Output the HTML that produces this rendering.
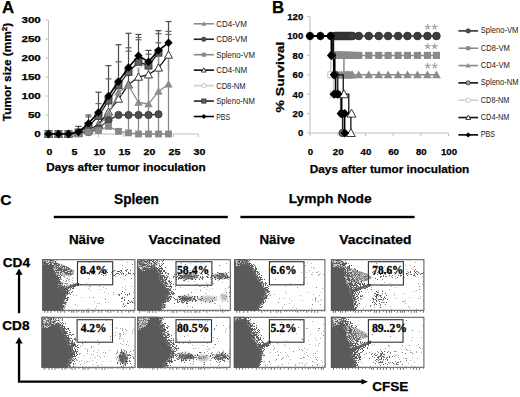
<!DOCTYPE html><html><head><meta charset="utf-8"><style>html,body{margin:0;padding:0;background:#fff;width:520px;height:397px;overflow:hidden}svg{display:block}</style></head><body>
<svg width="520" height="397" viewBox="0 0 520 397">
<rect width="520" height="397" fill="#fff"/>
<g id="chartA">
<text x="2" y="12.8" font-size="16.8" font-weight="bold" stroke="#000" stroke-width="0.25" fill="#000" font-family="Liberation Sans">A</text>
<line x1="48.5" y1="20.0" x2="48.5" y2="134.0" stroke="#bdbdbd" stroke-width="1"/>
<line x1="48.5" y1="134.0" x2="198.5" y2="134.0" stroke="#bdbdbd" stroke-width="1"/>
<line x1="45.5" y1="134" x2="48.5" y2="134" stroke="#bdbdbd" stroke-width="1"/>
<line x1="45.5" y1="115" x2="48.5" y2="115" stroke="#bdbdbd" stroke-width="1"/>
<line x1="45.5" y1="96" x2="48.5" y2="96" stroke="#bdbdbd" stroke-width="1"/>
<line x1="45.5" y1="77" x2="48.5" y2="77" stroke="#bdbdbd" stroke-width="1"/>
<line x1="45.5" y1="58" x2="48.5" y2="58" stroke="#bdbdbd" stroke-width="1"/>
<line x1="45.5" y1="39" x2="48.5" y2="39" stroke="#bdbdbd" stroke-width="1"/>
<line x1="45.5" y1="20" x2="48.5" y2="20" stroke="#bdbdbd" stroke-width="1"/>
<line x1="48.5" y1="134.0" x2="48.5" y2="137.0" stroke="#bdbdbd" stroke-width="1"/>
<line x1="73.5" y1="134.0" x2="73.5" y2="137.0" stroke="#bdbdbd" stroke-width="1"/>
<line x1="98.5" y1="134.0" x2="98.5" y2="137.0" stroke="#bdbdbd" stroke-width="1"/>
<line x1="123.5" y1="134.0" x2="123.5" y2="137.0" stroke="#bdbdbd" stroke-width="1"/>
<line x1="148.5" y1="134.0" x2="148.5" y2="137.0" stroke="#bdbdbd" stroke-width="1"/>
<line x1="173.5" y1="134.0" x2="173.5" y2="137.0" stroke="#bdbdbd" stroke-width="1"/>
<line x1="198.5" y1="134.0" x2="198.5" y2="137.0" stroke="#bdbdbd" stroke-width="1"/>
<text x="34.35" y="137.3" font-size="9.3" font-weight="bold" stroke="#000" stroke-width="0.25" fill="#000" font-family="Liberation Sans" textLength="6.45" lengthAdjust="spacingAndGlyphs">0</text>
<text x="27.9" y="118.3" font-size="9.3" font-weight="bold" stroke="#000" stroke-width="0.25" fill="#000" font-family="Liberation Sans" textLength="12.9" lengthAdjust="spacingAndGlyphs">50</text>
<text x="21.45" y="99.3" font-size="9.3" font-weight="bold" stroke="#000" stroke-width="0.25" fill="#000" font-family="Liberation Sans" textLength="19.35" lengthAdjust="spacingAndGlyphs">100</text>
<text x="21.45" y="80.3" font-size="9.3" font-weight="bold" stroke="#000" stroke-width="0.25" fill="#000" font-family="Liberation Sans" textLength="19.35" lengthAdjust="spacingAndGlyphs">150</text>
<text x="21.45" y="61.3" font-size="9.3" font-weight="bold" stroke="#000" stroke-width="0.25" fill="#000" font-family="Liberation Sans" textLength="19.35" lengthAdjust="spacingAndGlyphs">200</text>
<text x="21.45" y="42.3" font-size="9.3" font-weight="bold" stroke="#000" stroke-width="0.25" fill="#000" font-family="Liberation Sans" textLength="19.35" lengthAdjust="spacingAndGlyphs">250</text>
<text x="21.45" y="23.3" font-size="9.3" font-weight="bold" stroke="#000" stroke-width="0.25" fill="#000" font-family="Liberation Sans" textLength="19.35" lengthAdjust="spacingAndGlyphs">300</text>
<text x="46.45" y="154.7" font-size="9.5" font-weight="bold" stroke="#000" stroke-width="0.25" fill="#000" font-family="Liberation Sans" textLength="5.9" lengthAdjust="spacingAndGlyphs">0</text>
<text x="71.45" y="154.7" font-size="9.5" font-weight="bold" stroke="#000" stroke-width="0.25" fill="#000" font-family="Liberation Sans" textLength="5.9" lengthAdjust="spacingAndGlyphs">5</text>
<text x="93.5" y="154.7" font-size="9.5" font-weight="bold" stroke="#000" stroke-width="0.25" fill="#000" font-family="Liberation Sans" textLength="11.8" lengthAdjust="spacingAndGlyphs">10</text>
<text x="118.5" y="154.7" font-size="9.5" font-weight="bold" stroke="#000" stroke-width="0.25" fill="#000" font-family="Liberation Sans" textLength="11.8" lengthAdjust="spacingAndGlyphs">15</text>
<text x="143.5" y="154.7" font-size="9.5" font-weight="bold" stroke="#000" stroke-width="0.25" fill="#000" font-family="Liberation Sans" textLength="11.8" lengthAdjust="spacingAndGlyphs">20</text>
<text x="168.5" y="154.7" font-size="9.5" font-weight="bold" stroke="#000" stroke-width="0.25" fill="#000" font-family="Liberation Sans" textLength="11.8" lengthAdjust="spacingAndGlyphs">25</text>
<text x="193.5" y="154.7" font-size="9.5" font-weight="bold" stroke="#000" stroke-width="0.25" fill="#000" font-family="Liberation Sans" textLength="11.8" lengthAdjust="spacingAndGlyphs">30</text>
<text x="46.2" y="171" font-size="11.6" font-weight="bold" stroke="#000" stroke-width="0.25" fill="#000" font-family="Liberation Sans" textLength="159.5" lengthAdjust="spacingAndGlyphs">Days after tumor inoculation</text>
<text transform="translate(10.9,121.2) rotate(-90)" x="0" y="0" font-size="11" font-weight="bold" stroke="#000" stroke-width="0.25" font-family="Liberation Sans" textLength="98.5" lengthAdjust="spacingAndGlyphs">Tumor size (mm<tspan font-size="7.5" dy="-3.8">2</tspan><tspan dy="3.8">)</tspan></text>
<line x1="88.5" y1="115" x2="88.5" y2="126.4" stroke="#4a4a4a" stroke-width="1.2"/>
<line x1="85.5" y1="115" x2="91.5" y2="115" stroke="#4a4a4a" stroke-width="1.2"/>
<line x1="98.5" y1="92.2" x2="98.5" y2="118.8" stroke="#4a4a4a" stroke-width="1.2"/>
<line x1="95.5" y1="92.2" x2="101.5" y2="92.2" stroke="#4a4a4a" stroke-width="1.2"/>
<line x1="108.5" y1="65.6" x2="108.5" y2="107.4" stroke="#4a4a4a" stroke-width="1.2"/>
<line x1="105.5" y1="65.6" x2="111.5" y2="65.6" stroke="#4a4a4a" stroke-width="1.2"/>
<line x1="118.5" y1="44.7" x2="118.5" y2="92.2" stroke="#4a4a4a" stroke-width="1.2"/>
<line x1="115.5" y1="44.7" x2="121.5" y2="44.7" stroke="#4a4a4a" stroke-width="1.2"/>
<line x1="128.5" y1="33.3" x2="128.5" y2="88.4" stroke="#4a4a4a" stroke-width="1.2"/>
<line x1="125.5" y1="33.3" x2="131.5" y2="33.3" stroke="#4a4a4a" stroke-width="1.2"/>
<line x1="138.5" y1="34.44" x2="138.5" y2="96" stroke="#4a4a4a" stroke-width="1.2"/>
<line x1="135.5" y1="34.44" x2="141.5" y2="34.44" stroke="#4a4a4a" stroke-width="1.2"/>
<line x1="148.5" y1="50.4" x2="148.5" y2="92.2" stroke="#4a4a4a" stroke-width="1.2"/>
<line x1="145.5" y1="50.4" x2="151.5" y2="50.4" stroke="#4a4a4a" stroke-width="1.2"/>
<line x1="158.5" y1="30.64" x2="158.5" y2="77" stroke="#4a4a4a" stroke-width="1.2"/>
<line x1="155.5" y1="30.64" x2="161.5" y2="30.64" stroke="#4a4a4a" stroke-width="1.2"/>
<line x1="168.5" y1="21.52" x2="168.5" y2="69.4" stroke="#4a4a4a" stroke-width="1.2"/>
<line x1="165.5" y1="21.52" x2="171.5" y2="21.52" stroke="#4a4a4a" stroke-width="1.2"/>
<line x1="78.5" y1="126.4" x2="78.5" y2="134" stroke="#4a4a4a" stroke-width="1.2"/>
<line x1="75.5" y1="126.4" x2="81.5" y2="126.4" stroke="#4a4a4a" stroke-width="1.2"/>
<line x1="115.5" y1="61.8" x2="121.5" y2="61.8" stroke="#666" stroke-width="1.2"/>
<line x1="125.5" y1="47.74" x2="131.5" y2="47.74" stroke="#666" stroke-width="1.2"/>
<line x1="125.5" y1="51.16" x2="131.5" y2="51.16" stroke="#666" stroke-width="1.2"/>
<line x1="135.5" y1="37.48" x2="141.5" y2="37.48" stroke="#666" stroke-width="1.2"/>
<line x1="135.5" y1="39.76" x2="141.5" y2="39.76" stroke="#666" stroke-width="1.2"/>
<line x1="145.5" y1="54.2" x2="151.5" y2="54.2" stroke="#666" stroke-width="1.2"/>
<line x1="155.5" y1="33.68" x2="161.5" y2="33.68" stroke="#666" stroke-width="1.2"/>
<line x1="155.5" y1="42.8" x2="161.5" y2="42.8" stroke="#666" stroke-width="1.2"/>
<line x1="165.5" y1="31.4" x2="171.5" y2="31.4" stroke="#666" stroke-width="1.2"/>
<line x1="165.5" y1="34.44" x2="171.5" y2="34.44" stroke="#666" stroke-width="1.2"/>
<line x1="95.5" y1="103.6" x2="101.5" y2="103.6" stroke="#666" stroke-width="1.2"/>
<line x1="105.5" y1="78.9" x2="111.5" y2="78.9" stroke="#666" stroke-width="1.2"/>
<line x1="85.5" y1="116.9" x2="91.5" y2="116.9" stroke="#666" stroke-width="1.2"/>
<line x1="128.5" y1="84.6" x2="128.5" y2="134" stroke="#8a8a8a" stroke-width="1.3"/>
<line x1="138.5" y1="69.4" x2="138.5" y2="134" stroke="#8a8a8a" stroke-width="1.3"/>
<line x1="148.5" y1="73.2" x2="148.5" y2="134" stroke="#8a8a8a" stroke-width="1.3"/>
<line x1="158.5" y1="50.4" x2="158.5" y2="134" stroke="#8a8a8a" stroke-width="1.3"/>
<line x1="168.5" y1="54.2" x2="168.5" y2="134" stroke="#8a8a8a" stroke-width="1.3"/>
<polyline fill="none" stroke="#cfcfcf" stroke-width="1.3" points="48.5,134 58.5,134 68.5,134 78.5,132.1 88.5,125.64 98.5,115 108.5,97.9 118.5,80.8 128.5,70.16 138.5,64.84 148.5,66.36 158.5,53.44"/>
<circle cx="48.5" cy="134" r="3.5" fill="#fff" stroke="#c8c8c8" stroke-width="1"/>
<circle cx="58.5" cy="134" r="3.5" fill="#fff" stroke="#c8c8c8" stroke-width="1"/>
<circle cx="68.5" cy="134" r="3.5" fill="#fff" stroke="#c8c8c8" stroke-width="1"/>
<circle cx="78.5" cy="132.1" r="3.5" fill="#fff" stroke="#c8c8c8" stroke-width="1"/>
<circle cx="88.5" cy="125.64" r="3.5" fill="#fff" stroke="#c8c8c8" stroke-width="1"/>
<circle cx="98.5" cy="115" r="3.5" fill="#fff" stroke="#c8c8c8" stroke-width="1"/>
<circle cx="108.5" cy="97.9" r="3.5" fill="#fff" stroke="#c8c8c8" stroke-width="1"/>
<circle cx="118.5" cy="80.8" r="3.5" fill="#fff" stroke="#c8c8c8" stroke-width="1"/>
<circle cx="128.5" cy="70.16" r="3.5" fill="#fff" stroke="#c8c8c8" stroke-width="1"/>
<circle cx="138.5" cy="64.84" r="3.5" fill="#fff" stroke="#c8c8c8" stroke-width="1"/>
<circle cx="148.5" cy="66.36" r="3.5" fill="#fff" stroke="#c8c8c8" stroke-width="1"/>
<circle cx="158.5" cy="53.44" r="3.5" fill="#fff" stroke="#c8c8c8" stroke-width="1"/>
<polyline fill="none" stroke="#222" stroke-width="1.3" points="48.5,134 58.5,134 68.5,134 78.5,132.48 88.5,126.4 98.5,116.14 108.5,100.56 118.5,85.36 128.5,72.06 138.5,61.8 148.5,65.6 158.5,52.68"/>
<rect x="45" y="130.5" width="7" height="7" fill="#606060" stroke="#333" stroke-width="0.8"/>
<rect x="55" y="130.5" width="7" height="7" fill="#606060" stroke="#333" stroke-width="0.8"/>
<rect x="65" y="130.5" width="7" height="7" fill="#606060" stroke="#333" stroke-width="0.8"/>
<rect x="75" y="128.98" width="7" height="7" fill="#606060" stroke="#333" stroke-width="0.8"/>
<rect x="85" y="122.9" width="7" height="7" fill="#606060" stroke="#333" stroke-width="0.8"/>
<rect x="95" y="112.64" width="7" height="7" fill="#606060" stroke="#333" stroke-width="0.8"/>
<rect x="105" y="97.06" width="7" height="7" fill="#606060" stroke="#333" stroke-width="0.8"/>
<rect x="115" y="81.86" width="7" height="7" fill="#606060" stroke="#333" stroke-width="0.8"/>
<rect x="125" y="68.56" width="7" height="7" fill="#606060" stroke="#333" stroke-width="0.8"/>
<rect x="135" y="58.3" width="7" height="7" fill="#606060" stroke="#333" stroke-width="0.8"/>
<rect x="145" y="62.1" width="7" height="7" fill="#606060" stroke="#333" stroke-width="0.8"/>
<rect x="155" y="49.18" width="7" height="7" fill="#606060" stroke="#333" stroke-width="0.8"/>
<polyline fill="none" stroke="#111" stroke-width="1.3" points="48.5,134 58.5,134 68.5,134 78.5,133.24 88.5,130.2 98.5,124.5 108.5,111.96 118.5,99.04 128.5,84.6 138.5,77 148.5,74.72 158.5,67.88 168.5,54.96"/>
<path d="M48.5 130L52.5 137.2L44.5 137.2Z" fill="#fff" stroke="#222" stroke-width="0.9"/>
<path d="M58.5 130L62.5 137.2L54.5 137.2Z" fill="#fff" stroke="#222" stroke-width="0.9"/>
<path d="M68.5 130L72.5 137.2L64.5 137.2Z" fill="#fff" stroke="#222" stroke-width="0.9"/>
<path d="M78.5 129.24L82.5 136.44L74.5 136.44Z" fill="#fff" stroke="#222" stroke-width="0.9"/>
<path d="M88.5 126.2L92.5 133.4L84.5 133.4Z" fill="#fff" stroke="#222" stroke-width="0.9"/>
<path d="M98.5 120.5L102.5 127.7L94.5 127.7Z" fill="#fff" stroke="#222" stroke-width="0.9"/>
<path d="M108.5 107.96L112.5 115.16L104.5 115.16Z" fill="#fff" stroke="#222" stroke-width="0.9"/>
<path d="M118.5 95.04L122.5 102.24L114.5 102.24Z" fill="#fff" stroke="#222" stroke-width="0.9"/>
<path d="M128.5 80.6L132.5 87.8L124.5 87.8Z" fill="#fff" stroke="#222" stroke-width="0.9"/>
<path d="M138.5 73L142.5 80.2L134.5 80.2Z" fill="#fff" stroke="#222" stroke-width="0.9"/>
<path d="M148.5 70.72L152.5 77.92L144.5 77.92Z" fill="#fff" stroke="#222" stroke-width="0.9"/>
<path d="M158.5 63.88L162.5 71.08L154.5 71.08Z" fill="#fff" stroke="#222" stroke-width="0.9"/>
<path d="M168.5 50.96L172.5 58.16L164.5 58.16Z" fill="#fff" stroke="#222" stroke-width="0.9"/>
<polyline fill="none" stroke="#8c8c8c" stroke-width="1.3" points="48.5,134 58.5,134 68.5,134 78.5,133.24 88.5,130.96 98.5,125.64 108.5,114.24 118.5,92.2 128.5,85.36 138.5,102.46 148.5,103.98 158.5,91.44 168.5,84.22"/>
<path d="M48.5 129.8L52.7 137.36L44.3 137.36Z" fill="#8c8c8c"/>
<path d="M58.5 129.8L62.7 137.36L54.3 137.36Z" fill="#8c8c8c"/>
<path d="M68.5 129.8L72.7 137.36L64.3 137.36Z" fill="#8c8c8c"/>
<path d="M78.5 129.04L82.7 136.6L74.3 136.6Z" fill="#8c8c8c"/>
<path d="M88.5 126.76L92.7 134.32L84.3 134.32Z" fill="#8c8c8c"/>
<path d="M98.5 121.44L102.7 129L94.3 129Z" fill="#8c8c8c"/>
<path d="M108.5 110.04L112.7 117.6L104.3 117.6Z" fill="#8c8c8c"/>
<path d="M118.5 88L122.7 95.56L114.3 95.56Z" fill="#8c8c8c"/>
<path d="M128.5 81.16L132.7 88.72L124.3 88.72Z" fill="#8c8c8c"/>
<path d="M138.5 98.26L142.7 105.82L134.3 105.82Z" fill="#8c8c8c"/>
<path d="M148.5 99.78L152.7 107.34L144.3 107.34Z" fill="#8c8c8c"/>
<path d="M158.5 87.24L162.7 94.8L154.3 94.8Z" fill="#8c8c8c"/>
<path d="M168.5 80.02L172.7 87.58L164.3 87.58Z" fill="#8c8c8c"/>
<polyline fill="none" stroke="#3a3a3a" stroke-width="1.3" points="48.5,134 58.5,134 68.5,134 78.5,133.24 88.5,132.1 98.5,128.3 108.5,120.32 118.5,115 128.5,115 138.5,115 148.5,115 158.5,114.24"/>
<circle cx="48.5" cy="134" r="3.7" fill="#4d4d4d" stroke="#333" stroke-width="0.6"/>
<circle cx="58.5" cy="134" r="3.7" fill="#4d4d4d" stroke="#333" stroke-width="0.6"/>
<circle cx="68.5" cy="134" r="3.7" fill="#4d4d4d" stroke="#333" stroke-width="0.6"/>
<circle cx="78.5" cy="133.24" r="3.7" fill="#4d4d4d" stroke="#333" stroke-width="0.6"/>
<circle cx="88.5" cy="132.1" r="3.7" fill="#4d4d4d" stroke="#333" stroke-width="0.6"/>
<circle cx="98.5" cy="128.3" r="3.7" fill="#4d4d4d" stroke="#333" stroke-width="0.6"/>
<circle cx="108.5" cy="120.32" r="3.7" fill="#4d4d4d" stroke="#333" stroke-width="0.6"/>
<circle cx="118.5" cy="115" r="3.7" fill="#4d4d4d" stroke="#333" stroke-width="0.6"/>
<circle cx="128.5" cy="115" r="3.7" fill="#4d4d4d" stroke="#333" stroke-width="0.6"/>
<circle cx="138.5" cy="115" r="3.7" fill="#4d4d4d" stroke="#333" stroke-width="0.6"/>
<circle cx="148.5" cy="115" r="3.7" fill="#4d4d4d" stroke="#333" stroke-width="0.6"/>
<circle cx="158.5" cy="114.24" r="3.7" fill="#4d4d4d" stroke="#333" stroke-width="0.6"/>
<polyline fill="none" stroke="#888" stroke-width="1.3" points="48.5,134 58.5,134 68.5,134 78.5,134 88.5,132.1 98.5,130.58 108.5,126.4 118.5,131.34 128.5,132.86 138.5,134 148.5,134 158.5,134 168.5,134"/>
<rect x="45.1" y="130.6" width="6.8" height="6.8" fill="#888"/>
<rect x="55.1" y="130.6" width="6.8" height="6.8" fill="#888"/>
<rect x="65.1" y="130.6" width="6.8" height="6.8" fill="#888"/>
<rect x="75.1" y="130.6" width="6.8" height="6.8" fill="#888"/>
<rect x="85.1" y="128.7" width="6.8" height="6.8" fill="#888"/>
<rect x="95.1" y="127.18" width="6.8" height="6.8" fill="#888"/>
<rect x="105.1" y="123" width="6.8" height="6.8" fill="#888"/>
<rect x="115.1" y="127.94" width="6.8" height="6.8" fill="#888"/>
<rect x="125.1" y="129.46" width="6.8" height="6.8" fill="#888"/>
<rect x="135.1" y="130.6" width="6.8" height="6.8" fill="#888"/>
<rect x="145.1" y="130.6" width="6.8" height="6.8" fill="#888"/>
<rect x="155.1" y="130.6" width="6.8" height="6.8" fill="#888"/>
<rect x="165.1" y="130.6" width="6.8" height="6.8" fill="#888"/>
<polyline fill="none" stroke="#000" stroke-width="1.6" points="48.5,134 58.5,134 68.5,134 78.5,132.1 88.5,123.36 98.5,112.34 108.5,96 118.5,81.56 128.5,67.5 138.5,55.72 148.5,61.8 158.5,50.4 168.5,42.8"/>
<path d="M48.5 129.8L52.7 134L48.5 138.2L44.3 134Z" fill="#000"/>
<path d="M58.5 129.8L62.7 134L58.5 138.2L54.3 134Z" fill="#000"/>
<path d="M68.5 129.8L72.7 134L68.5 138.2L64.3 134Z" fill="#000"/>
<path d="M78.5 127.9L82.7 132.1L78.5 136.3L74.3 132.1Z" fill="#000"/>
<path d="M88.5 119.16L92.7 123.36L88.5 127.56L84.3 123.36Z" fill="#000"/>
<path d="M98.5 108.14L102.7 112.34L98.5 116.54L94.3 112.34Z" fill="#000"/>
<path d="M108.5 91.8L112.7 96L108.5 100.2L104.3 96Z" fill="#000"/>
<path d="M118.5 77.36L122.7 81.56L118.5 85.76L114.3 81.56Z" fill="#000"/>
<path d="M128.5 63.3L132.7 67.5L128.5 71.7L124.3 67.5Z" fill="#000"/>
<path d="M138.5 51.52L142.7 55.72L138.5 59.92L134.3 55.72Z" fill="#000"/>
<path d="M148.5 57.6L152.7 61.8L148.5 66L144.3 61.8Z" fill="#000"/>
<path d="M158.5 46.2L162.7 50.4L158.5 54.6L154.3 50.4Z" fill="#000"/>
<path d="M168.5 38.6L172.7 42.8L168.5 47L164.3 42.8Z" fill="#000"/>
</g>
<line x1="193.8" y1="23.8" x2="213.9" y2="23.8" stroke="#8c8c8c" stroke-width="1.6"/>
<path d="M203.8 21.28L206.32 25.82L201.28 25.82Z" fill="#8c8c8c"/>
<text x="216.2" y="26.9" font-size="8.6" fill="#222" font-family="Liberation Sans" textLength="30.7" lengthAdjust="spacingAndGlyphs">CD4-VM</text>
<line x1="193.8" y1="39.25" x2="213.9" y2="39.25" stroke="#222" stroke-width="1.6"/>
<circle cx="203.8" cy="39.25" r="2.22" fill="#4d4d4d" stroke="#333" stroke-width="0.6"/>
<text x="216.2" y="42.35" font-size="8.6" fill="#222" font-family="Liberation Sans" textLength="31" lengthAdjust="spacingAndGlyphs">CD8-VM</text>
<line x1="193.8" y1="54.7" x2="213.9" y2="54.7" stroke="#888" stroke-width="1.6"/>
<rect x="201.76" y="52.66" width="4.08" height="4.08" fill="#888"/>
<text x="216.2" y="57.8" font-size="8.6" fill="#222" font-family="Liberation Sans" textLength="39" lengthAdjust="spacingAndGlyphs">Spleno-VM</text>
<line x1="193.8" y1="70.15" x2="213.9" y2="70.15" stroke="#111" stroke-width="1.6"/>
<path d="M203.8 67.75L206.2 72.07L201.4 72.07Z" fill="#fff" stroke="#222" stroke-width="0.9"/>
<text x="216.2" y="73.25" font-size="8.6" fill="#222" font-family="Liberation Sans" textLength="31" lengthAdjust="spacingAndGlyphs">CD4-NM</text>
<line x1="193.8" y1="85.6" x2="213.9" y2="85.6" stroke="#cfcfcf" stroke-width="1.6"/>
<circle cx="203.8" cy="85.6" r="2.1" fill="#fff" stroke="#c8c8c8" stroke-width="1"/>
<text x="216.2" y="88.7" font-size="8.6" fill="#222" font-family="Liberation Sans" textLength="29.3" lengthAdjust="spacingAndGlyphs">CD8-NM</text>
<line x1="193.8" y1="101.05" x2="213.9" y2="101.05" stroke="#222" stroke-width="1.6"/>
<rect x="201.7" y="98.95" width="4.2" height="4.2" fill="#606060" stroke="#333" stroke-width="0.8"/>
<text x="216.2" y="104.15" font-size="8.6" fill="#222" font-family="Liberation Sans" textLength="38.7" lengthAdjust="spacingAndGlyphs">Spleno-NM</text>
<line x1="193.8" y1="116.5" x2="213.9" y2="116.5" stroke="#000" stroke-width="1.6"/>
<path d="M203.8 113.98L206.32 116.5L203.8 119.02L201.28 116.5Z" fill="#000"/>
<text x="216.2" y="119.6" font-size="8.6" fill="#222" font-family="Liberation Sans" textLength="14" lengthAdjust="spacingAndGlyphs">PBS</text>
<g id="chartB">
<text x="272" y="12.8" font-size="16.8" font-weight="bold" stroke="#000" stroke-width="0.25" fill="#000" font-family="Liberation Sans">B</text>
<line x1="310.0" y1="16.6" x2="310.0" y2="133.0" stroke="#bdbdbd" stroke-width="1"/>
<line x1="310.0" y1="133.0" x2="448.5" y2="133.0" stroke="#bdbdbd" stroke-width="1"/>
<line x1="307" y1="133" x2="310" y2="133" stroke="#bdbdbd" stroke-width="1"/>
<line x1="307" y1="113.6" x2="310" y2="113.6" stroke="#bdbdbd" stroke-width="1"/>
<line x1="307" y1="94.2" x2="310" y2="94.2" stroke="#bdbdbd" stroke-width="1"/>
<line x1="307" y1="74.8" x2="310" y2="74.8" stroke="#bdbdbd" stroke-width="1"/>
<line x1="307" y1="55.4" x2="310" y2="55.4" stroke="#bdbdbd" stroke-width="1"/>
<line x1="307" y1="36" x2="310" y2="36" stroke="#bdbdbd" stroke-width="1"/>
<line x1="307" y1="16.6" x2="310" y2="16.6" stroke="#bdbdbd" stroke-width="1"/>
<line x1="310" y1="133.0" x2="310" y2="136.0" stroke="#bdbdbd" stroke-width="1"/>
<line x1="337.7" y1="133.0" x2="337.7" y2="136.0" stroke="#bdbdbd" stroke-width="1"/>
<line x1="365.4" y1="133.0" x2="365.4" y2="136.0" stroke="#bdbdbd" stroke-width="1"/>
<line x1="393.1" y1="133.0" x2="393.1" y2="136.0" stroke="#bdbdbd" stroke-width="1"/>
<line x1="420.8" y1="133.0" x2="420.8" y2="136.0" stroke="#bdbdbd" stroke-width="1"/>
<line x1="448.5" y1="133.0" x2="448.5" y2="136.0" stroke="#bdbdbd" stroke-width="1"/>
<text x="297.9" y="136.3" font-size="9.5" font-weight="bold" stroke="#000" stroke-width="0.25" fill="#000" font-family="Liberation Sans" textLength="5.3" lengthAdjust="spacingAndGlyphs">0</text>
<text x="292.6" y="116.9" font-size="9.5" font-weight="bold" stroke="#000" stroke-width="0.25" fill="#000" font-family="Liberation Sans" textLength="10.6" lengthAdjust="spacingAndGlyphs">20</text>
<text x="292.6" y="97.5" font-size="9.5" font-weight="bold" stroke="#000" stroke-width="0.25" fill="#000" font-family="Liberation Sans" textLength="10.6" lengthAdjust="spacingAndGlyphs">40</text>
<text x="292.6" y="78.1" font-size="9.5" font-weight="bold" stroke="#000" stroke-width="0.25" fill="#000" font-family="Liberation Sans" textLength="10.6" lengthAdjust="spacingAndGlyphs">60</text>
<text x="292.6" y="58.7" font-size="9.5" font-weight="bold" stroke="#000" stroke-width="0.25" fill="#000" font-family="Liberation Sans" textLength="10.6" lengthAdjust="spacingAndGlyphs">80</text>
<text x="287.3" y="39.3" font-size="9.5" font-weight="bold" stroke="#000" stroke-width="0.25" fill="#000" font-family="Liberation Sans" textLength="15.9" lengthAdjust="spacingAndGlyphs">100</text>
<text x="287.3" y="19.9" font-size="9.5" font-weight="bold" stroke="#000" stroke-width="0.25" fill="#000" font-family="Liberation Sans" textLength="15.9" lengthAdjust="spacingAndGlyphs">120</text>
<text x="307.8" y="154.5" font-size="9.5" font-weight="bold" stroke="#000" stroke-width="0.25" fill="#000" font-family="Liberation Sans" textLength="5.4" lengthAdjust="spacingAndGlyphs">0</text>
<text x="332.8" y="154.5" font-size="9.5" font-weight="bold" stroke="#000" stroke-width="0.25" fill="#000" font-family="Liberation Sans" textLength="10.8" lengthAdjust="spacingAndGlyphs">20</text>
<text x="360.5" y="154.5" font-size="9.5" font-weight="bold" stroke="#000" stroke-width="0.25" fill="#000" font-family="Liberation Sans" textLength="10.8" lengthAdjust="spacingAndGlyphs">40</text>
<text x="388.2" y="154.5" font-size="9.5" font-weight="bold" stroke="#000" stroke-width="0.25" fill="#000" font-family="Liberation Sans" textLength="10.8" lengthAdjust="spacingAndGlyphs">60</text>
<text x="415.9" y="154.5" font-size="9.5" font-weight="bold" stroke="#000" stroke-width="0.25" fill="#000" font-family="Liberation Sans" textLength="10.8" lengthAdjust="spacingAndGlyphs">80</text>
<text x="440.9" y="154.5" font-size="9.5" font-weight="bold" stroke="#000" stroke-width="0.25" fill="#000" font-family="Liberation Sans" textLength="16.2" lengthAdjust="spacingAndGlyphs">100</text>
<text x="309.8" y="172.9" font-size="11.6" font-weight="bold" stroke="#000" stroke-width="0.25" fill="#000" font-family="Liberation Sans" textLength="159.5" lengthAdjust="spacingAndGlyphs">Days after tumor inoculation</text>
<text transform="translate(284.1,112.6) rotate(-90)" x="0" y="0" font-size="11.5" font-weight="bold" stroke="#000" stroke-width="0.25" font-family="Liberation Sans" textLength="71" lengthAdjust="spacingAndGlyphs">% Survival</text>
<path d="M310 36H436.03 V36" fill="none" stroke="#333" stroke-width="1.5"/>
<path d="M310 36H332.16 V55.4H436.03 V55.4" fill="none" stroke="#8a8a8a" stroke-width="1.5"/>
<path d="M310 36H332.16 V55.4H343.93 V74.8H436.03 V74.8" fill="none" stroke="#8a8a8a" stroke-width="1.5"/>
<circle cx="334.93" cy="36" r="3.9" fill="#3c3c3c" stroke="#2a2a2a" stroke-width="0.6"/>
<circle cx="336.18" cy="36" r="3.9" fill="#3c3c3c" stroke="#2a2a2a" stroke-width="0.6"/>
<circle cx="337.42" cy="36" r="3.9" fill="#3c3c3c" stroke="#2a2a2a" stroke-width="0.6"/>
<circle cx="338.67" cy="36" r="3.9" fill="#3c3c3c" stroke="#2a2a2a" stroke-width="0.6"/>
<circle cx="339.92" cy="36" r="3.9" fill="#3c3c3c" stroke="#2a2a2a" stroke-width="0.6"/>
<circle cx="341.16" cy="36" r="3.9" fill="#3c3c3c" stroke="#2a2a2a" stroke-width="0.6"/>
<circle cx="342.41" cy="36" r="3.9" fill="#3c3c3c" stroke="#2a2a2a" stroke-width="0.6"/>
<circle cx="343.66" cy="36" r="3.9" fill="#3c3c3c" stroke="#2a2a2a" stroke-width="0.6"/>
<circle cx="344.9" cy="36" r="3.9" fill="#3c3c3c" stroke="#2a2a2a" stroke-width="0.6"/>
<circle cx="346.15" cy="36" r="3.9" fill="#3c3c3c" stroke="#2a2a2a" stroke-width="0.6"/>
<circle cx="347.39" cy="36" r="3.9" fill="#3c3c3c" stroke="#2a2a2a" stroke-width="0.6"/>
<circle cx="348.64" cy="36" r="3.9" fill="#3c3c3c" stroke="#2a2a2a" stroke-width="0.6"/>
<circle cx="349.89" cy="36" r="3.9" fill="#3c3c3c" stroke="#2a2a2a" stroke-width="0.6"/>
<circle cx="351.13" cy="36" r="3.9" fill="#3c3c3c" stroke="#2a2a2a" stroke-width="0.6"/>
<circle cx="352.38" cy="36" r="3.9" fill="#3c3c3c" stroke="#2a2a2a" stroke-width="0.6"/>
<circle cx="358.75" cy="36" r="3.9" fill="#3c3c3c" stroke="#2a2a2a" stroke-width="0.6"/>
<circle cx="368.72" cy="36" r="3.9" fill="#3c3c3c" stroke="#2a2a2a" stroke-width="0.6"/>
<circle cx="378.7" cy="36" r="3.9" fill="#3c3c3c" stroke="#2a2a2a" stroke-width="0.6"/>
<circle cx="388.11" cy="36" r="3.9" fill="#3c3c3c" stroke="#2a2a2a" stroke-width="0.6"/>
<circle cx="398.09" cy="36" r="3.9" fill="#3c3c3c" stroke="#2a2a2a" stroke-width="0.6"/>
<circle cx="407.5" cy="36" r="3.9" fill="#3c3c3c" stroke="#2a2a2a" stroke-width="0.6"/>
<circle cx="417.48" cy="36" r="3.9" fill="#3c3c3c" stroke="#2a2a2a" stroke-width="0.6"/>
<circle cx="427.45" cy="36" r="3.9" fill="#3c3c3c" stroke="#2a2a2a" stroke-width="0.6"/>
<circle cx="436.45" cy="36" r="3.9" fill="#3c3c3c" stroke="#2a2a2a" stroke-width="0.6"/>
<rect x="331.36" y="51.83" width="7.14" height="7.14" fill="#8a8a8a"/>
<rect x="332.61" y="51.83" width="7.14" height="7.14" fill="#8a8a8a"/>
<rect x="333.85" y="51.83" width="7.14" height="7.14" fill="#8a8a8a"/>
<rect x="335.1" y="51.83" width="7.14" height="7.14" fill="#8a8a8a"/>
<rect x="336.35" y="51.83" width="7.14" height="7.14" fill="#8a8a8a"/>
<rect x="337.59" y="51.83" width="7.14" height="7.14" fill="#8a8a8a"/>
<rect x="338.84" y="51.83" width="7.14" height="7.14" fill="#8a8a8a"/>
<rect x="340.09" y="51.83" width="7.14" height="7.14" fill="#8a8a8a"/>
<rect x="341.33" y="51.83" width="7.14" height="7.14" fill="#8a8a8a"/>
<rect x="342.58" y="51.83" width="7.14" height="7.14" fill="#8a8a8a"/>
<rect x="343.82" y="51.83" width="7.14" height="7.14" fill="#8a8a8a"/>
<rect x="345.07" y="51.83" width="7.14" height="7.14" fill="#8a8a8a"/>
<rect x="346.32" y="51.83" width="7.14" height="7.14" fill="#8a8a8a"/>
<rect x="347.56" y="51.83" width="7.14" height="7.14" fill="#8a8a8a"/>
<rect x="348.81" y="51.83" width="7.14" height="7.14" fill="#8a8a8a"/>
<rect x="355.18" y="51.83" width="7.14" height="7.14" fill="#8a8a8a"/>
<rect x="365.15" y="51.83" width="7.14" height="7.14" fill="#8a8a8a"/>
<rect x="375.13" y="51.83" width="7.14" height="7.14" fill="#8a8a8a"/>
<rect x="384.54" y="51.83" width="7.14" height="7.14" fill="#8a8a8a"/>
<rect x="394.52" y="51.83" width="7.14" height="7.14" fill="#8a8a8a"/>
<rect x="403.93" y="51.83" width="7.14" height="7.14" fill="#8a8a8a"/>
<rect x="413.91" y="51.83" width="7.14" height="7.14" fill="#8a8a8a"/>
<rect x="423.88" y="51.83" width="7.14" height="7.14" fill="#8a8a8a"/>
<rect x="432.88" y="51.83" width="7.14" height="7.14" fill="#8a8a8a"/>
<rect x="331.36" y="51.83" width="7.14" height="7.14" fill="#8a8a8a"/>
<rect x="332.61" y="51.83" width="7.14" height="7.14" fill="#8a8a8a"/>
<rect x="333.85" y="51.83" width="7.14" height="7.14" fill="#8a8a8a"/>
<rect x="335.1" y="51.83" width="7.14" height="7.14" fill="#8a8a8a"/>
<rect x="336.35" y="51.83" width="7.14" height="7.14" fill="#8a8a8a"/>
<rect x="337.59" y="51.83" width="7.14" height="7.14" fill="#8a8a8a"/>
<rect x="338.84" y="51.83" width="7.14" height="7.14" fill="#8a8a8a"/>
<path d="M343.66 70.39L348.07 78.33L339.25 78.33Z" fill="#8c8c8c"/>
<path d="M344.9 70.39L349.31 78.33L340.49 78.33Z" fill="#8c8c8c"/>
<path d="M346.15 70.39L350.56 78.33L341.74 78.33Z" fill="#8c8c8c"/>
<path d="M347.39 70.39L351.81 78.33L342.98 78.33Z" fill="#8c8c8c"/>
<path d="M348.64 70.39L353.05 78.33L344.23 78.33Z" fill="#8c8c8c"/>
<path d="M349.89 70.39L354.3 78.33L345.48 78.33Z" fill="#8c8c8c"/>
<path d="M351.13 70.39L355.54 78.33L346.72 78.33Z" fill="#8c8c8c"/>
<path d="M352.38 70.39L356.79 78.33L347.97 78.33Z" fill="#8c8c8c"/>
<path d="M358.75 70.39L363.16 78.33L354.34 78.33Z" fill="#8c8c8c"/>
<path d="M368.72 70.39L373.13 78.33L364.31 78.33Z" fill="#8c8c8c"/>
<path d="M378.7 70.39L383.11 78.33L374.29 78.33Z" fill="#8c8c8c"/>
<path d="M388.11 70.39L392.52 78.33L383.7 78.33Z" fill="#8c8c8c"/>
<path d="M398.09 70.39L402.5 78.33L393.68 78.33Z" fill="#8c8c8c"/>
<path d="M407.5 70.39L411.91 78.33L403.09 78.33Z" fill="#8c8c8c"/>
<path d="M417.48 70.39L421.89 78.33L413.07 78.33Z" fill="#8c8c8c"/>
<path d="M427.45 70.39L431.86 78.33L423.04 78.33Z" fill="#8c8c8c"/>
<path d="M436.45 70.39L440.86 78.33L432.04 78.33Z" fill="#8c8c8c"/>
<path d="M337.7 70.39L342.11 78.33L333.29 78.33Z" fill="#8c8c8c"/>
<path d="M339.78 70.39L344.19 78.33L335.37 78.33Z" fill="#8c8c8c"/>
<path d="M341.86 70.39L346.27 78.33L337.44 78.33Z" fill="#8c8c8c"/>
<path d="M310 36H330.77 V74.8H333.55 V94.2H340.47 V113.6H343.24 V133" fill="none" stroke="#c8c8c8" stroke-width="1.3"/>
<path d="M310 36H333.55 V74.8H343.24 V94.2H348.78 V113.6H350.86 V133" fill="none" stroke="#111" stroke-width="1.3"/>
<path d="M310 36H332.16 V55.4H334.93 V74.8H337.7 V94.2H341.86 V113.6H342.55 V133" fill="none" stroke="#222" stroke-width="1.4"/>
<path d="M310 36H331.47 V55.4H334.24 V74.8H335.62 V94.2H341.16 V113.6H344.62 V133" fill="none" stroke="#000" stroke-width="1.6"/>
<rect x="327.77" y="71.8" width="6" height="6" fill="#fff" stroke="#c0c0c0" stroke-width="1"/>
<rect x="330.55" y="91.2" width="6" height="6" fill="#fff" stroke="#c0c0c0" stroke-width="1"/>
<rect x="340.24" y="130" width="6" height="6" fill="#fff" stroke="#c0c0c0" stroke-width="1"/>
<circle cx="332.16" cy="55.4" r="3.6" fill="#888" stroke="#222" stroke-width="0.9"/>
<circle cx="334.93" cy="74.8" r="3.6" fill="#888" stroke="#222" stroke-width="0.9"/>
<circle cx="337.7" cy="94.2" r="3.6" fill="#888" stroke="#222" stroke-width="0.9"/>
<circle cx="341.86" cy="113.6" r="3.6" fill="#888" stroke="#222" stroke-width="0.9"/>
<circle cx="342.55" cy="133" r="3.6" fill="#888" stroke="#222" stroke-width="0.9"/>
<path d="M343.93 89.8L348.33 97.72L339.53 97.72Z" fill="#fff" stroke="#222" stroke-width="0.9"/>
<path d="M351.55 109.2L355.95 117.12L347.15 117.12Z" fill="#fff" stroke="#222" stroke-width="0.9"/>
<path d="M350.86 128.6L355.26 136.52L346.46 136.52Z" fill="#fff" stroke="#222" stroke-width="0.9"/>
<circle cx="310" cy="36" r="3.9" fill="#222"/>
<circle cx="320.39" cy="36" r="3.9" fill="#222"/>
<circle cx="330.77" cy="36" r="3.9" fill="#222"/>
<path d="M310 31.38L314.62 36L310 40.62L305.38 36Z" fill="#000"/>
<path d="M320.39 31.38L325.01 36L320.39 40.62L315.77 36Z" fill="#000"/>
<path d="M330.77 31.38L335.39 36L330.77 40.62L326.15 36Z" fill="#000"/>
<path d="M331.47 50.78L336.09 55.4L331.47 60.02L326.85 55.4Z" fill="#000"/>
<path d="M334.24 70.18L338.86 74.8L334.24 79.42L329.62 74.8Z" fill="#000"/>
<path d="M334.24 89.58L338.86 94.2L334.24 98.82L329.62 94.2Z" fill="#000"/>
<path d="M337.7 89.58L342.32 94.2L337.7 98.82L333.08 94.2Z" fill="#000"/>
<path d="M341.16 108.98L345.78 113.6L341.16 118.22L336.54 113.6Z" fill="#000"/>
<path d="M344.62 108.98L349.25 113.6L344.62 118.22L340 113.6Z" fill="#000"/>
<path d="M344.62 128.38L349.25 133L344.62 137.62L340 133Z" fill="#000"/>
<path d="M427.73 27L427.73 24.4M427.73 27L430.2 26.2M427.73 27L429.25 29.1M427.73 27L426.2 29.1M427.73 27L425.25 26.2" stroke="#a0a0a0" stroke-width="1.15" stroke-linecap="round" fill="none"/>
<path d="M434.65 27L434.65 24.4M434.65 27L437.12 26.2M434.65 27L436.18 29.1M434.65 27L433.12 29.1M434.65 27L432.18 26.2" stroke="#a0a0a0" stroke-width="1.15" stroke-linecap="round" fill="none"/>
<path d="M427.73 46.4L427.73 43.8M427.73 46.4L430.2 45.6M427.73 46.4L429.25 48.5M427.73 46.4L426.2 48.5M427.73 46.4L425.25 45.6" stroke="#a0a0a0" stroke-width="1.15" stroke-linecap="round" fill="none"/>
<path d="M434.65 46.4L434.65 43.8M434.65 46.4L437.12 45.6M434.65 46.4L436.18 48.5M434.65 46.4L433.12 48.5M434.65 46.4L432.18 45.6" stroke="#a0a0a0" stroke-width="1.15" stroke-linecap="round" fill="none"/>
<path d="M427.73 65.8L427.73 63.2M427.73 65.8L430.2 65M427.73 65.8L429.25 67.9M427.73 65.8L426.2 67.9M427.73 65.8L425.25 65" stroke="#a0a0a0" stroke-width="1.15" stroke-linecap="round" fill="none"/>
<path d="M434.65 65.8L434.65 63.2M434.65 65.8L437.12 65M434.65 65.8L436.18 67.9M434.65 65.8L433.12 67.9M434.65 65.8L432.18 65" stroke="#a0a0a0" stroke-width="1.15" stroke-linecap="round" fill="none"/>
</g>
<line x1="458.4" y1="30.9" x2="478.1" y2="30.9" stroke="#333" stroke-width="1.6"/>
<circle cx="468.2" cy="30.9" r="2.22" fill="#4d4d4d" stroke="#333" stroke-width="0.6"/>
<text x="480.8" y="33.3" font-size="9.2" fill="#222" font-family="Liberation Sans" textLength="37.6" lengthAdjust="spacingAndGlyphs">Spleno-VM</text>
<line x1="458.4" y1="48.23" x2="478.1" y2="48.23" stroke="#8a8a8a" stroke-width="1.6"/>
<rect x="466.16" y="46.19" width="4.08" height="4.08" fill="#8a8a8a"/>
<text x="480.8" y="50.63" font-size="9.2" fill="#222" font-family="Liberation Sans" textLength="29" lengthAdjust="spacingAndGlyphs">CD8-VM</text>
<line x1="458.4" y1="65.56" x2="478.1" y2="65.56" stroke="#8a8a8a" stroke-width="1.6"/>
<path d="M468.2 63.04L470.72 67.58L465.68 67.58Z" fill="#8c8c8c"/>
<text x="480.8" y="67.96" font-size="9.2" fill="#222" font-family="Liberation Sans" textLength="29" lengthAdjust="spacingAndGlyphs">CD4-VM</text>
<line x1="458.4" y1="82.89" x2="478.1" y2="82.89" stroke="#111" stroke-width="1.6"/>
<circle cx="468.2" cy="82.89" r="2.1" fill="#aaa" stroke="#222" stroke-width="0.8"/>
<text x="480.8" y="85.29" font-size="9.2" fill="#222" font-family="Liberation Sans" textLength="37.6" lengthAdjust="spacingAndGlyphs">Spleno-NM</text>
<line x1="458.4" y1="100.22" x2="478.1" y2="100.22" stroke="#cfcfcf" stroke-width="1.6"/>
<rect x="466.2" y="98.22" width="4" height="4" fill="#fff" stroke="#c8c8c8" stroke-width="0.8"/>
<text x="480.8" y="102.62" font-size="9.2" fill="#222" font-family="Liberation Sans" textLength="28.5" lengthAdjust="spacingAndGlyphs">CD8-NM</text>
<line x1="458.4" y1="117.55" x2="478.1" y2="117.55" stroke="#111" stroke-width="1.6"/>
<path d="M468.2 115.15L470.6 119.47L465.8 119.47Z" fill="#fff" stroke="#222" stroke-width="0.9"/>
<text x="480.8" y="119.95" font-size="9.2" fill="#222" font-family="Liberation Sans" textLength="28.5" lengthAdjust="spacingAndGlyphs">CD4-NM</text>
<line x1="458.4" y1="134.88" x2="478.1" y2="134.88" stroke="#000" stroke-width="1.6"/>
<path d="M468.2 132.36L470.72 134.88L468.2 137.4L465.68 134.88Z" fill="#000"/>
<text x="480.8" y="137.28" font-size="9.2" fill="#222" font-family="Liberation Sans" textLength="14.3" lengthAdjust="spacingAndGlyphs">PBS</text>
<g id="partC">
<text x="0.3" y="205" font-size="15.5" font-weight="bold" stroke="#000" stroke-width="0.25" fill="#000" font-family="Liberation Sans">C</text>
<text x="114" y="203.6" font-size="13.8" font-weight="bold" stroke="#000" stroke-width="0.25" fill="#000" font-family="Liberation Sans" textLength="45" lengthAdjust="spacingAndGlyphs">Spleen</text>
<text x="288.7" y="203.4" font-size="13.6" font-weight="bold" stroke="#000" stroke-width="0.25" fill="#000" font-family="Liberation Sans" textLength="83" lengthAdjust="spacingAndGlyphs">Lymph Node</text>
<rect x="53.8" y="215.8" width="174" height="2.4" fill="#000"/>
<rect x="240.4" y="215.8" width="174.2" height="2.4" fill="#000"/>
<text x="68.9" y="243.6" font-size="13" font-weight="bold" stroke="#000" stroke-width="0.25" fill="#000" font-family="Liberation Sans" textLength="35.6" lengthAdjust="spacingAndGlyphs">Näive</text>
<text x="148.6" y="243.7" font-size="13" font-weight="bold" stroke="#000" stroke-width="0.25" fill="#000" font-family="Liberation Sans" textLength="72.2" lengthAdjust="spacingAndGlyphs">Vaccinated</text>
<text x="259.4" y="243.6" font-size="13" font-weight="bold" stroke="#000" stroke-width="0.25" fill="#000" font-family="Liberation Sans" textLength="35.6" lengthAdjust="spacingAndGlyphs">Näive</text>
<text x="339.3" y="243.7" font-size="13" font-weight="bold" stroke="#000" stroke-width="0.25" fill="#000" font-family="Liberation Sans" textLength="72.2" lengthAdjust="spacingAndGlyphs">Vaccinated</text>
<text x="2.7" y="267" font-size="12" font-weight="bold" stroke="#000" stroke-width="0.25" fill="#000" font-family="Liberation Sans" textLength="27.3" lengthAdjust="spacingAndGlyphs">CD4</text>
<text x="2.2" y="329.9" font-size="12" font-weight="bold" stroke="#000" stroke-width="0.25" fill="#000" font-family="Liberation Sans" textLength="27.3" lengthAdjust="spacingAndGlyphs">CD8</text>
<text x="372.2" y="390.7" font-size="13" font-weight="bold" stroke="#000" stroke-width="0.25" fill="#000" font-family="Liberation Sans" textLength="36.2" lengthAdjust="spacingAndGlyphs">CFSE</text>
<rect x="17.9" y="273" width="2.3" height="40.2" fill="#000"/>
<path d="M19.05 268.4L22.6 274.8L15.5 274.8Z" fill="#000"/>
<path d="M19.05 337L22.6 343.5L15.5 343.5Z" fill="#000"/>
<path d="M17.9 342V382.8H362V380.5H20.2V342Z" fill="#000"/>
<path d="M368 381.65L361.5 378.9L361.5 384.4Z" fill="#000"/>
</g>
<defs><filter id="bl" x="-5%" y="-5%" width="110%" height="110%"><feGaussianBlur stdDeviation="0.6"/></filter><filter id="sm" x="-50%" y="-50%" width="200%" height="200%"><feGaussianBlur stdDeviation="0.9"/></filter></defs>
<rect x="42.3" y="259.2" width="93.1" height="51.6" fill="#fff"/>
<polygon points="42.3,259.2 50,259.2 51.6,260.7 53.2,262.2 54.3,263.7 54.9,265.2 55.5,266.7 56,268.2 56.2,269.7 56.3,271.2 56.5,272.7 56.6,274.2 56.8,275.7 56.9,277.2 57.2,278.7 57.7,280.2 58.2,281.7 58.7,283.2 59.9,284.7 61.7,286.2 63.6,287.7 65.2,289.2 66.6,290.7 67.3,292.2 66.9,293.7 66.5,295.2 66,296.7 65.6,298.2 65,299.7 64.3,301.2 63.7,302.7 63.1,304.2 62.5,305.7 62.2,307.2 61.9,308.7 61.6,310.2 61.5,310.8 42.3,310.8" fill="#5a5a5a"/>
<polygon points="50,261 58,263 68,267 74,271 73,275 64,275.5 56,274" fill="#646464" filter="url(#bl)"/>
<line x1="60" y1="290" x2="78" y2="284" stroke="#666" stroke-width="2.8" stroke-linecap="round" filter="url(#bl)"/>
<g filter="url(#bl)">
<path d="M51 261h1v1h-1zM55 263h1v1h-1zM58 263h1v1h-1zM57 264h1v1h-1zM59 265h1v1h-1zM60 265h1v1h-1zM60 266h1v1h-1zM61 266h1v1h-1zM55 267h1v1h-1zM60 267h1v1h-1zM55 268h1v1h-1zM62 268h1v1h-1zM65 268h1v1h-1zM55 269h1v1h-1zM54 270h1v1h-1zM67 270h1v1h-1zM58 271h1v1h-1zM63 272h1v1h-1zM62 273h1v1h-1zM64 273h1v1h-1zM71 273h1v1h-1zM64 274h1v1h-1zM53 260h1v1h-1zM54 261h1v1h-1zM56 269h1v1h-1zM60 279h1v1h-1zM59 280h1v1h-1zM65 287h1v1h-1zM66 290h1v1h-1zM66 295h1v1h-1zM66 299h1v1h-1zM65 301h1v1h-1zM65 306h1v1h-1zM64 308h1v1h-1zM43 260h1v1h-1zM44 260h1v1h-1zM46 260h1v1h-1zM47 260h1v1h-1zM49 260h1v1h-1zM51 260h1v1h-1zM56 260h1v1h-1zM43 261h1v1h-1zM49 261h1v1h-1zM48 262h1v1h-1zM43 264h1v1h-1zM89 286h1v1h-1zM90 286h1v1h-1zM99 286h1v1h-1zM125 286h1v1h-1zM131 286h1v1h-1zM103 287h1v1h-1zM122 287h1v1h-1zM88 288h1v1h-1zM106 288h1v1h-1zM99 289h1v1h-1zM125 289h1v1h-1zM90 290h1v1h-1zM104 292h1v1h-1zM113 292h1v1h-1zM133 292h1v1h-1zM108 293h1v1h-1zM113 294h1v1h-1zM73 295h1v1h-1zM76 295h1v1h-1zM81 297h1v1h-1zM89 297h1v1h-1zM105 298h1v1h-1zM105 299h1v1h-1zM94 301h1v1h-1zM121 301h1v1h-1zM132 301h1v1h-1zM105 302h1v1h-1zM108 302h1v1h-1zM133 302h1v1h-1zM97 303h1v1h-1zM99 303h1v1h-1zM75 304h1v1h-1zM77 305h1v1h-1zM96 306h1v1h-1zM122 306h1v1h-1zM88 308h1v1h-1zM95 308h1v1h-1zM87 309h1v1h-1zM127 262h1v1h-1zM122 265h1v1h-1zM125 267h1v1h-1zM118 271h1v1h-1zM122 272h1v1h-1zM133 273h1v1h-1zM115 274h1v1h-1zM132 274h1v1h-1zM115 276h1v1h-1zM120 277h1v1h-1zM124 279h1v1h-1zM82 266h1v1h-1zM81 267h1v1h-1zM102 267h1v1h-1zM107 269h1v1h-1zM85 272h1v1h-1zM88 278h1v1h-1zM78 283h1v1h-1zM86 283h1v1h-1zM61 274h1v1h-1zM62 274h1v1h-1zM67 274h1v1h-1zM73 274h1v1h-1zM57 275h1v1h-1zM62 275h1v1h-1zM70 275h1v1h-1zM57 276h1v1h-1zM63 276h1v1h-1zM64 276h1v1h-1zM68 276h1v1h-1zM69 276h1v1h-1zM57 277h1v1h-1zM58 277h1v1h-1zM59 277h1v1h-1zM64 277h1v1h-1zM57 278h1v1h-1zM66 278h1v1h-1zM72 278h1v1h-1zM68 279h1v1h-1zM69 279h1v1h-1zM63 280h1v1h-1zM66 280h1v1h-1zM68 280h1v1h-1zM72 280h1v1h-1zM65 281h1v1h-1zM66 281h1v1h-1zM69 281h1v1h-1zM60 282h1v1h-1zM63 282h1v1h-1zM72 282h1v1h-1zM64 283h1v1h-1zM66 283h1v1h-1zM67 283h1v1h-1zM73 283h1v1h-1zM58 284h1v1h-1zM66 284h1v1h-1zM67 284h1v1h-1zM72 284h1v1h-1zM73 284h1v1h-1zM62 285h1v1h-1zM67 285h1v1h-1zM71 285h1v1h-1zM65 286h1v1h-1zM67 286h1v1h-1zM68 286h1v1h-1zM67 287h1v1h-1zM71 287h1v1h-1zM122 268h1v1h-1zM113 271h1v1h-1zM120 272h1v1h-1zM122 273h1v1h-1zM110 274h1v1h-1zM115 270h1v1h-1zM121 274h1v1h-1zM106 274h1v1h-1zM95 274h1v1h-1zM112 271h1v1h-1zM127 302h1v1h-1zM133 300h1v1h-1zM129 301h1v1h-1z" fill="#b0b0b0"/>
<path d="M51 262h1v1h-1zM56 264h1v1h-1zM54 267h1v1h-1zM56 267h1v1h-1zM58 267h1v1h-1zM54 268h1v1h-1zM55 271h1v1h-1zM56 271h1v1h-1zM57 271h1v1h-1zM60 271h1v1h-1zM54 272h1v1h-1zM57 272h1v1h-1zM54 273h1v1h-1zM57 273h1v1h-1zM59 275h1v1h-1zM61 279h1v1h-1zM60 281h1v1h-1zM59 282h1v1h-1zM60 282h1v1h-1zM61 283h1v1h-1zM60 285h1v1h-1zM60 286h1v1h-1zM63 286h1v1h-1zM64 287h1v1h-1zM63 289h1v1h-1zM68 291h1v1h-1zM69 292h1v1h-1zM69 293h1v1h-1zM65 294h1v1h-1zM66 298h1v1h-1zM63 299h1v1h-1zM65 303h1v1h-1zM62 304h1v1h-1zM62 305h1v1h-1zM64 305h1v1h-1zM62 307h1v1h-1zM60 308h1v1h-1zM63 309h1v1h-1zM43 262h1v1h-1zM43 263h1v1h-1zM50 263h1v1h-1zM46 264h1v1h-1zM75 286h1v1h-1zM72 291h1v1h-1zM93 297h1v1h-1zM134 303h1v1h-1zM132 264h1v1h-1zM131 278h1v1h-1zM89 262h1v1h-1zM105 275h1v1h-1zM59 274h1v1h-1zM69 274h1v1h-1zM60 276h1v1h-1zM67 278h1v1h-1zM59 280h1v1h-1zM61 282h1v1h-1zM65 283h1v1h-1zM62 284h1v1h-1zM58 286h1v1h-1zM57 287h1v1h-1zM126 271h1v1h-1zM134 274h1v1h-1zM123 274h1v1h-1zM113 275h1v1h-1zM111 272h1v1h-1zM118 273h1v1h-1zM119 274h1v1h-1zM120 270h1v1h-1zM121 273h1v1h-1zM125 270h1v1h-1zM112 274h1v1h-1zM114 270h1v1h-1zM112 271h1v1h-1zM106 271h1v1h-1zM101 272h1v1h-1zM102 271h1v1h-1zM91 272h1v1h-1zM101 274h1v1h-1zM131 301h1v1h-1zM124 292h1v1h-1zM123 303h1v1h-1zM122 298h1v1h-1zM124 300h1v1h-1zM129 294h1v1h-1zM121 301h1v1h-1zM119 294h1v1h-1zM127 295h1v1h-1zM77 285h1v1h-1zM71 287h1v1h-1zM73 286h1v1h-1zM64 290h1v1h-1zM76 284h1v1h-1zM60 289h1v1h-1zM66 288h1v1h-1zM72 288h1v1h-1zM63 288h1v1h-1zM68 290h1v1h-1zM70 288h1v1h-1zM67 287h1v1h-1zM70 285h1v1h-1zM61 290h1v1h-1zM64 289h1v1h-1zM62 290h1v1h-1zM68 286h1v1h-1zM71 285h1v1h-1z" fill="#7c7c7c"/>
<path d="M51 260h1v1h-1zM52 260h1v1h-1zM52 261h1v1h-1zM53 261h1v1h-1zM55 261h1v1h-1zM53 262h1v1h-1zM54 262h1v1h-1zM55 262h1v1h-1zM54 263h1v1h-1zM55 263h1v1h-1zM56 263h1v1h-1zM55 265h1v1h-1zM55 266h1v1h-1zM56 266h1v1h-1zM56 268h1v1h-1zM57 268h1v1h-1zM58 268h1v1h-1zM58 269h1v1h-1zM60 269h1v1h-1zM56 270h1v1h-1zM57 270h1v1h-1zM56 272h1v1h-1zM58 273h1v1h-1zM59 273h1v1h-1zM59 274h1v1h-1zM57 275h1v1h-1zM58 275h1v1h-1zM61 275h1v1h-1zM57 276h1v1h-1zM60 276h1v1h-1zM57 277h1v1h-1zM58 277h1v1h-1zM59 277h1v1h-1zM60 277h1v1h-1zM57 278h1v1h-1zM58 278h1v1h-1zM60 278h1v1h-1zM57 279h1v1h-1zM58 279h1v1h-1zM59 279h1v1h-1zM58 280h1v1h-1zM58 281h1v1h-1zM59 281h1v1h-1zM58 282h1v1h-1zM59 283h1v1h-1zM60 283h1v1h-1zM62 283h1v1h-1zM60 284h1v1h-1zM61 285h1v1h-1zM64 285h1v1h-1zM62 286h1v1h-1zM64 286h1v1h-1zM66 286h1v1h-1zM63 287h1v1h-1zM64 288h1v1h-1zM65 288h1v1h-1zM66 288h1v1h-1zM65 289h1v1h-1zM66 289h1v1h-1zM67 289h1v1h-1zM67 290h1v1h-1zM68 290h1v1h-1zM69 290h1v1h-1zM67 291h1v1h-1zM72 291h1v1h-1zM67 292h1v1h-1zM71 292h1v1h-1zM67 293h1v1h-1zM68 293h1v1h-1zM67 294h1v1h-1zM70 294h1v1h-1zM67 297h1v1h-1zM68 297h1v1h-1zM65 298h1v1h-1zM67 298h1v1h-1zM67 299h1v1h-1zM66 300h1v1h-1zM67 300h1v1h-1zM64 302h1v1h-1zM65 302h1v1h-1zM66 302h1v1h-1zM63 303h1v1h-1zM64 303h1v1h-1zM65 304h1v1h-1zM63 305h1v1h-1zM62 306h1v1h-1zM63 306h1v1h-1zM63 307h1v1h-1zM64 307h1v1h-1zM62 308h1v1h-1zM62 309h1v1h-1zM130 273h1v1h-1zM121 270h1v1h-1zM102 272h1v1h-1zM114 275h1v1h-1zM119 271h1v1h-1zM133 273h1v1h-1zM121 271h1v1h-1zM129 273h1v1h-1zM116 273h1v1h-1zM130 270h1v1h-1zM128 273h1v1h-1zM123 273h1v1h-1zM118 271h1v1h-1zM115 274h1v1h-1zM128 272h1v1h-1zM125 275h1v1h-1zM120 272h1v1h-1zM126 274h1v1h-1zM117 271h1v1h-1zM126 270h1v1h-1zM127 269h1v1h-1zM112 273h1v1h-1zM107 272h1v1h-1zM94 272h1v1h-1zM92 273h1v1h-1zM91 273h1v1h-1zM103 272h1v1h-1zM117 273h1v1h-1zM113 271h1v1h-1zM89 274h1v1h-1zM84 272h1v1h-1zM86 272h1v1h-1zM89 273h1v1h-1zM103 275h1v1h-1zM127 303h1v1h-1zM121 293h1v1h-1zM124 299h1v1h-1zM133 298h1v1h-1zM127 294h1v1h-1zM122 291h1v1h-1zM128 303h1v1h-1zM129 293h1v1h-1zM130 302h1v1h-1zM118 294h1v1h-1zM121 298h1v1h-1zM128 300h1v1h-1zM122 297h1v1h-1zM124 306h1v1h-1zM132 302h1v1h-1zM119 295h1v1h-1zM125 305h1v1h-1zM124 297h1v1h-1zM125 294h1v1h-1zM123 304h1v1h-1zM68 288h1v1h-1zM64 289h1v1h-1zM73 286h1v1h-1zM73 285h1v1h-1zM69 287h1v1h-1zM75 285h1v1h-1zM62 289h1v1h-1zM70 286h1v1h-1zM76 284h1v1h-1zM73 284h1v1h-1zM69 286h1v1h-1zM59 290h1v1h-1zM66 287h1v1h-1zM75 284h1v1h-1zM74 286h1v1h-1zM62 290h1v1h-1zM73 288h1v1h-1zM60 290h1v1h-1zM77 285h1v1h-1zM71 286h1v1h-1zM72 286h1v1h-1zM62 291h1v1h-1zM63 288h1v1h-1zM70 284h1v1h-1zM70 289h1v1h-1zM64 291h1v1h-1zM73 287h1v1h-1zM78 284h1v1h-1zM64 290h1v1h-1zM74 284h1v1h-1zM61 289h1v1h-1zM80 284h1v1h-1zM78 285h1v1h-1zM61 288h1v1h-1zM68 287h1v1h-1zM72 288h1v1h-1zM77 284h1v1h-1zM70 285h1v1h-1zM78 283h1v1h-1zM74 285h1v1h-1zM60 289h1v1h-1zM63 291h1v1h-1z" fill="#5a5a5a"/>
<path d="M53 262h1v1h-1zM54 262h1v1h-1zM52 263h1v1h-1zM52 264h1v1h-1zM53 264h1v1h-1zM60 264h1v1h-1zM55 265h1v1h-1zM62 265h1v1h-1zM54 266h1v1h-1zM57 266h1v1h-1zM59 266h1v1h-1zM63 267h1v1h-1zM65 267h1v1h-1zM53 268h1v1h-1zM57 268h1v1h-1zM63 268h1v1h-1zM67 268h1v1h-1zM54 269h1v1h-1zM56 269h1v1h-1zM70 269h1v1h-1zM62 270h1v1h-1zM68 270h1v1h-1zM69 270h1v1h-1zM55 271h1v1h-1zM57 271h1v1h-1zM59 271h1v1h-1zM60 271h1v1h-1zM65 271h1v1h-1zM66 271h1v1h-1zM72 271h1v1h-1zM59 272h1v1h-1zM62 272h1v1h-1zM68 272h1v1h-1zM69 272h1v1h-1zM71 272h1v1h-1zM72 272h1v1h-1zM56 273h1v1h-1zM59 273h1v1h-1zM61 273h1v1h-1zM63 273h1v1h-1zM59 274h1v1h-1zM63 274h1v1h-1zM65 274h1v1h-1zM72 274h1v1h-1zM45 260h1v1h-1zM48 260h1v1h-1zM54 260h1v1h-1zM46 261h1v1h-1zM48 261h1v1h-1zM52 261h1v1h-1zM46 262h1v1h-1zM47 262h1v1h-1zM49 263h1v1h-1zM48 264h1v1h-1z" fill="#d8d8d8"/>
</g>
<rect x="42.8" y="259.7" width="92.1" height="50.6" fill="none" stroke="#555" stroke-width="1"/>
<path d="M44.3 310.8h1v2h-1zM47.3 310.8h1v2h-1zM50.3 310.8h1v2h-1zM54.3 310.8h1v1h-1zM57.3 310.8h1v2h-1zM60.3 310.8h1v2h-1zM62.3 310.8h1v1h-1zM64.3 310.8h1v2h-1zM68.3 310.8h1v1h-1zM71.3 310.8h1v2h-1zM73.3 310.8h1v2h-1zM76.3 310.8h1v2h-1zM78.3 310.8h1v1h-1zM81.3 310.8h1v2h-1zM83.3 310.8h1v2h-1zM86.3 310.8h1v2h-1zM88.3 310.8h1v2h-1zM92.3 310.8h1v2h-1zM94.3 310.8h1v1h-1zM98.3 310.8h1v2h-1zM101.3 310.8h1v2h-1zM105.3 310.8h1v1h-1zM107.3 310.8h1v2h-1zM110.3 310.8h1v2h-1zM113.3 310.8h1v1h-1zM117.3 310.8h1v2h-1zM121.3 310.8h1v2h-1zM125.3 310.8h1v1h-1zM128.3 310.8h1v2h-1zM130.3 310.8h1v1h-1zM133.3 310.8h1v2h-1z" fill="#666"/>
<rect x="77.5" y="261.7" width="35.2" height="23.1" fill="none" stroke="#333" stroke-width="1.1"/>
<text x="80.1" y="274.2" font-size="12.2" font-weight="bold" font-family="Liberation Serif" stroke="#000" stroke-width="0.3" textLength="27.5" lengthAdjust="spacingAndGlyphs">8.4%</text>
<rect x="137.3" y="259.2" width="93.5" height="51.6" fill="#fff"/>
<polygon points="137.3,259.2 140,259.2 142.6,260.7 145.2,262.2 147.8,263.7 150.4,265.2 153,266.7 155.6,268.2 158,269.7 158.3,271.2 158.7,272.7 159.1,274.2 159.5,275.7 159.8,277.2 160.5,278.7 161.4,280.2 162.3,281.7 163.1,283.2 164,284.7 165.2,286.2 166.4,287.7 167.7,289.2 168.9,290.7 169.4,292.2 169.1,293.7 168.7,295.2 168.3,296.7 167.5,298.2 166.4,299.7 165.4,301.2 164.3,302.7 163.3,304.2 162.7,305.7 162.1,307.2 161.5,308.7 160.8,310.2 160.6,310.8 137.3,310.8" fill="#5a5a5a"/>
<ellipse cx="189" cy="276.5" rx="9.6" ry="2.2" fill="#5a5a5a" opacity="1" filter="url(#sm)"/>
<ellipse cx="221" cy="276" rx="6.6" ry="2.2" fill="#5a5a5a" opacity="1" filter="url(#sm)"/>
<ellipse cx="186" cy="298.5" rx="7.2" ry="2.2" fill="#5a5a5a" opacity="1" filter="url(#sm)"/>
<ellipse cx="208" cy="299" rx="9.6" ry="3" fill="#5a5a5a" opacity="0.4" filter="url(#sm)"/>
<ellipse cx="224" cy="297" rx="3.6" ry="3.6" fill="#5a5a5a" opacity="0.4" filter="url(#sm)"/>
<g filter="url(#bl)">
<path d="M147 261h1v1h-1zM148 261h1v1h-1zM150 263h1v1h-1zM152 263h1v1h-1zM157 263h1v1h-1zM158 263h1v1h-1zM161 263h1v1h-1zM159 264h1v1h-1zM155 265h1v1h-1zM161 269h1v1h-1zM158 271h1v1h-1zM166 272h1v1h-1zM162 274h1v1h-1zM164 275h1v1h-1zM169 278h1v1h-1zM164 279h1v1h-1zM163 283h1v1h-1zM164 283h1v1h-1zM169 283h1v1h-1zM166 284h1v1h-1zM168 284h1v1h-1zM165 286h1v1h-1zM169 287h1v1h-1zM173 289h1v1h-1zM170 292h1v1h-1zM170 295h1v1h-1zM168 296h1v1h-1zM169 298h1v1h-1zM166 300h1v1h-1zM168 300h1v1h-1zM165 304h1v1h-1zM163 305h1v1h-1zM165 305h1v1h-1zM162 306h1v1h-1zM162 308h1v1h-1zM145 260h1v1h-1zM149 260h1v1h-1zM153 260h1v1h-1zM154 260h1v1h-1zM161 260h1v1h-1zM142 261h1v1h-1zM143 261h1v1h-1zM145 261h1v1h-1zM152 261h1v1h-1zM157 261h1v1h-1zM159 261h1v1h-1zM144 262h1v1h-1zM148 262h1v1h-1zM149 262h1v1h-1zM153 262h1v1h-1zM154 262h1v1h-1zM155 262h1v1h-1zM144 263h1v1h-1zM147 263h1v1h-1zM155 263h1v1h-1zM159 263h1v1h-1zM138 264h1v1h-1zM147 264h1v1h-1zM154 264h1v1h-1zM155 264h1v1h-1zM139 265h1v1h-1zM140 265h1v1h-1zM141 265h1v1h-1zM148 265h1v1h-1zM152 265h1v1h-1zM157 265h1v1h-1zM138 266h1v1h-1zM143 266h1v1h-1zM155 266h1v1h-1zM143 267h1v1h-1zM146 267h1v1h-1zM147 267h1v1h-1zM148 267h1v1h-1zM142 268h1v1h-1zM141 269h1v1h-1zM149 269h1v1h-1zM199 286h1v1h-1zM200 286h1v1h-1zM171 287h1v1h-1zM180 287h1v1h-1zM204 287h1v1h-1zM228 287h1v1h-1zM212 288h1v1h-1zM225 288h1v1h-1zM196 289h1v1h-1zM206 289h1v1h-1zM170 290h1v1h-1zM209 290h1v1h-1zM225 290h1v1h-1zM205 293h1v1h-1zM173 294h1v1h-1zM221 294h1v1h-1zM221 295h1v1h-1zM202 296h1v1h-1zM216 296h1v1h-1zM171 297h1v1h-1zM178 297h1v1h-1zM180 297h1v1h-1zM206 298h1v1h-1zM213 298h1v1h-1zM177 299h1v1h-1zM174 300h1v1h-1zM181 300h1v1h-1zM191 300h1v1h-1zM203 300h1v1h-1zM188 301h1v1h-1zM222 301h1v1h-1zM205 302h1v1h-1zM182 303h1v1h-1zM201 303h1v1h-1zM214 303h1v1h-1zM215 303h1v1h-1zM219 305h1v1h-1zM187 306h1v1h-1zM220 306h1v1h-1zM220 308h1v1h-1zM222 309h1v1h-1zM226 263h1v1h-1zM212 278h1v1h-1zM212 281h1v1h-1zM222 282h1v1h-1zM212 283h1v1h-1zM213 283h1v1h-1zM195 262h1v1h-1zM181 263h1v1h-1zM190 263h1v1h-1zM201 263h1v1h-1zM190 270h1v1h-1zM178 272h1v1h-1zM199 272h1v1h-1zM192 275h1v1h-1zM186 278h1v1h-1zM185 281h1v1h-1zM188 281h1v1h-1zM194 281h1v1h-1zM206 282h1v1h-1zM210 282h1v1h-1zM207 284h1v1h-1zM191 278h1v1h-1zM192 277h1v1h-1zM186 279h1v1h-1zM196 277h1v1h-1zM202 277h1v1h-1zM202 278h1v1h-1zM191 276h1v1h-1zM180 277h1v1h-1zM189 277h1v1h-1zM168 276h1v1h-1zM184 279h1v1h-1zM188 275h1v1h-1zM176 274h1v1h-1zM186 274h1v1h-1zM199 278h1v1h-1zM168 280h1v1h-1zM180 275h1v1h-1zM185 274h1v1h-1zM187 276h1v1h-1zM179 275h1v1h-1zM217 275h1v1h-1zM220 275h1v1h-1zM210 279h1v1h-1zM228 279h1v1h-1zM222 277h1v1h-1zM218 272h1v1h-1zM220 278h1v1h-1zM218 280h1v1h-1zM214 274h1v1h-1zM218 277h1v1h-1zM226 276h1v1h-1zM216 276h1v1h-1zM222 279h1v1h-1zM228 276h1v1h-1zM226 278h1v1h-1zM220 277h1v1h-1zM208 275h1v1h-1zM215 278h1v1h-1zM214 278h1v1h-1zM189 298h1v1h-1zM182 300h1v1h-1zM168 298h1v1h-1zM183 300h1v1h-1zM187 296h1v1h-1zM186 299h1v1h-1zM181 302h1v1h-1zM192 301h1v1h-1zM179 297h1v1h-1zM194 298h1v1h-1zM184 300h1v1h-1zM190 299h1v1h-1zM182 301h1v1h-1zM181 301h1v1h-1zM177 300h1v1h-1zM214 297h1v1h-1z" fill="#b0b0b0"/>
<path d="M142 260h1v1h-1zM156 260h1v1h-1zM155 261h1v1h-1zM157 261h1v1h-1zM143 262h1v1h-1zM147 262h1v1h-1zM157 262h1v1h-1zM149 263h1v1h-1zM151 264h1v1h-1zM153 264h1v1h-1zM154 264h1v1h-1zM149 265h1v1h-1zM152 265h1v1h-1zM153 265h1v1h-1zM153 266h1v1h-1zM159 266h1v1h-1zM155 267h1v1h-1zM158 267h1v1h-1zM159 269h1v1h-1zM157 270h1v1h-1zM156 272h1v1h-1zM159 272h1v1h-1zM167 273h1v1h-1zM159 274h1v1h-1zM160 274h1v1h-1zM168 274h1v1h-1zM161 275h1v1h-1zM162 276h1v1h-1zM167 276h1v1h-1zM166 277h1v1h-1zM161 278h1v1h-1zM164 278h1v1h-1zM159 279h1v1h-1zM163 279h1v1h-1zM160 280h1v1h-1zM163 280h1v1h-1zM165 280h1v1h-1zM160 282h1v1h-1zM167 283h1v1h-1zM165 284h1v1h-1zM167 284h1v1h-1zM165 289h1v1h-1zM168 289h1v1h-1zM172 291h1v1h-1zM169 292h1v1h-1zM171 293h1v1h-1zM168 294h1v1h-1zM166 295h1v1h-1zM166 297h1v1h-1zM166 299h1v1h-1zM167 300h1v1h-1zM166 301h1v1h-1zM167 301h1v1h-1zM164 302h1v1h-1zM161 303h1v1h-1zM162 303h1v1h-1zM162 304h1v1h-1zM163 307h1v1h-1zM165 307h1v1h-1zM163 308h1v1h-1zM143 260h1v1h-1zM144 260h1v1h-1zM151 260h1v1h-1zM138 261h1v1h-1zM144 261h1v1h-1zM147 261h1v1h-1zM149 261h1v1h-1zM142 262h1v1h-1zM141 263h1v1h-1zM142 263h1v1h-1zM143 263h1v1h-1zM150 263h1v1h-1zM139 264h1v1h-1zM148 264h1v1h-1zM156 264h1v1h-1zM145 265h1v1h-1zM140 266h1v1h-1zM142 266h1v1h-1zM152 266h1v1h-1zM150 267h1v1h-1zM151 268h1v1h-1zM152 268h1v1h-1zM146 269h1v1h-1zM175 286h1v1h-1zM207 286h1v1h-1zM229 286h1v1h-1zM200 290h1v1h-1zM191 292h1v1h-1zM177 301h1v1h-1zM205 301h1v1h-1zM192 307h1v1h-1zM219 265h1v1h-1zM228 272h1v1h-1zM185 264h1v1h-1zM206 270h1v1h-1zM190 273h1v1h-1zM196 284h1v1h-1zM189 278h1v1h-1zM197 277h1v1h-1zM174 276h1v1h-1zM180 278h1v1h-1zM191 277h1v1h-1zM179 278h1v1h-1zM201 278h1v1h-1zM191 278h1v1h-1zM179 277h1v1h-1zM188 277h1v1h-1zM185 275h1v1h-1zM195 274h1v1h-1zM190 278h1v1h-1zM200 276h1v1h-1zM207 274h1v1h-1zM195 276h1v1h-1zM185 274h1v1h-1zM191 279h1v1h-1zM196 277h1v1h-1zM185 279h1v1h-1zM187 276h1v1h-1zM184 277h1v1h-1zM173 277h1v1h-1zM178 277h1v1h-1zM184 275h1v1h-1zM189 276h1v1h-1zM202 277h1v1h-1zM187 273h1v1h-1zM208 277h1v1h-1zM191 274h1v1h-1zM183 280h1v1h-1zM202 279h1v1h-1zM181 275h1v1h-1zM206 276h1v1h-1zM190 276h1v1h-1zM202 274h1v1h-1zM202 278h1v1h-1zM178 279h1v1h-1zM191 276h1v1h-1zM194 277h1v1h-1zM180 276h1v1h-1zM197 275h1v1h-1zM192 277h1v1h-1zM226 275h1v1h-1zM225 272h1v1h-1zM218 278h1v1h-1zM214 276h1v1h-1zM217 272h1v1h-1zM221 273h1v1h-1zM212 275h1v1h-1zM214 277h1v1h-1zM218 275h1v1h-1zM222 275h1v1h-1zM217 275h1v1h-1zM223 273h1v1h-1zM213 276h1v1h-1zM221 276h1v1h-1zM223 276h1v1h-1zM223 277h1v1h-1zM215 274h1v1h-1zM215 276h1v1h-1zM225 278h1v1h-1zM219 274h1v1h-1zM218 276h1v1h-1zM227 278h1v1h-1zM219 276h1v1h-1zM227 277h1v1h-1zM226 274h1v1h-1zM189 298h1v1h-1zM188 299h1v1h-1zM197 298h1v1h-1zM199 299h1v1h-1zM192 300h1v1h-1zM195 301h1v1h-1zM185 298h1v1h-1zM180 299h1v1h-1zM187 300h1v1h-1zM185 297h1v1h-1zM177 300h1v1h-1zM185 296h1v1h-1zM194 297h1v1h-1zM184 299h1v1h-1zM190 299h1v1h-1zM184 300h1v1h-1zM190 300h1v1h-1zM182 299h1v1h-1zM189 297h1v1h-1zM185 299h1v1h-1zM198 299h1v1h-1zM183 296h1v1h-1zM193 299h1v1h-1zM186 296h1v1h-1zM181 298h1v1h-1zM187 301h1v1h-1zM181 300h1v1h-1zM176 299h1v1h-1zM201 298h1v1h-1zM178 302h1v1h-1zM182 300h1v1h-1zM183 298h1v1h-1zM185 300h1v1h-1zM179 299h1v1h-1zM180 296h1v1h-1zM209 302h1v1h-1zM195 296h1v1h-1zM212 300h1v1h-1zM227 301h1v1h-1zM226 292h1v1h-1zM226 296h1v1h-1zM229 296h1v1h-1zM225 299h1v1h-1z" fill="#7c7c7c"/>
<path d="M143 260h1v1h-1zM146 260h1v1h-1zM147 260h1v1h-1zM148 260h1v1h-1zM149 260h1v1h-1zM150 260h1v1h-1zM151 260h1v1h-1zM153 260h1v1h-1zM157 260h1v1h-1zM163 260h1v1h-1zM144 261h1v1h-1zM145 261h1v1h-1zM146 261h1v1h-1zM149 261h1v1h-1zM150 261h1v1h-1zM151 261h1v1h-1zM152 261h1v1h-1zM153 261h1v1h-1zM159 261h1v1h-1zM162 261h1v1h-1zM146 262h1v1h-1zM148 262h1v1h-1zM149 262h1v1h-1zM150 262h1v1h-1zM151 262h1v1h-1zM153 262h1v1h-1zM154 262h1v1h-1zM156 262h1v1h-1zM147 263h1v1h-1zM151 263h1v1h-1zM154 263h1v1h-1zM155 263h1v1h-1zM163 263h1v1h-1zM149 264h1v1h-1zM150 264h1v1h-1zM152 264h1v1h-1zM156 264h1v1h-1zM157 264h1v1h-1zM162 264h1v1h-1zM151 265h1v1h-1zM154 265h1v1h-1zM156 265h1v1h-1zM159 265h1v1h-1zM161 265h1v1h-1zM154 266h1v1h-1zM160 266h1v1h-1zM154 267h1v1h-1zM156 267h1v1h-1zM161 267h1v1h-1zM165 267h1v1h-1zM156 268h1v1h-1zM157 268h1v1h-1zM159 268h1v1h-1zM160 268h1v1h-1zM161 268h1v1h-1zM162 268h1v1h-1zM158 269h1v1h-1zM162 269h1v1h-1zM158 270h1v1h-1zM159 270h1v1h-1zM160 270h1v1h-1zM161 270h1v1h-1zM163 270h1v1h-1zM164 270h1v1h-1zM159 271h1v1h-1zM160 271h1v1h-1zM161 271h1v1h-1zM163 271h1v1h-1zM164 271h1v1h-1zM160 272h1v1h-1zM162 272h1v1h-1zM165 272h1v1h-1zM159 273h1v1h-1zM160 273h1v1h-1zM161 273h1v1h-1zM162 273h1v1h-1zM165 273h1v1h-1zM168 273h1v1h-1zM159 275h1v1h-1zM160 275h1v1h-1zM162 275h1v1h-1zM163 275h1v1h-1zM166 275h1v1h-1zM160 276h1v1h-1zM161 276h1v1h-1zM163 276h1v1h-1zM164 276h1v1h-1zM160 277h1v1h-1zM161 277h1v1h-1zM162 277h1v1h-1zM164 277h1v1h-1zM165 277h1v1h-1zM160 278h1v1h-1zM162 278h1v1h-1zM166 278h1v1h-1zM161 279h1v1h-1zM162 279h1v1h-1zM165 279h1v1h-1zM166 279h1v1h-1zM162 280h1v1h-1zM164 280h1v1h-1zM169 280h1v1h-1zM162 281h1v1h-1zM163 281h1v1h-1zM165 281h1v1h-1zM168 281h1v1h-1zM169 281h1v1h-1zM171 281h1v1h-1zM163 282h1v1h-1zM164 282h1v1h-1zM165 282h1v1h-1zM166 282h1v1h-1zM169 282h1v1h-1zM170 282h1v1h-1zM165 283h1v1h-1zM166 283h1v1h-1zM171 283h1v1h-1zM164 284h1v1h-1zM170 284h1v1h-1zM173 284h1v1h-1zM165 285h1v1h-1zM166 285h1v1h-1zM170 285h1v1h-1zM166 286h1v1h-1zM167 286h1v1h-1zM168 286h1v1h-1zM169 286h1v1h-1zM170 286h1v1h-1zM171 286h1v1h-1zM171 287h1v1h-1zM167 288h1v1h-1zM168 288h1v1h-1zM170 288h1v1h-1zM169 289h1v1h-1zM170 289h1v1h-1zM175 289h1v1h-1zM169 290h1v1h-1zM170 290h1v1h-1zM171 291h1v1h-1zM171 292h1v1h-1zM173 292h1v1h-1zM169 293h1v1h-1zM172 293h1v1h-1zM173 293h1v1h-1zM174 293h1v1h-1zM169 294h1v1h-1zM170 294h1v1h-1zM172 294h1v1h-1zM169 296h1v1h-1zM170 296h1v1h-1zM171 296h1v1h-1zM168 297h1v1h-1zM169 297h1v1h-1zM171 297h1v1h-1zM167 298h1v1h-1zM168 298h1v1h-1zM170 298h1v1h-1zM167 299h1v1h-1zM168 299h1v1h-1zM170 299h1v1h-1zM169 300h1v1h-1zM165 301h1v1h-1zM168 301h1v1h-1zM165 302h1v1h-1zM163 304h1v1h-1zM164 304h1v1h-1zM164 305h1v1h-1zM163 306h1v1h-1zM164 306h1v1h-1zM162 307h1v1h-1zM164 307h1v1h-1zM161 309h1v1h-1zM188 275h1v1h-1zM200 277h1v1h-1zM179 275h1v1h-1zM179 278h1v1h-1zM182 276h1v1h-1zM207 277h1v1h-1zM192 278h1v1h-1zM183 278h1v1h-1zM182 277h1v1h-1zM189 274h1v1h-1zM194 272h1v1h-1zM189 278h1v1h-1zM189 276h1v1h-1zM184 277h1v1h-1zM198 275h1v1h-1zM190 276h1v1h-1zM180 275h1v1h-1zM187 278h1v1h-1zM196 277h1v1h-1zM179 277h1v1h-1zM176 277h1v1h-1zM194 276h1v1h-1zM178 274h1v1h-1zM188 277h1v1h-1zM187 275h1v1h-1zM178 278h1v1h-1zM180 276h1v1h-1zM173 276h1v1h-1zM191 276h1v1h-1zM180 278h1v1h-1zM185 274h1v1h-1zM174 274h1v1h-1zM176 274h1v1h-1zM190 278h1v1h-1zM183 276h1v1h-1zM181 276h1v1h-1zM191 275h1v1h-1zM181 277h1v1h-1zM203 277h1v1h-1zM186 274h1v1h-1zM195 279h1v1h-1zM184 280h1v1h-1zM196 275h1v1h-1zM191 272h1v1h-1zM192 279h1v1h-1zM188 278h1v1h-1zM202 276h1v1h-1zM186 276h1v1h-1zM184 275h1v1h-1zM186 279h1v1h-1zM188 276h1v1h-1zM207 276h1v1h-1zM185 278h1v1h-1zM176 279h1v1h-1zM181 278h1v1h-1zM190 277h1v1h-1zM193 273h1v1h-1zM178 275h1v1h-1zM167 277h1v1h-1zM177 276h1v1h-1zM185 275h1v1h-1zM208 274h1v1h-1zM199 279h1v1h-1zM179 272h1v1h-1zM220 276h1v1h-1zM224 278h1v1h-1zM225 277h1v1h-1zM215 279h1v1h-1zM221 274h1v1h-1zM227 276h1v1h-1zM221 278h1v1h-1zM226 277h1v1h-1zM220 273h1v1h-1zM212 273h1v1h-1zM226 273h1v1h-1zM217 276h1v1h-1zM226 274h1v1h-1zM222 277h1v1h-1zM227 275h1v1h-1zM210 277h1v1h-1zM220 277h1v1h-1zM222 276h1v1h-1zM216 275h1v1h-1zM215 277h1v1h-1zM219 278h1v1h-1zM219 273h1v1h-1zM214 277h1v1h-1zM217 275h1v1h-1zM219 279h1v1h-1zM229 277h1v1h-1zM213 275h1v1h-1zM220 278h1v1h-1zM227 277h1v1h-1zM228 277h1v1h-1zM222 273h1v1h-1zM211 276h1v1h-1zM211 275h1v1h-1zM219 277h1v1h-1zM225 276h1v1h-1zM219 276h1v1h-1zM223 274h1v1h-1zM217 278h1v1h-1zM222 274h1v1h-1zM219 275h1v1h-1zM223 275h1v1h-1zM187 301h1v1h-1zM179 297h1v1h-1zM185 298h1v1h-1zM182 297h1v1h-1zM186 303h1v1h-1zM194 298h1v1h-1zM192 296h1v1h-1zM194 299h1v1h-1zM186 300h1v1h-1zM202 298h1v1h-1zM193 298h1v1h-1zM183 300h1v1h-1zM182 296h1v1h-1zM182 302h1v1h-1zM188 294h1v1h-1zM184 299h1v1h-1zM189 300h1v1h-1zM173 297h1v1h-1zM183 302h1v1h-1zM185 299h1v1h-1zM185 300h1v1h-1zM188 298h1v1h-1zM182 299h1v1h-1zM194 296h1v1h-1zM194 297h1v1h-1zM181 298h1v1h-1zM190 297h1v1h-1zM192 301h1v1h-1zM184 295h1v1h-1zM180 299h1v1h-1zM196 300h1v1h-1zM183 298h1v1h-1zM174 303h1v1h-1zM195 300h1v1h-1zM177 302h1v1h-1zM186 298h1v1h-1zM190 299h1v1h-1zM190 298h1v1h-1zM197 297h1v1h-1zM195 299h1v1h-1zM178 296h1v1h-1zM184 297h1v1h-1zM179 296h1v1h-1zM184 301h1v1h-1zM193 299h1v1h-1zM191 297h1v1h-1zM179 299h1v1h-1zM192 300h1v1h-1zM174 298h1v1h-1zM195 301h1v1h-1zM201 296h1v1h-1zM186 299h1v1h-1zM186 302h1v1h-1zM177 299h1v1h-1zM189 298h1v1h-1zM175 299h1v1h-1zM187 299h1v1h-1zM179 301h1v1h-1zM187 303h1v1h-1zM180 296h1v1h-1zM197 296h1v1h-1zM181 301h1v1h-1zM184 298h1v1h-1zM200 299h1v1h-1zM201 300h1v1h-1zM210 301h1v1h-1zM214 297h1v1h-1zM212 301h1v1h-1zM229 292h1v1h-1z" fill="#5a5a5a"/>
<path d="M138 260h1v1h-1zM139 260h1v1h-1zM146 260h1v1h-1zM152 260h1v1h-1zM150 261h1v1h-1zM151 261h1v1h-1zM140 262h1v1h-1zM147 262h1v1h-1zM150 262h1v1h-1zM151 262h1v1h-1zM157 262h1v1h-1zM138 263h1v1h-1zM145 263h1v1h-1zM146 263h1v1h-1zM148 263h1v1h-1zM156 263h1v1h-1zM149 264h1v1h-1zM150 264h1v1h-1zM152 264h1v1h-1zM157 264h1v1h-1zM138 265h1v1h-1zM146 265h1v1h-1zM150 265h1v1h-1zM156 265h1v1h-1zM144 266h1v1h-1zM145 266h1v1h-1zM139 267h1v1h-1zM140 267h1v1h-1zM141 267h1v1h-1zM149 267h1v1h-1zM140 268h1v1h-1zM141 268h1v1h-1zM142 270h1v1h-1zM144 270h1v1h-1z" fill="#d8d8d8"/>
</g>
<rect x="137.8" y="259.7" width="92.5" height="50.6" fill="none" stroke="#555" stroke-width="1"/>
<path d="M139.3 310.8h1v2h-1zM142.3 310.8h1v1h-1zM144.3 310.8h1v1h-1zM147.3 310.8h1v2h-1zM149.3 310.8h1v2h-1zM152.3 310.8h1v2h-1zM155.3 310.8h1v2h-1zM158.3 310.8h1v1h-1zM161.3 310.8h1v1h-1zM164.3 310.8h1v1h-1zM167.3 310.8h1v1h-1zM171.3 310.8h1v2h-1zM173.3 310.8h1v2h-1zM176.3 310.8h1v2h-1zM179.3 310.8h1v1h-1zM182.3 310.8h1v1h-1zM184.3 310.8h1v2h-1zM187.3 310.8h1v2h-1zM190.3 310.8h1v2h-1zM194.3 310.8h1v2h-1zM196.3 310.8h1v2h-1zM199.3 310.8h1v2h-1zM203.3 310.8h1v1h-1zM206.3 310.8h1v2h-1zM209.3 310.8h1v1h-1zM212.3 310.8h1v1h-1zM215.3 310.8h1v1h-1zM217.3 310.8h1v1h-1zM220.3 310.8h1v1h-1zM222.3 310.8h1v2h-1zM224.3 310.8h1v1h-1zM227.3 310.8h1v1h-1z" fill="#666"/>
<rect x="176" y="261.7" width="35.9" height="23.5" fill="none" stroke="#333" stroke-width="1.1"/>
<text x="177" y="274.2" font-size="12.2" font-weight="bold" font-family="Liberation Serif" stroke="#000" stroke-width="0.3" textLength="32.3" lengthAdjust="spacingAndGlyphs">58.4%</text>
<rect x="234.2" y="259.2" width="91.2" height="51.6" fill="#fff"/>
<polygon points="234.2,259.2 244,259.2 245.6,260.7 247.2,262.2 248.3,263.7 249.5,265.2 250.7,266.7 251.9,268.2 253.1,269.7 254,271.2 254.7,272.7 255.3,274.2 256,275.7 256.7,277.2 257.7,278.7 258.7,280.2 259.8,281.7 260.9,283.2 262,284.7 262.9,286.2 263.7,287.7 264.6,289.2 265.5,290.7 265.8,292.2 265.4,293.7 265,295.2 264.5,296.7 264.1,298.2 263.3,299.7 262.5,301.2 261.6,302.7 260.7,304.2 259.9,305.7 259,307.2 258.2,308.7 257.3,310.2 257,310.8 234.2,310.8" fill="#5a5a5a"/>
<g filter="url(#bl)">
<path d="M254 269h1v1h-1zM259 271h1v1h-1zM256 275h1v1h-1zM262 283h1v1h-1zM264 283h1v1h-1zM262 284h1v1h-1zM262 285h1v1h-1zM264 287h1v1h-1zM266 288h1v1h-1zM268 290h1v1h-1zM266 291h1v1h-1zM266 292h1v1h-1zM267 296h1v1h-1zM259 309h1v1h-1zM260 309h1v1h-1zM235 260h1v1h-1zM238 260h1v1h-1zM241 260h1v1h-1zM243 261h1v1h-1zM244 261h1v1h-1zM246 261h1v1h-1zM237 262h1v1h-1zM240 262h1v1h-1zM236 263h1v1h-1zM238 263h1v1h-1zM239 263h1v1h-1zM242 263h1v1h-1zM244 263h1v1h-1zM285 286h1v1h-1zM324 286h1v1h-1zM297 287h1v1h-1zM322 288h1v1h-1zM285 291h1v1h-1zM308 292h1v1h-1zM321 292h1v1h-1zM286 293h1v1h-1zM274 294h1v1h-1zM313 294h1v1h-1zM300 295h1v1h-1zM319 295h1v1h-1zM315 297h1v1h-1zM268 298h1v1h-1zM279 298h1v1h-1zM284 298h1v1h-1zM289 298h1v1h-1zM312 299h1v1h-1zM315 299h1v1h-1zM321 299h1v1h-1zM291 300h1v1h-1zM302 300h1v1h-1zM315 300h1v1h-1zM320 300h1v1h-1zM315 301h1v1h-1zM318 301h1v1h-1zM289 303h1v1h-1zM284 304h1v1h-1zM320 304h1v1h-1zM294 305h1v1h-1zM282 307h1v1h-1zM292 307h1v1h-1zM296 308h1v1h-1zM311 308h1v1h-1zM307 262h1v1h-1zM311 263h1v1h-1zM305 265h1v1h-1zM311 267h1v1h-1zM313 267h1v1h-1zM314 268h1v1h-1zM316 272h1v1h-1zM323 274h1v1h-1zM305 277h1v1h-1zM307 283h1v1h-1zM270 262h1v1h-1zM303 263h1v1h-1zM293 270h1v1h-1zM301 272h1v1h-1zM269 278h1v1h-1zM275 279h1v1h-1zM269 283h1v1h-1zM290 283h1v1h-1zM309 270h1v1h-1zM318 271h1v1h-1zM306 272h1v1h-1zM312 272h1v1h-1zM317 272h1v1h-1zM320 273h1v1h-1zM311 274h1v1h-1zM312 274h1v1h-1zM318 274h1v1h-1zM319 274h1v1h-1zM318 275h1v1h-1z" fill="#b0b0b0"/>
<path d="M247 260h1v1h-1zM247 262h1v1h-1zM249 262h1v1h-1zM253 266h1v1h-1zM255 266h1v1h-1zM252 267h1v1h-1zM253 269h1v1h-1zM254 272h1v1h-1zM259 274h1v1h-1zM259 277h1v1h-1zM257 279h1v1h-1zM258 279h1v1h-1zM261 281h1v1h-1zM262 281h1v1h-1zM265 283h1v1h-1zM261 284h1v1h-1zM263 284h1v1h-1zM262 286h1v1h-1zM268 286h1v1h-1zM262 289h1v1h-1zM265 290h1v1h-1zM268 292h1v1h-1zM264 293h1v1h-1zM266 293h1v1h-1zM264 295h1v1h-1zM265 295h1v1h-1zM265 296h1v1h-1zM263 297h1v1h-1zM264 299h1v1h-1zM263 300h1v1h-1zM265 300h1v1h-1zM265 301h1v1h-1zM264 302h1v1h-1zM261 304h1v1h-1zM262 304h1v1h-1zM259 305h1v1h-1zM260 305h1v1h-1zM258 306h1v1h-1zM261 306h1v1h-1zM262 306h1v1h-1zM235 261h1v1h-1zM237 261h1v1h-1zM241 261h1v1h-1zM247 261h1v1h-1zM238 262h1v1h-1zM245 262h1v1h-1zM246 262h1v1h-1zM237 263h1v1h-1zM241 264h1v1h-1zM244 264h1v1h-1zM316 287h1v1h-1zM269 293h1v1h-1zM270 295h1v1h-1zM266 297h1v1h-1zM315 298h1v1h-1zM278 302h1v1h-1zM312 304h1v1h-1zM303 282h1v1h-1z" fill="#7c7c7c"/>
<path d="M245 260h1v1h-1zM246 260h1v1h-1zM249 260h1v1h-1zM246 261h1v1h-1zM248 261h1v1h-1zM248 263h1v1h-1zM249 263h1v1h-1zM250 263h1v1h-1zM249 264h1v1h-1zM251 264h1v1h-1zM253 264h1v1h-1zM250 265h1v1h-1zM251 265h1v1h-1zM252 265h1v1h-1zM254 265h1v1h-1zM251 266h1v1h-1zM252 266h1v1h-1zM251 267h1v1h-1zM255 267h1v1h-1zM252 268h1v1h-1zM253 268h1v1h-1zM255 268h1v1h-1zM256 268h1v1h-1zM255 269h1v1h-1zM256 269h1v1h-1zM254 270h1v1h-1zM255 270h1v1h-1zM254 271h1v1h-1zM255 271h1v1h-1zM256 271h1v1h-1zM257 271h1v1h-1zM255 272h1v1h-1zM257 272h1v1h-1zM258 272h1v1h-1zM255 273h1v1h-1zM257 273h1v1h-1zM259 273h1v1h-1zM255 274h1v1h-1zM256 274h1v1h-1zM258 274h1v1h-1zM257 275h1v1h-1zM261 275h1v1h-1zM256 276h1v1h-1zM257 276h1v1h-1zM259 276h1v1h-1zM257 277h1v1h-1zM258 277h1v1h-1zM260 277h1v1h-1zM261 277h1v1h-1zM258 278h1v1h-1zM260 278h1v1h-1zM259 279h1v1h-1zM260 279h1v1h-1zM261 279h1v1h-1zM262 279h1v1h-1zM264 279h1v1h-1zM259 280h1v1h-1zM260 280h1v1h-1zM260 282h1v1h-1zM261 282h1v1h-1zM262 282h1v1h-1zM265 282h1v1h-1zM261 283h1v1h-1zM263 283h1v1h-1zM266 283h1v1h-1zM265 284h1v1h-1zM263 285h1v1h-1zM265 285h1v1h-1zM267 285h1v1h-1zM263 286h1v1h-1zM265 287h1v1h-1zM266 287h1v1h-1zM267 287h1v1h-1zM264 288h1v1h-1zM265 288h1v1h-1zM268 288h1v1h-1zM265 289h1v1h-1zM266 289h1v1h-1zM267 289h1v1h-1zM266 290h1v1h-1zM267 290h1v1h-1zM267 291h1v1h-1zM268 291h1v1h-1zM269 291h1v1h-1zM267 292h1v1h-1zM265 293h1v1h-1zM265 294h1v1h-1zM268 294h1v1h-1zM266 295h1v1h-1zM267 295h1v1h-1zM266 296h1v1h-1zM264 297h1v1h-1zM265 297h1v1h-1zM266 297h1v1h-1zM264 298h1v1h-1zM265 298h1v1h-1zM266 298h1v1h-1zM263 299h1v1h-1zM262 301h1v1h-1zM263 301h1v1h-1zM262 302h1v1h-1zM263 302h1v1h-1zM261 303h1v1h-1zM263 303h1v1h-1zM259 306h1v1h-1zM259 307h1v1h-1zM260 307h1v1h-1zM261 307h1v1h-1zM258 308h1v1h-1zM258 309h1v1h-1z" fill="#5a5a5a"/>
<path d="M236 260h1v1h-1zM237 260h1v1h-1zM236 261h1v1h-1zM240 261h1v1h-1zM236 262h1v1h-1zM236 264h1v1h-1zM236 265h1v1h-1zM237 265h1v1h-1zM239 265h1v1h-1z" fill="#d8d8d8"/>
</g>
<rect x="234.7" y="259.7" width="90.2" height="50.6" fill="none" stroke="#555" stroke-width="1"/>
<path d="M236.2 310.8h1v2h-1zM239.2 310.8h1v2h-1zM243.2 310.8h1v2h-1zM247.2 310.8h1v2h-1zM251.2 310.8h1v1h-1zM254.2 310.8h1v1h-1zM258.2 310.8h1v1h-1zM261.2 310.8h1v2h-1zM264.2 310.8h1v1h-1zM267.2 310.8h1v1h-1zM270.2 310.8h1v2h-1zM273.2 310.8h1v1h-1zM276.2 310.8h1v2h-1zM278.2 310.8h1v1h-1zM280.2 310.8h1v2h-1zM284.2 310.8h1v1h-1zM286.2 310.8h1v1h-1zM289.2 310.8h1v1h-1zM292.2 310.8h1v1h-1zM295.2 310.8h1v1h-1zM297.2 310.8h1v2h-1zM300.2 310.8h1v1h-1zM303.2 310.8h1v1h-1zM306.2 310.8h1v2h-1zM308.2 310.8h1v1h-1zM311.2 310.8h1v2h-1zM314.2 310.8h1v2h-1zM317.2 310.8h1v2h-1zM321.2 310.8h1v1h-1zM324.2 310.8h1v1h-1z" fill="#666"/>
<rect x="269.4" y="261.7" width="34.6" height="23.1" fill="none" stroke="#333" stroke-width="1.1"/>
<text x="270.5" y="274.2" font-size="12.2" font-weight="bold" font-family="Liberation Serif" stroke="#000" stroke-width="0.3" textLength="26.1" lengthAdjust="spacingAndGlyphs">6.6%</text>
<rect x="330.9" y="259.2" width="93.5" height="51.6" fill="#fff"/>
<polygon points="330.9,259.2 334,259.2 336,260.7 337.9,262.2 339.6,263.7 340.7,265.2 341.9,266.7 343.1,268.2 344.3,269.7 344.8,271.2 345.2,272.7 345.6,274.2 346,275.7 346.3,277.2 346.8,278.7 347.2,280.2 347.6,281.7 348.1,283.2 348.5,284.7 349,286.2 349.6,287.7 350.1,289.2 350.7,290.7 351.2,292.2 351.6,293.7 352,295.2 352.5,296.7 352.9,298.2 353.2,299.7 353.4,301.2 353.6,302.7 353.8,304.2 354,305.7 354,307.2 354,308.7 354,310.2 354,310.8 330.9,310.8" fill="#5a5a5a"/>
<polygon points="344,266 356,270 368,274 372,278 366,281 354,283 346,284" fill="#8c8c8c" filter="url(#bl)"/>
<line x1="350" y1="292" x2="369" y2="285" stroke="#666" stroke-width="2.8" stroke-linecap="round" filter="url(#bl)"/>
<g filter="url(#bl)">
<path d="M345 267h1v1h-1zM347 268h1v1h-1zM350 268h1v1h-1zM348 269h1v1h-1zM349 269h1v1h-1zM344 270h1v1h-1zM345 270h1v1h-1zM353 270h1v1h-1zM353 271h1v1h-1zM355 271h1v1h-1zM346 272h1v1h-1zM350 272h1v1h-1zM357 272h1v1h-1zM350 273h1v1h-1zM356 273h1v1h-1zM360 273h1v1h-1zM362 273h1v1h-1zM363 273h1v1h-1zM353 274h1v1h-1zM355 274h1v1h-1zM357 274h1v1h-1zM360 274h1v1h-1zM361 274h1v1h-1zM362 274h1v1h-1zM347 275h1v1h-1zM351 275h1v1h-1zM355 275h1v1h-1zM358 275h1v1h-1zM359 275h1v1h-1zM360 275h1v1h-1zM361 275h1v1h-1zM366 275h1v1h-1zM352 276h1v1h-1zM353 276h1v1h-1zM357 276h1v1h-1zM354 277h1v1h-1zM356 277h1v1h-1zM361 277h1v1h-1zM365 277h1v1h-1zM350 278h1v1h-1zM355 278h1v1h-1zM356 278h1v1h-1zM358 278h1v1h-1zM355 279h1v1h-1zM363 279h1v1h-1zM355 280h1v1h-1zM363 280h1v1h-1zM351 281h1v1h-1zM353 281h1v1h-1zM354 281h1v1h-1zM355 281h1v1h-1zM350 282h1v1h-1zM346 283h1v1h-1zM337 261h1v1h-1zM343 261h1v1h-1zM341 262h1v1h-1zM342 262h1v1h-1zM343 266h1v1h-1zM347 266h1v1h-1zM348 271h1v1h-1zM349 273h1v1h-1zM352 273h1v1h-1zM350 275h1v1h-1zM361 276h1v1h-1zM362 277h1v1h-1zM363 281h1v1h-1zM348 282h1v1h-1zM357 282h1v1h-1zM348 284h1v1h-1zM349 286h1v1h-1zM353 287h1v1h-1zM354 288h1v1h-1zM355 291h1v1h-1zM365 292h1v1h-1zM354 293h1v1h-1zM355 294h1v1h-1zM354 296h1v1h-1zM355 298h1v1h-1zM358 298h1v1h-1zM353 299h1v1h-1zM354 301h1v1h-1zM356 302h1v1h-1zM358 303h1v1h-1zM354 305h1v1h-1zM357 305h1v1h-1zM354 306h1v1h-1zM356 308h1v1h-1zM332 260h1v1h-1zM338 260h1v1h-1zM341 260h1v1h-1zM336 261h1v1h-1zM338 261h1v1h-1zM333 262h1v1h-1zM334 262h1v1h-1zM337 262h1v1h-1zM338 262h1v1h-1zM339 262h1v1h-1zM340 262h1v1h-1zM342 263h1v1h-1zM333 264h1v1h-1zM335 264h1v1h-1zM337 264h1v1h-1zM339 264h1v1h-1zM343 264h1v1h-1zM334 265h1v1h-1zM337 266h1v1h-1zM339 267h1v1h-1zM391 286h1v1h-1zM395 287h1v1h-1zM367 289h1v1h-1zM389 289h1v1h-1zM378 290h1v1h-1zM416 290h1v1h-1zM361 291h1v1h-1zM414 291h1v1h-1zM368 292h1v1h-1zM394 293h1v1h-1zM404 293h1v1h-1zM381 295h1v1h-1zM394 295h1v1h-1zM362 296h1v1h-1zM378 296h1v1h-1zM384 296h1v1h-1zM420 296h1v1h-1zM363 297h1v1h-1zM409 297h1v1h-1zM395 298h1v1h-1zM418 298h1v1h-1zM420 298h1v1h-1zM378 300h1v1h-1zM405 300h1v1h-1zM423 300h1v1h-1zM402 301h1v1h-1zM403 301h1v1h-1zM404 301h1v1h-1zM382 302h1v1h-1zM384 302h1v1h-1zM386 302h1v1h-1zM405 303h1v1h-1zM371 305h1v1h-1zM374 305h1v1h-1zM365 306h1v1h-1zM390 306h1v1h-1zM408 306h1v1h-1zM409 307h1v1h-1zM363 308h1v1h-1zM371 309h1v1h-1zM391 309h1v1h-1zM416 309h1v1h-1zM415 262h1v1h-1zM405 265h1v1h-1zM410 265h1v1h-1zM406 269h1v1h-1zM412 269h1v1h-1zM403 273h1v1h-1zM414 273h1v1h-1zM419 273h1v1h-1zM408 274h1v1h-1zM422 276h1v1h-1zM404 277h1v1h-1zM423 281h1v1h-1zM403 282h1v1h-1zM418 283h1v1h-1zM422 284h1v1h-1zM394 265h1v1h-1zM384 266h1v1h-1zM375 267h1v1h-1zM382 268h1v1h-1zM374 271h1v1h-1zM391 276h1v1h-1zM400 276h1v1h-1zM392 277h1v1h-1zM384 282h1v1h-1zM390 283h1v1h-1zM370 300h1v1h-1zM380 296h1v1h-1zM371 287h1v1h-1zM374 299h1v1h-1zM382 290h1v1h-1zM374 307h1v1h-1zM370 305h1v1h-1zM376 297h1v1h-1zM379 303h1v1h-1zM373 300h1v1h-1zM379 273h1v1h-1zM395 278h1v1h-1zM401 275h1v1h-1zM395 276h1v1h-1zM344 276h1v1h-1zM386 272h1v1h-1zM385 273h1v1h-1zM407 271h1v1h-1z" fill="#b0b0b0"/>
<path d="M333 260h1v1h-1zM338 261h1v1h-1zM338 262h1v1h-1zM339 262h1v1h-1zM345 262h1v1h-1zM346 262h1v1h-1zM348 263h1v1h-1zM342 265h1v1h-1zM342 266h1v1h-1zM344 266h1v1h-1zM348 266h1v1h-1zM340 267h1v1h-1zM345 267h1v1h-1zM348 267h1v1h-1zM346 268h1v1h-1zM347 268h1v1h-1zM349 270h1v1h-1zM353 271h1v1h-1zM349 272h1v1h-1zM351 273h1v1h-1zM358 273h1v1h-1zM345 274h1v1h-1zM346 274h1v1h-1zM350 274h1v1h-1zM359 274h1v1h-1zM351 275h1v1h-1zM346 276h1v1h-1zM352 276h1v1h-1zM358 276h1v1h-1zM352 277h1v1h-1zM355 277h1v1h-1zM357 278h1v1h-1zM360 278h1v1h-1zM350 280h1v1h-1zM351 280h1v1h-1zM353 281h1v1h-1zM350 282h1v1h-1zM352 283h1v1h-1zM357 283h1v1h-1zM354 284h1v1h-1zM355 284h1v1h-1zM347 285h1v1h-1zM350 285h1v1h-1zM351 285h1v1h-1zM356 285h1v1h-1zM351 286h1v1h-1zM357 286h1v1h-1zM350 287h1v1h-1zM356 288h1v1h-1zM350 289h1v1h-1zM355 290h1v1h-1zM348 291h1v1h-1zM353 291h1v1h-1zM356 291h1v1h-1zM357 292h1v1h-1zM350 293h1v1h-1zM351 293h1v1h-1zM355 293h1v1h-1zM354 294h1v1h-1zM358 294h1v1h-1zM357 295h1v1h-1zM360 295h1v1h-1zM352 296h1v1h-1zM354 297h1v1h-1zM360 298h1v1h-1zM361 299h1v1h-1zM353 300h1v1h-1zM357 306h1v1h-1zM352 308h1v1h-1zM354 308h1v1h-1zM335 260h1v1h-1zM345 260h1v1h-1zM342 261h1v1h-1zM332 263h1v1h-1zM337 263h1v1h-1zM331 264h1v1h-1zM331 265h1v1h-1zM338 265h1v1h-1zM335 266h1v1h-1zM338 266h1v1h-1zM340 266h1v1h-1zM363 286h1v1h-1zM419 286h1v1h-1zM419 289h1v1h-1zM414 266h1v1h-1zM416 271h1v1h-1zM413 275h1v1h-1zM376 263h1v1h-1zM394 272h1v1h-1zM392 275h1v1h-1zM381 302h1v1h-1zM380 305h1v1h-1zM373 301h1v1h-1zM379 295h1v1h-1zM380 304h1v1h-1zM385 304h1v1h-1zM378 292h1v1h-1zM383 299h1v1h-1zM373 298h1v1h-1zM383 302h1v1h-1zM376 298h1v1h-1zM370 306h1v1h-1zM374 293h1v1h-1zM374 295h1v1h-1zM382 293h1v1h-1zM379 299h1v1h-1zM383 276h1v1h-1zM385 274h1v1h-1zM373 271h1v1h-1zM386 276h1v1h-1zM382 279h1v1h-1zM380 277h1v1h-1zM375 273h1v1h-1zM377 272h1v1h-1zM387 272h1v1h-1zM373 274h1v1h-1zM377 279h1v1h-1zM384 272h1v1h-1zM372 272h1v1h-1zM385 276h1v1h-1zM388 271h1v1h-1zM385 272h1v1h-1zM381 276h1v1h-1zM377 274h1v1h-1zM381 273h1v1h-1zM361 274h1v1h-1zM392 277h1v1h-1zM415 269h1v1h-1zM414 270h1v1h-1zM416 273h1v1h-1zM401 275h1v1h-1zM408 272h1v1h-1zM417 271h1v1h-1zM406 274h1v1h-1zM414 274h1v1h-1zM407 273h1v1h-1zM410 274h1v1h-1zM415 276h1v1h-1zM350 292h1v1h-1zM368 286h1v1h-1zM367 287h1v1h-1zM365 288h1v1h-1zM364 287h1v1h-1zM356 290h1v1h-1zM361 288h1v1h-1zM352 290h1v1h-1zM360 289h1v1h-1zM360 288h1v1h-1z" fill="#7c7c7c"/>
<path d="M336 260h1v1h-1zM337 260h1v1h-1zM338 260h1v1h-1zM339 260h1v1h-1zM340 260h1v1h-1zM339 261h1v1h-1zM340 261h1v1h-1zM341 261h1v1h-1zM342 261h1v1h-1zM340 262h1v1h-1zM343 262h1v1h-1zM339 263h1v1h-1zM340 263h1v1h-1zM342 263h1v1h-1zM343 263h1v1h-1zM344 263h1v1h-1zM345 263h1v1h-1zM346 263h1v1h-1zM340 264h1v1h-1zM341 264h1v1h-1zM342 264h1v1h-1zM343 264h1v1h-1zM344 264h1v1h-1zM345 264h1v1h-1zM343 265h1v1h-1zM344 265h1v1h-1zM349 265h1v1h-1zM351 265h1v1h-1zM345 266h1v1h-1zM349 266h1v1h-1zM343 267h1v1h-1zM346 267h1v1h-1zM347 267h1v1h-1zM349 267h1v1h-1zM343 268h1v1h-1zM344 268h1v1h-1zM348 268h1v1h-1zM354 268h1v1h-1zM344 269h1v1h-1zM345 269h1v1h-1zM346 269h1v1h-1zM347 269h1v1h-1zM349 269h1v1h-1zM355 269h1v1h-1zM345 270h1v1h-1zM346 270h1v1h-1zM347 270h1v1h-1zM354 270h1v1h-1zM357 270h1v1h-1zM345 271h1v1h-1zM346 271h1v1h-1zM347 271h1v1h-1zM350 271h1v1h-1zM357 271h1v1h-1zM345 272h1v1h-1zM346 272h1v1h-1zM350 272h1v1h-1zM351 272h1v1h-1zM345 273h1v1h-1zM346 273h1v1h-1zM347 273h1v1h-1zM348 273h1v1h-1zM350 273h1v1h-1zM347 274h1v1h-1zM354 274h1v1h-1zM356 274h1v1h-1zM358 274h1v1h-1zM346 275h1v1h-1zM347 275h1v1h-1zM348 275h1v1h-1zM349 275h1v1h-1zM355 275h1v1h-1zM359 275h1v1h-1zM347 276h1v1h-1zM348 276h1v1h-1zM350 276h1v1h-1zM351 276h1v1h-1zM356 276h1v1h-1zM357 276h1v1h-1zM346 277h1v1h-1zM348 277h1v1h-1zM349 277h1v1h-1zM353 277h1v1h-1zM354 277h1v1h-1zM356 277h1v1h-1zM358 277h1v1h-1zM347 278h1v1h-1zM348 278h1v1h-1zM349 278h1v1h-1zM352 278h1v1h-1zM353 278h1v1h-1zM347 279h1v1h-1zM348 279h1v1h-1zM349 279h1v1h-1zM351 279h1v1h-1zM352 279h1v1h-1zM356 279h1v1h-1zM357 279h1v1h-1zM358 279h1v1h-1zM347 280h1v1h-1zM348 280h1v1h-1zM349 280h1v1h-1zM352 280h1v1h-1zM353 280h1v1h-1zM354 280h1v1h-1zM359 280h1v1h-1zM348 281h1v1h-1zM349 281h1v1h-1zM351 281h1v1h-1zM352 281h1v1h-1zM354 281h1v1h-1zM361 281h1v1h-1zM351 282h1v1h-1zM352 282h1v1h-1zM353 282h1v1h-1zM355 282h1v1h-1zM356 282h1v1h-1zM358 282h1v1h-1zM361 282h1v1h-1zM348 283h1v1h-1zM349 283h1v1h-1zM350 283h1v1h-1zM351 283h1v1h-1zM354 283h1v1h-1zM355 283h1v1h-1zM358 283h1v1h-1zM359 283h1v1h-1zM360 283h1v1h-1zM362 283h1v1h-1zM364 283h1v1h-1zM349 284h1v1h-1zM350 284h1v1h-1zM351 284h1v1h-1zM352 284h1v1h-1zM356 284h1v1h-1zM359 284h1v1h-1zM360 284h1v1h-1zM362 284h1v1h-1zM364 284h1v1h-1zM349 285h1v1h-1zM352 285h1v1h-1zM353 285h1v1h-1zM354 285h1v1h-1zM355 285h1v1h-1zM357 285h1v1h-1zM363 285h1v1h-1zM350 286h1v1h-1zM353 286h1v1h-1zM356 286h1v1h-1zM358 286h1v1h-1zM360 286h1v1h-1zM362 286h1v1h-1zM363 286h1v1h-1zM351 287h1v1h-1zM352 287h1v1h-1zM354 287h1v1h-1zM356 287h1v1h-1zM358 287h1v1h-1zM359 287h1v1h-1zM350 288h1v1h-1zM351 288h1v1h-1zM353 288h1v1h-1zM355 288h1v1h-1zM359 288h1v1h-1zM360 288h1v1h-1zM361 288h1v1h-1zM351 289h1v1h-1zM352 289h1v1h-1zM355 289h1v1h-1zM356 289h1v1h-1zM357 289h1v1h-1zM360 289h1v1h-1zM351 290h1v1h-1zM352 290h1v1h-1zM353 290h1v1h-1zM354 290h1v1h-1zM357 290h1v1h-1zM358 290h1v1h-1zM351 291h1v1h-1zM352 291h1v1h-1zM354 291h1v1h-1zM359 291h1v1h-1zM361 291h1v1h-1zM351 292h1v1h-1zM352 292h1v1h-1zM355 292h1v1h-1zM359 292h1v1h-1zM352 293h1v1h-1zM353 293h1v1h-1zM358 293h1v1h-1zM352 294h1v1h-1zM356 294h1v1h-1zM352 295h1v1h-1zM353 295h1v1h-1zM354 295h1v1h-1zM362 295h1v1h-1zM353 296h1v1h-1zM356 296h1v1h-1zM357 296h1v1h-1zM360 296h1v1h-1zM361 296h1v1h-1zM353 297h1v1h-1zM355 297h1v1h-1zM358 297h1v1h-1zM353 298h1v1h-1zM354 298h1v1h-1zM357 298h1v1h-1zM354 299h1v1h-1zM355 299h1v1h-1zM356 299h1v1h-1zM354 300h1v1h-1zM358 300h1v1h-1zM353 301h1v1h-1zM355 301h1v1h-1zM356 301h1v1h-1zM355 302h1v1h-1zM354 303h1v1h-1zM355 303h1v1h-1zM359 303h1v1h-1zM354 304h1v1h-1zM355 304h1v1h-1zM357 304h1v1h-1zM356 305h1v1h-1zM355 307h1v1h-1zM356 307h1v1h-1zM355 308h1v1h-1zM354 309h1v1h-1zM355 309h1v1h-1zM376 297h1v1h-1zM373 299h1v1h-1zM376 300h1v1h-1zM386 295h1v1h-1zM385 293h1v1h-1zM376 294h1v1h-1zM371 289h1v1h-1zM377 295h1v1h-1zM387 299h1v1h-1zM374 302h1v1h-1zM381 285h1v1h-1zM379 301h1v1h-1zM375 293h1v1h-1zM385 298h1v1h-1zM377 292h1v1h-1zM375 296h1v1h-1zM384 297h1v1h-1zM379 303h1v1h-1zM380 296h1v1h-1zM380 295h1v1h-1zM375 299h1v1h-1zM378 299h1v1h-1zM381 299h1v1h-1zM376 296h1v1h-1zM372 298h1v1h-1zM376 295h1v1h-1zM378 294h1v1h-1zM380 299h1v1h-1zM383 298h1v1h-1zM382 291h1v1h-1zM382 300h1v1h-1zM372 302h1v1h-1zM381 297h1v1h-1zM375 303h1v1h-1zM380 307h1v1h-1zM376 304h1v1h-1zM376 301h1v1h-1zM374 304h1v1h-1zM386 302h1v1h-1zM376 291h1v1h-1zM377 294h1v1h-1zM383 275h1v1h-1zM388 271h1v1h-1zM365 276h1v1h-1zM365 274h1v1h-1zM382 273h1v1h-1zM387 272h1v1h-1zM380 273h1v1h-1zM380 274h1v1h-1zM397 277h1v1h-1zM389 272h1v1h-1zM389 275h1v1h-1zM398 275h1v1h-1zM411 274h1v1h-1zM380 276h1v1h-1zM391 273h1v1h-1zM375 278h1v1h-1zM374 274h1v1h-1zM391 270h1v1h-1zM403 274h1v1h-1zM415 272h1v1h-1zM422 273h1v1h-1zM423 272h1v1h-1zM413 275h1v1h-1zM410 272h1v1h-1zM406 273h1v1h-1zM407 275h1v1h-1zM414 271h1v1h-1zM400 275h1v1h-1zM421 273h1v1h-1zM410 271h1v1h-1zM420 274h1v1h-1zM414 275h1v1h-1zM417 274h1v1h-1zM418 272h1v1h-1zM351 293h1v1h-1zM356 290h1v1h-1zM369 286h1v1h-1zM350 291h1v1h-1zM361 287h1v1h-1zM353 291h1v1h-1zM364 286h1v1h-1zM355 287h1v1h-1zM364 288h1v1h-1zM365 288h1v1h-1zM356 291h1v1h-1zM370 285h1v1h-1zM363 284h1v1h-1zM358 288h1v1h-1zM369 284h1v1h-1zM370 284h1v1h-1zM353 292h1v1h-1zM355 290h1v1h-1zM360 285h1v1h-1zM366 287h1v1h-1zM362 287h1v1h-1zM357 288h1v1h-1z" fill="#5a5a5a"/>
<path d="M344 266h1v1h-1zM346 267h1v1h-1zM345 268h1v1h-1zM346 269h1v1h-1zM352 269h1v1h-1zM346 270h1v1h-1zM351 270h1v1h-1zM354 270h1v1h-1zM346 271h1v1h-1zM348 271h1v1h-1zM349 271h1v1h-1zM350 271h1v1h-1zM351 271h1v1h-1zM358 271h1v1h-1zM352 272h1v1h-1zM346 273h1v1h-1zM353 273h1v1h-1zM358 273h1v1h-1zM350 274h1v1h-1zM363 274h1v1h-1zM365 274h1v1h-1zM356 275h1v1h-1zM362 275h1v1h-1zM364 275h1v1h-1zM354 276h1v1h-1zM356 276h1v1h-1zM358 276h1v1h-1zM345 277h1v1h-1zM346 277h1v1h-1zM349 277h1v1h-1zM350 277h1v1h-1zM353 277h1v1h-1zM355 277h1v1h-1zM357 277h1v1h-1zM360 277h1v1h-1zM367 277h1v1h-1zM368 277h1v1h-1zM346 278h1v1h-1zM351 278h1v1h-1zM354 278h1v1h-1zM363 278h1v1h-1zM350 279h1v1h-1zM358 279h1v1h-1zM362 279h1v1h-1zM347 280h1v1h-1zM352 280h1v1h-1zM359 280h1v1h-1zM360 280h1v1h-1zM347 281h1v1h-1zM348 281h1v1h-1zM350 281h1v1h-1zM359 281h1v1h-1zM362 281h1v1h-1zM348 282h1v1h-1zM352 282h1v1h-1zM353 282h1v1h-1zM354 282h1v1h-1zM331 260h1v1h-1zM334 260h1v1h-1zM331 261h1v1h-1zM332 261h1v1h-1zM334 261h1v1h-1zM335 261h1v1h-1zM339 261h1v1h-1zM340 261h1v1h-1zM343 261h1v1h-1zM331 262h1v1h-1zM335 262h1v1h-1zM340 263h1v1h-1zM341 263h1v1h-1zM334 264h1v1h-1zM336 264h1v1h-1zM338 264h1v1h-1zM335 265h1v1h-1zM336 265h1v1h-1zM339 265h1v1h-1zM333 266h1v1h-1zM334 266h1v1h-1z" fill="#d8d8d8"/>
</g>
<rect x="331.4" y="259.7" width="92.5" height="50.6" fill="none" stroke="#555" stroke-width="1"/>
<path d="M332.9 310.8h1v2h-1zM334.9 310.8h1v2h-1zM337.9 310.8h1v1h-1zM339.9 310.8h1v2h-1zM341.9 310.8h1v2h-1zM344.9 310.8h1v2h-1zM346.9 310.8h1v1h-1zM349.9 310.8h1v1h-1zM352.9 310.8h1v1h-1zM354.9 310.8h1v2h-1zM357.9 310.8h1v2h-1zM360.9 310.8h1v2h-1zM364.9 310.8h1v1h-1zM367.9 310.8h1v1h-1zM369.9 310.8h1v1h-1zM373.9 310.8h1v2h-1zM375.9 310.8h1v2h-1zM378.9 310.8h1v2h-1zM382.9 310.8h1v1h-1zM385.9 310.8h1v2h-1zM388.9 310.8h1v2h-1zM390.9 310.8h1v2h-1zM393.9 310.8h1v1h-1zM396.9 310.8h1v2h-1zM399.9 310.8h1v2h-1zM401.9 310.8h1v2h-1zM403.9 310.8h1v2h-1zM407.9 310.8h1v1h-1zM410.9 310.8h1v2h-1zM413.9 310.8h1v2h-1zM415.9 310.8h1v2h-1zM419.9 310.8h1v1h-1zM422.9 310.8h1v2h-1z" fill="#666"/>
<rect x="368.4" y="261.7" width="35" height="23.3" fill="none" stroke="#333" stroke-width="1.1"/>
<text x="372.3" y="274.2" font-size="12.2" font-weight="bold" font-family="Liberation Serif" stroke="#000" stroke-width="0.3" textLength="31" lengthAdjust="spacingAndGlyphs">78.6%</text>
<rect x="41.5" y="316.8" width="94.1" height="51" fill="#fff"/>
<polygon points="41.5,316.8 48,316.8 49.7,318.3 51.5,319.8 53.2,321.3 55.2,322.8 57.5,324.3 59.7,325.8 61.2,327.3 61.9,328.8 62.7,330.3 63.4,331.8 64.2,333.3 64.8,334.8 65.4,336.3 66,337.8 66.6,339.3 67.3,340.8 68.3,342.3 69.2,343.8 70.1,345.3 71.1,346.8 71.6,348.3 72,349.8 72.4,351.3 72.9,352.8 73.1,354.3 72.3,355.8 71.6,357.3 70.9,358.8 70.1,360.3 69.6,361.8 69.1,363.3 68.6,364.8 68.2,366.3 67.7,367.8 41.5,367.8" fill="#5a5a5a"/>
<ellipse cx="123" cy="358" rx="4.2" ry="5.4" fill="#5a5a5a" opacity="1" filter="url(#sm)"/>
<g filter="url(#bl)">
<path d="M55 321h1v1h-1zM59 323h1v1h-1zM61 326h1v1h-1zM65 329h1v1h-1zM72 339h1v1h-1zM69 341h1v1h-1zM70 341h1v1h-1zM71 341h1v1h-1zM74 347h1v1h-1zM72 351h1v1h-1zM71 360h1v1h-1zM71 361h1v1h-1zM70 365h1v1h-1zM47 317h1v1h-1zM48 317h1v1h-1zM49 317h1v1h-1zM53 317h1v1h-1zM54 317h1v1h-1zM55 317h1v1h-1zM60 317h1v1h-1zM43 318h1v1h-1zM45 318h1v1h-1zM49 318h1v1h-1zM56 318h1v1h-1zM60 318h1v1h-1zM44 319h1v1h-1zM48 319h1v1h-1zM53 319h1v1h-1zM49 320h1v1h-1zM54 320h1v1h-1zM55 320h1v1h-1zM44 321h1v1h-1zM47 321h1v1h-1zM52 321h1v1h-1zM59 321h1v1h-1zM45 322h1v1h-1zM48 322h1v1h-1zM51 322h1v1h-1zM59 322h1v1h-1zM44 323h1v1h-1zM46 323h1v1h-1zM51 323h1v1h-1zM53 323h1v1h-1zM55 323h1v1h-1zM57 323h1v1h-1zM42 325h1v1h-1zM49 325h1v1h-1zM50 325h1v1h-1zM42 326h1v1h-1zM44 326h1v1h-1zM46 326h1v1h-1zM42 327h1v1h-1zM44 327h1v1h-1zM99 343h1v1h-1zM120 343h1v1h-1zM74 344h1v1h-1zM78 344h1v1h-1zM98 344h1v1h-1zM122 344h1v1h-1zM126 344h1v1h-1zM82 345h1v1h-1zM128 345h1v1h-1zM80 346h1v1h-1zM91 346h1v1h-1zM93 346h1v1h-1zM85 348h1v1h-1zM87 349h1v1h-1zM87 350h1v1h-1zM98 350h1v1h-1zM109 350h1v1h-1zM117 350h1v1h-1zM87 351h1v1h-1zM93 351h1v1h-1zM117 351h1v1h-1zM122 351h1v1h-1zM124 351h1v1h-1zM97 352h1v1h-1zM103 352h1v1h-1zM105 352h1v1h-1zM129 352h1v1h-1zM73 353h1v1h-1zM79 353h1v1h-1zM80 353h1v1h-1zM87 353h1v1h-1zM105 353h1v1h-1zM126 353h1v1h-1zM77 354h1v1h-1zM79 354h1v1h-1zM91 354h1v1h-1zM93 354h1v1h-1zM119 354h1v1h-1zM132 354h1v1h-1zM83 355h1v1h-1zM97 355h1v1h-1zM123 355h1v1h-1zM75 356h1v1h-1zM99 356h1v1h-1zM104 356h1v1h-1zM132 356h1v1h-1zM78 357h1v1h-1zM95 357h1v1h-1zM100 357h1v1h-1zM115 357h1v1h-1zM90 358h1v1h-1zM76 359h1v1h-1zM116 359h1v1h-1zM76 360h1v1h-1zM77 360h1v1h-1zM81 360h1v1h-1zM92 360h1v1h-1zM72 361h1v1h-1zM79 361h1v1h-1zM84 361h1v1h-1zM87 361h1v1h-1zM89 361h1v1h-1zM102 361h1v1h-1zM110 361h1v1h-1zM86 362h1v1h-1zM96 362h1v1h-1zM75 363h1v1h-1zM84 363h1v1h-1zM122 363h1v1h-1zM80 364h1v1h-1zM93 364h1v1h-1zM101 364h1v1h-1zM97 365h1v1h-1zM98 365h1v1h-1zM82 366h1v1h-1zM112 322h1v1h-1zM116 327h1v1h-1zM116 328h1v1h-1zM120 328h1v1h-1zM122 328h1v1h-1zM133 329h1v1h-1zM126 330h1v1h-1zM132 331h1v1h-1zM115 332h1v1h-1zM132 333h1v1h-1zM120 334h1v1h-1zM115 335h1v1h-1zM123 341h1v1h-1zM127 341h1v1h-1zM106 320h1v1h-1zM81 323h1v1h-1zM110 324h1v1h-1zM81 328h1v1h-1zM105 329h1v1h-1zM101 333h1v1h-1zM89 337h1v1h-1zM78 339h1v1h-1zM110 339h1v1h-1zM97 340h1v1h-1zM85 341h1v1h-1zM122 329h1v1h-1zM125 329h1v1h-1zM122 330h1v1h-1zM123 332h1v1h-1zM119 333h1v1h-1zM120 333h1v1h-1zM125 333h1v1h-1zM119 334h1v1h-1zM120 335h1v1h-1zM119 336h1v1h-1zM120 336h1v1h-1zM121 338h1v1h-1zM123 339h1v1h-1zM120 357h1v1h-1zM117 356h1v1h-1zM121 351h1v1h-1zM123 358h1v1h-1zM121 354h1v1h-1zM126 352h1v1h-1zM123 359h1v1h-1zM125 350h1v1h-1zM122 354h1v1h-1zM122 353h1v1h-1zM128 354h1v1h-1zM123 365h1v1h-1zM124 361h1v1h-1zM123 349h1v1h-1zM117 357h1v1h-1zM126 357h1v1h-1z" fill="#b0b0b0"/>
<path d="M54 320h1v1h-1zM51 321h1v1h-1zM60 322h1v1h-1zM54 323h1v1h-1zM62 324h1v1h-1zM59 325h1v1h-1zM65 328h1v1h-1zM61 329h1v1h-1zM64 329h1v1h-1zM61 331h1v1h-1zM66 331h1v1h-1zM69 332h1v1h-1zM62 333h1v1h-1zM66 335h1v1h-1zM64 336h1v1h-1zM70 338h1v1h-1zM75 338h1v1h-1zM65 339h1v1h-1zM69 339h1v1h-1zM75 339h1v1h-1zM69 340h1v1h-1zM75 340h1v1h-1zM69 342h1v1h-1zM73 343h1v1h-1zM67 344h1v1h-1zM68 345h1v1h-1zM75 345h1v1h-1zM71 346h1v1h-1zM72 346h1v1h-1zM77 347h1v1h-1zM71 348h1v1h-1zM71 349h1v1h-1zM77 349h1v1h-1zM74 351h1v1h-1zM76 351h1v1h-1zM70 352h1v1h-1zM74 353h1v1h-1zM71 357h1v1h-1zM71 358h1v1h-1zM68 359h1v1h-1zM72 359h1v1h-1zM70 360h1v1h-1zM70 361h1v1h-1zM69 362h1v1h-1zM67 364h1v1h-1zM70 366h1v1h-1zM45 317h1v1h-1zM42 318h1v1h-1zM47 318h1v1h-1zM51 318h1v1h-1zM54 318h1v1h-1zM58 318h1v1h-1zM62 318h1v1h-1zM45 319h1v1h-1zM49 319h1v1h-1zM62 319h1v1h-1zM42 320h1v1h-1zM46 320h1v1h-1zM47 320h1v1h-1zM56 320h1v1h-1zM57 320h1v1h-1zM58 320h1v1h-1zM62 320h1v1h-1zM43 321h1v1h-1zM46 321h1v1h-1zM55 321h1v1h-1zM57 322h1v1h-1zM43 323h1v1h-1zM44 324h1v1h-1zM48 324h1v1h-1zM50 324h1v1h-1zM57 324h1v1h-1zM43 325h1v1h-1zM45 325h1v1h-1zM49 326h1v1h-1zM82 343h1v1h-1zM91 347h1v1h-1zM133 350h1v1h-1zM121 352h1v1h-1zM72 357h1v1h-1zM124 357h1v1h-1zM133 358h1v1h-1zM131 366h1v1h-1zM95 330h1v1h-1zM110 336h1v1h-1zM123 334h1v1h-1zM119 338h1v1h-1zM122 355h1v1h-1zM121 349h1v1h-1zM120 354h1v1h-1zM122 359h1v1h-1zM122 357h1v1h-1zM129 354h1v1h-1zM123 358h1v1h-1zM124 360h1v1h-1zM118 360h1v1h-1zM121 360h1v1h-1zM126 362h1v1h-1zM133 357h1v1h-1zM123 363h1v1h-1zM126 352h1v1h-1zM126 351h1v1h-1zM126 358h1v1h-1zM120 364h1v1h-1zM124 361h1v1h-1zM123 352h1v1h-1zM120 357h1v1h-1zM129 358h1v1h-1zM130 361h1v1h-1zM120 359h1v1h-1zM124 364h1v1h-1zM122 354h1v1h-1zM121 350h1v1h-1zM124 350h1v1h-1zM121 353h1v1h-1zM121 358h1v1h-1zM126 356h1v1h-1zM127 359h1v1h-1zM129 355h1v1h-1zM127 358h1v1h-1zM125 365h1v1h-1zM120 363h1v1h-1zM124 359h1v1h-1zM129 361h1v1h-1zM122 360h1v1h-1zM127 354h1v1h-1zM117 352h1v1h-1zM130 351h1v1h-1zM126 357h1v1h-1zM122 352h1v1h-1zM123 357h1v1h-1zM127 355h1v1h-1zM126 359h1v1h-1zM125 362h1v1h-1zM129 360h1v1h-1z" fill="#7c7c7c"/>
<path d="M49 317h1v1h-1zM50 317h1v1h-1zM51 317h1v1h-1zM53 317h1v1h-1zM50 318h1v1h-1zM51 318h1v1h-1zM53 318h1v1h-1zM58 318h1v1h-1zM51 319h1v1h-1zM52 319h1v1h-1zM53 319h1v1h-1zM55 319h1v1h-1zM52 320h1v1h-1zM53 320h1v1h-1zM58 320h1v1h-1zM59 320h1v1h-1zM53 321h1v1h-1zM54 321h1v1h-1zM55 322h1v1h-1zM58 322h1v1h-1zM62 322h1v1h-1zM56 323h1v1h-1zM57 323h1v1h-1zM58 323h1v1h-1zM61 323h1v1h-1zM63 323h1v1h-1zM65 323h1v1h-1zM58 324h1v1h-1zM59 324h1v1h-1zM60 324h1v1h-1zM60 325h1v1h-1zM61 325h1v1h-1zM62 325h1v1h-1zM62 326h1v1h-1zM63 326h1v1h-1zM64 326h1v1h-1zM61 327h1v1h-1zM62 327h1v1h-1zM64 327h1v1h-1zM62 328h1v1h-1zM63 328h1v1h-1zM64 328h1v1h-1zM67 328h1v1h-1zM68 328h1v1h-1zM62 329h1v1h-1zM63 329h1v1h-1zM66 329h1v1h-1zM68 329h1v1h-1zM63 330h1v1h-1zM64 330h1v1h-1zM69 330h1v1h-1zM63 331h1v1h-1zM64 331h1v1h-1zM65 331h1v1h-1zM67 331h1v1h-1zM64 332h1v1h-1zM65 332h1v1h-1zM66 332h1v1h-1zM70 332h1v1h-1zM64 333h1v1h-1zM65 333h1v1h-1zM66 333h1v1h-1zM67 333h1v1h-1zM65 334h1v1h-1zM69 334h1v1h-1zM70 334h1v1h-1zM72 334h1v1h-1zM73 334h1v1h-1zM65 335h1v1h-1zM67 335h1v1h-1zM68 335h1v1h-1zM71 335h1v1h-1zM65 336h1v1h-1zM66 336h1v1h-1zM68 336h1v1h-1zM66 337h1v1h-1zM67 337h1v1h-1zM68 337h1v1h-1zM66 338h1v1h-1zM67 338h1v1h-1zM68 338h1v1h-1zM69 338h1v1h-1zM71 338h1v1h-1zM74 338h1v1h-1zM67 339h1v1h-1zM68 339h1v1h-1zM74 339h1v1h-1zM67 340h1v1h-1zM68 340h1v1h-1zM70 340h1v1h-1zM72 340h1v1h-1zM68 341h1v1h-1zM72 341h1v1h-1zM68 342h1v1h-1zM71 342h1v1h-1zM72 342h1v1h-1zM74 342h1v1h-1zM69 343h1v1h-1zM70 343h1v1h-1zM71 343h1v1h-1zM72 343h1v1h-1zM74 343h1v1h-1zM71 344h1v1h-1zM72 344h1v1h-1zM73 344h1v1h-1zM74 344h1v1h-1zM75 344h1v1h-1zM70 345h1v1h-1zM71 345h1v1h-1zM72 345h1v1h-1zM73 345h1v1h-1zM74 345h1v1h-1zM77 345h1v1h-1zM73 346h1v1h-1zM75 346h1v1h-1zM76 346h1v1h-1zM71 347h1v1h-1zM72 347h1v1h-1zM78 347h1v1h-1zM72 348h1v1h-1zM74 348h1v1h-1zM72 349h1v1h-1zM75 349h1v1h-1zM72 350h1v1h-1zM73 350h1v1h-1zM75 350h1v1h-1zM73 351h1v1h-1zM75 351h1v1h-1zM77 351h1v1h-1zM73 352h1v1h-1zM74 352h1v1h-1zM76 352h1v1h-1zM73 353h1v1h-1zM76 353h1v1h-1zM73 354h1v1h-1zM74 354h1v1h-1zM77 354h1v1h-1zM72 355h1v1h-1zM74 355h1v1h-1zM76 355h1v1h-1zM72 356h1v1h-1zM73 356h1v1h-1zM74 356h1v1h-1zM75 356h1v1h-1zM72 357h1v1h-1zM73 358h1v1h-1zM75 358h1v1h-1zM71 359h1v1h-1zM74 359h1v1h-1zM72 360h1v1h-1zM73 360h1v1h-1zM74 361h1v1h-1zM70 362h1v1h-1zM71 362h1v1h-1zM69 363h1v1h-1zM70 363h1v1h-1zM73 363h1v1h-1zM69 364h1v1h-1zM73 364h1v1h-1zM68 365h1v1h-1zM69 365h1v1h-1zM69 366h1v1h-1zM73 366h1v1h-1zM120 354h1v1h-1zM119 356h1v1h-1zM121 359h1v1h-1zM125 363h1v1h-1zM119 357h1v1h-1zM122 356h1v1h-1zM121 361h1v1h-1zM120 357h1v1h-1zM123 366h1v1h-1zM127 361h1v1h-1zM125 358h1v1h-1zM120 352h1v1h-1zM121 366h1v1h-1zM123 355h1v1h-1zM122 359h1v1h-1zM121 352h1v1h-1zM122 360h1v1h-1zM120 360h1v1h-1zM126 360h1v1h-1zM130 357h1v1h-1zM122 362h1v1h-1zM126 358h1v1h-1zM117 362h1v1h-1zM123 359h1v1h-1zM127 363h1v1h-1zM116 353h1v1h-1zM128 355h1v1h-1zM127 357h1v1h-1zM124 353h1v1h-1zM122 353h1v1h-1zM125 361h1v1h-1zM117 363h1v1h-1zM119 355h1v1h-1zM122 357h1v1h-1zM122 363h1v1h-1zM123 352h1v1h-1zM121 351h1v1h-1zM123 353h1v1h-1zM125 364h1v1h-1zM130 355h1v1h-1zM120 359h1v1h-1zM124 357h1v1h-1zM126 361h1v1h-1zM130 363h1v1h-1zM120 355h1v1h-1z" fill="#5a5a5a"/>
<path d="M42 317h1v1h-1zM43 317h1v1h-1zM44 317h1v1h-1zM46 317h1v1h-1zM50 317h1v1h-1zM56 317h1v1h-1zM59 317h1v1h-1zM61 317h1v1h-1zM46 318h1v1h-1zM59 318h1v1h-1zM42 319h1v1h-1zM46 319h1v1h-1zM47 319h1v1h-1zM52 319h1v1h-1zM59 319h1v1h-1zM61 319h1v1h-1zM43 320h1v1h-1zM44 320h1v1h-1zM45 320h1v1h-1zM51 320h1v1h-1zM52 320h1v1h-1zM53 320h1v1h-1zM59 320h1v1h-1zM60 320h1v1h-1zM61 320h1v1h-1zM45 321h1v1h-1zM49 321h1v1h-1zM43 322h1v1h-1zM44 322h1v1h-1zM47 322h1v1h-1zM55 322h1v1h-1zM58 322h1v1h-1zM48 323h1v1h-1zM52 323h1v1h-1zM59 323h1v1h-1zM54 324h1v1h-1zM44 325h1v1h-1zM47 325h1v1h-1zM45 326h1v1h-1zM48 326h1v1h-1zM46 327h1v1h-1zM47 327h1v1h-1z" fill="#d8d8d8"/>
</g>
<rect x="42" y="317.3" width="93.1" height="50" fill="none" stroke="#555" stroke-width="1"/>
<path d="M43.5 367.8h1v2h-1zM45.5 367.8h1v1h-1zM48.5 367.8h1v2h-1zM51.5 367.8h1v2h-1zM54.5 367.8h1v2h-1zM56.5 367.8h1v1h-1zM58.5 367.8h1v1h-1zM61.5 367.8h1v2h-1zM64.5 367.8h1v2h-1zM66.5 367.8h1v1h-1zM69.5 367.8h1v1h-1zM71.5 367.8h1v2h-1zM74.5 367.8h1v2h-1zM78.5 367.8h1v1h-1zM82.5 367.8h1v2h-1zM84.5 367.8h1v2h-1zM87.5 367.8h1v2h-1zM89.5 367.8h1v1h-1zM92.5 367.8h1v1h-1zM95.5 367.8h1v2h-1zM98.5 367.8h1v1h-1zM101.5 367.8h1v2h-1zM104.5 367.8h1v2h-1zM107.5 367.8h1v1h-1zM110.5 367.8h1v1h-1zM112.5 367.8h1v1h-1zM116.5 367.8h1v1h-1zM119.5 367.8h1v1h-1zM122.5 367.8h1v2h-1zM125.5 367.8h1v1h-1zM129.5 367.8h1v2h-1zM132.5 367.8h1v1h-1z" fill="#666"/>
<rect x="77.1" y="319.7" width="35.4" height="22.5" fill="none" stroke="#333" stroke-width="1.1"/>
<text x="80.7" y="332.2" font-size="12.2" font-weight="bold" font-family="Liberation Serif" stroke="#000" stroke-width="0.3" textLength="25.9" lengthAdjust="spacingAndGlyphs">4.2%</text>
<rect x="137.3" y="316.8" width="93.3" height="51" fill="#fff"/>
<polygon points="137.3,316.8 158,316.8 159.3,318.3 159.6,319.8 160,321.3 160.3,322.8 160.7,324.3 161,325.8 161.4,327.3 161.7,328.8 162.1,330.3 162.4,331.8 162.8,333.3 163.2,334.8 163.7,336.3 164.1,337.8 164.6,339.3 165.5,340.8 166.8,342.3 168.2,343.8 169.5,345.3 170.8,346.8 171.3,348.3 171.6,349.8 171.9,351.3 172.2,352.8 172.2,354.3 171,355.8 169.8,357.3 168.6,358.8 167.4,360.3 166.4,361.8 165.5,363.3 164.6,364.8 163.6,366.3 162.7,367.8 137.3,367.8" fill="#5a5a5a"/>
<ellipse cx="186" cy="356.5" rx="7.2" ry="2.4" fill="#5a5a5a" opacity="1" filter="url(#sm)"/>
<ellipse cx="221" cy="356.5" rx="6" ry="2.4" fill="#5a5a5a" opacity="1" filter="url(#sm)"/>
<ellipse cx="203" cy="358" rx="6" ry="3.6" fill="#5a5a5a" opacity="0.4" filter="url(#sm)"/>
<g filter="url(#bl)">
<path d="M160 319h1v1h-1zM161 321h1v1h-1zM161 322h1v1h-1zM160 323h1v1h-1zM161 324h1v1h-1zM164 326h1v1h-1zM163 332h1v1h-1zM167 334h1v1h-1zM163 335h1v1h-1zM166 335h1v1h-1zM173 338h1v1h-1zM169 339h1v1h-1zM173 341h1v1h-1zM170 342h1v1h-1zM171 348h1v1h-1zM171 349h1v1h-1zM172 350h1v1h-1zM177 350h1v1h-1zM173 354h1v1h-1zM171 355h1v1h-1zM172 356h1v1h-1zM170 358h1v1h-1zM168 359h1v1h-1zM172 362h1v1h-1zM165 366h1v1h-1zM139 317h1v1h-1zM140 317h1v1h-1zM141 317h1v1h-1zM144 317h1v1h-1zM146 317h1v1h-1zM139 318h1v1h-1zM140 318h1v1h-1zM141 318h1v1h-1zM144 318h1v1h-1zM147 318h1v1h-1zM148 318h1v1h-1zM138 319h1v1h-1zM141 319h1v1h-1zM143 319h1v1h-1zM146 319h1v1h-1zM140 320h1v1h-1zM142 320h1v1h-1zM146 320h1v1h-1zM139 321h1v1h-1zM142 321h1v1h-1zM143 321h1v1h-1zM144 321h1v1h-1zM145 321h1v1h-1zM146 321h1v1h-1zM143 322h1v1h-1zM139 323h1v1h-1zM140 323h1v1h-1zM141 323h1v1h-1zM145 323h1v1h-1zM139 324h1v1h-1zM141 324h1v1h-1zM143 324h1v1h-1zM138 325h1v1h-1zM143 325h1v1h-1zM145 325h1v1h-1zM145 326h1v1h-1zM139 327h1v1h-1zM141 327h1v1h-1zM140 329h1v1h-1zM179 343h1v1h-1zM183 343h1v1h-1zM188 343h1v1h-1zM190 343h1v1h-1zM207 343h1v1h-1zM214 344h1v1h-1zM192 345h1v1h-1zM203 345h1v1h-1zM207 346h1v1h-1zM175 347h1v1h-1zM178 347h1v1h-1zM213 347h1v1h-1zM177 348h1v1h-1zM193 348h1v1h-1zM195 348h1v1h-1zM198 348h1v1h-1zM209 348h1v1h-1zM206 349h1v1h-1zM208 349h1v1h-1zM176 350h1v1h-1zM223 350h1v1h-1zM207 351h1v1h-1zM223 351h1v1h-1zM229 351h1v1h-1zM171 352h1v1h-1zM180 352h1v1h-1zM201 352h1v1h-1zM212 352h1v1h-1zM223 352h1v1h-1zM184 353h1v1h-1zM208 353h1v1h-1zM223 353h1v1h-1zM170 354h1v1h-1zM212 354h1v1h-1zM217 354h1v1h-1zM219 354h1v1h-1zM227 354h1v1h-1zM170 355h1v1h-1zM194 355h1v1h-1zM195 355h1v1h-1zM198 355h1v1h-1zM207 355h1v1h-1zM221 355h1v1h-1zM205 356h1v1h-1zM209 356h1v1h-1zM171 357h1v1h-1zM179 357h1v1h-1zM187 357h1v1h-1zM205 357h1v1h-1zM219 357h1v1h-1zM181 358h1v1h-1zM216 358h1v1h-1zM218 359h1v1h-1zM220 359h1v1h-1zM189 360h1v1h-1zM222 360h1v1h-1zM227 361h1v1h-1zM229 361h1v1h-1zM217 362h1v1h-1zM190 363h1v1h-1zM193 363h1v1h-1zM192 364h1v1h-1zM203 364h1v1h-1zM210 364h1v1h-1zM219 364h1v1h-1zM218 365h1v1h-1zM203 366h1v1h-1zM223 325h1v1h-1zM229 327h1v1h-1zM226 328h1v1h-1zM225 330h1v1h-1zM225 332h1v1h-1zM213 337h1v1h-1zM213 340h1v1h-1zM218 341h1v1h-1zM198 321h1v1h-1zM207 321h1v1h-1zM179 322h1v1h-1zM199 323h1v1h-1zM184 324h1v1h-1zM194 324h1v1h-1zM195 324h1v1h-1zM180 326h1v1h-1zM183 328h1v1h-1zM191 328h1v1h-1zM207 329h1v1h-1zM188 330h1v1h-1zM187 335h1v1h-1zM201 335h1v1h-1zM204 337h1v1h-1zM177 339h1v1h-1zM189 340h1v1h-1zM177 341h1v1h-1zM184 356h1v1h-1zM190 356h1v1h-1zM195 357h1v1h-1zM176 358h1v1h-1zM193 356h1v1h-1zM181 355h1v1h-1zM180 355h1v1h-1zM177 353h1v1h-1zM178 357h1v1h-1zM191 354h1v1h-1zM174 355h1v1h-1zM179 355h1v1h-1zM187 353h1v1h-1zM187 356h1v1h-1zM190 354h1v1h-1zM183 357h1v1h-1zM189 354h1v1h-1zM192 357h1v1h-1zM187 358h1v1h-1zM190 355h1v1h-1zM185 351h1v1h-1zM224 356h1v1h-1zM221 356h1v1h-1zM218 351h1v1h-1zM228 355h1v1h-1zM225 356h1v1h-1zM221 359h1v1h-1zM224 355h1v1h-1zM222 356h1v1h-1zM227 357h1v1h-1zM227 359h1v1h-1zM226 355h1v1h-1zM221 358h1v1h-1zM218 357h1v1h-1zM217 352h1v1h-1zM228 358h1v1h-1zM220 356h1v1h-1zM214 355h1v1h-1zM223 355h1v1h-1z" fill="#b0b0b0"/>
<path d="M159 318h1v1h-1zM161 318h1v1h-1zM161 319h1v1h-1zM163 319h1v1h-1zM158 325h1v1h-1zM167 325h1v1h-1zM159 326h1v1h-1zM162 328h1v1h-1zM164 328h1v1h-1zM163 330h1v1h-1zM164 332h1v1h-1zM165 332h1v1h-1zM163 333h1v1h-1zM168 333h1v1h-1zM164 334h1v1h-1zM165 334h1v1h-1zM164 335h1v1h-1zM165 335h1v1h-1zM165 338h1v1h-1zM166 338h1v1h-1zM168 339h1v1h-1zM173 339h1v1h-1zM166 340h1v1h-1zM170 340h1v1h-1zM166 341h1v1h-1zM167 344h1v1h-1zM170 344h1v1h-1zM168 345h1v1h-1zM170 345h1v1h-1zM176 346h1v1h-1zM173 348h1v1h-1zM173 350h1v1h-1zM174 351h1v1h-1zM170 355h1v1h-1zM172 357h1v1h-1zM171 358h1v1h-1zM166 360h1v1h-1zM167 360h1v1h-1zM170 360h1v1h-1zM166 362h1v1h-1zM169 362h1v1h-1zM163 363h1v1h-1zM169 363h1v1h-1zM162 364h1v1h-1zM163 366h1v1h-1zM143 317h1v1h-1zM148 317h1v1h-1zM138 318h1v1h-1zM144 319h1v1h-1zM148 319h1v1h-1zM138 320h1v1h-1zM139 320h1v1h-1zM141 320h1v1h-1zM145 320h1v1h-1zM140 321h1v1h-1zM139 322h1v1h-1zM142 322h1v1h-1zM138 323h1v1h-1zM142 323h1v1h-1zM143 323h1v1h-1zM144 323h1v1h-1zM142 324h1v1h-1zM144 324h1v1h-1zM145 324h1v1h-1zM141 325h1v1h-1zM142 326h1v1h-1zM138 327h1v1h-1zM142 327h1v1h-1zM143 327h1v1h-1zM140 328h1v1h-1zM215 344h1v1h-1zM204 352h1v1h-1zM203 356h1v1h-1zM200 357h1v1h-1zM183 358h1v1h-1zM229 358h1v1h-1zM182 360h1v1h-1zM216 325h1v1h-1zM214 328h1v1h-1zM214 329h1v1h-1zM217 338h1v1h-1zM180 323h1v1h-1zM181 327h1v1h-1zM184 336h1v1h-1zM191 358h1v1h-1zM189 357h1v1h-1zM193 358h1v1h-1zM193 361h1v1h-1zM183 354h1v1h-1zM179 353h1v1h-1zM186 358h1v1h-1zM180 354h1v1h-1zM181 358h1v1h-1zM187 356h1v1h-1zM177 358h1v1h-1zM184 358h1v1h-1zM186 356h1v1h-1zM196 357h1v1h-1zM191 357h1v1h-1zM182 358h1v1h-1zM184 357h1v1h-1zM193 359h1v1h-1zM188 353h1v1h-1zM190 354h1v1h-1zM181 357h1v1h-1zM175 360h1v1h-1zM185 356h1v1h-1zM181 356h1v1h-1zM185 352h1v1h-1zM195 355h1v1h-1zM177 359h1v1h-1zM190 357h1v1h-1zM185 355h1v1h-1zM181 355h1v1h-1zM191 356h1v1h-1zM183 359h1v1h-1zM183 360h1v1h-1zM192 356h1v1h-1zM186 357h1v1h-1zM185 357h1v1h-1zM196 359h1v1h-1zM190 356h1v1h-1zM192 358h1v1h-1zM192 357h1v1h-1zM179 354h1v1h-1zM194 357h1v1h-1zM217 359h1v1h-1zM218 355h1v1h-1zM219 362h1v1h-1zM219 352h1v1h-1zM217 358h1v1h-1zM225 358h1v1h-1zM213 354h1v1h-1zM222 354h1v1h-1zM212 355h1v1h-1zM223 355h1v1h-1zM218 359h1v1h-1zM216 358h1v1h-1zM229 357h1v1h-1zM217 354h1v1h-1zM218 358h1v1h-1zM222 353h1v1h-1zM224 356h1v1h-1zM224 355h1v1h-1zM221 357h1v1h-1zM216 355h1v1h-1zM221 358h1v1h-1zM219 358h1v1h-1zM219 359h1v1h-1zM224 357h1v1h-1zM225 355h1v1h-1zM213 357h1v1h-1zM222 357h1v1h-1zM217 356h1v1h-1zM218 360h1v1h-1zM215 357h1v1h-1zM223 357h1v1h-1zM224 360h1v1h-1zM218 357h1v1h-1zM216 354h1v1h-1zM216 361h1v1h-1zM212 357h1v1h-1zM219 354h1v1h-1zM199 356h1v1h-1zM210 360h1v1h-1zM205 357h1v1h-1z" fill="#7c7c7c"/>
<path d="M159 317h1v1h-1zM160 317h1v1h-1zM160 318h1v1h-1zM162 318h1v1h-1zM160 320h1v1h-1zM161 320h1v1h-1zM160 321h1v1h-1zM160 322h1v1h-1zM162 322h1v1h-1zM161 323h1v1h-1zM164 323h1v1h-1zM165 323h1v1h-1zM162 324h1v1h-1zM163 324h1v1h-1zM161 325h1v1h-1zM162 325h1v1h-1zM163 325h1v1h-1zM164 325h1v1h-1zM161 326h1v1h-1zM162 326h1v1h-1zM163 326h1v1h-1zM168 326h1v1h-1zM161 327h1v1h-1zM162 327h1v1h-1zM164 327h1v1h-1zM166 327h1v1h-1zM167 327h1v1h-1zM163 328h1v1h-1zM167 328h1v1h-1zM162 329h1v1h-1zM163 329h1v1h-1zM164 329h1v1h-1zM165 329h1v1h-1zM162 330h1v1h-1zM164 330h1v1h-1zM165 330h1v1h-1zM162 331h1v1h-1zM163 331h1v1h-1zM164 331h1v1h-1zM167 331h1v1h-1zM168 331h1v1h-1zM166 332h1v1h-1zM164 333h1v1h-1zM167 333h1v1h-1zM163 334h1v1h-1zM168 334h1v1h-1zM169 334h1v1h-1zM167 335h1v1h-1zM168 335h1v1h-1zM171 335h1v1h-1zM165 336h1v1h-1zM166 336h1v1h-1zM169 336h1v1h-1zM164 337h1v1h-1zM165 337h1v1h-1zM166 337h1v1h-1zM167 337h1v1h-1zM168 337h1v1h-1zM164 338h1v1h-1zM171 338h1v1h-1zM165 339h1v1h-1zM166 339h1v1h-1zM165 340h1v1h-1zM167 340h1v1h-1zM168 340h1v1h-1zM169 340h1v1h-1zM171 340h1v1h-1zM173 340h1v1h-1zM167 341h1v1h-1zM170 341h1v1h-1zM167 342h1v1h-1zM168 342h1v1h-1zM169 342h1v1h-1zM171 342h1v1h-1zM173 342h1v1h-1zM175 342h1v1h-1zM168 343h1v1h-1zM169 343h1v1h-1zM172 343h1v1h-1zM173 343h1v1h-1zM169 344h1v1h-1zM171 344h1v1h-1zM173 344h1v1h-1zM174 344h1v1h-1zM172 345h1v1h-1zM176 345h1v1h-1zM172 346h1v1h-1zM173 346h1v1h-1zM171 347h1v1h-1zM174 347h1v1h-1zM175 347h1v1h-1zM175 348h1v1h-1zM176 348h1v1h-1zM178 348h1v1h-1zM172 349h1v1h-1zM174 349h1v1h-1zM176 349h1v1h-1zM172 351h1v1h-1zM173 351h1v1h-1zM175 351h1v1h-1zM172 352h1v1h-1zM173 352h1v1h-1zM172 353h1v1h-1zM173 353h1v1h-1zM172 354h1v1h-1zM175 354h1v1h-1zM172 355h1v1h-1zM173 355h1v1h-1zM175 355h1v1h-1zM170 356h1v1h-1zM171 356h1v1h-1zM173 356h1v1h-1zM170 357h1v1h-1zM171 357h1v1h-1zM173 357h1v1h-1zM169 358h1v1h-1zM169 359h1v1h-1zM171 359h1v1h-1zM168 360h1v1h-1zM169 360h1v1h-1zM171 360h1v1h-1zM174 360h1v1h-1zM167 361h1v1h-1zM168 361h1v1h-1zM169 361h1v1h-1zM170 361h1v1h-1zM171 361h1v1h-1zM172 361h1v1h-1zM171 362h1v1h-1zM165 363h1v1h-1zM166 363h1v1h-1zM167 363h1v1h-1zM165 364h1v1h-1zM166 364h1v1h-1zM164 365h1v1h-1zM165 365h1v1h-1zM166 365h1v1h-1zM167 365h1v1h-1zM168 365h1v1h-1zM170 365h1v1h-1zM164 366h1v1h-1zM167 366h1v1h-1zM190 358h1v1h-1zM187 357h1v1h-1zM179 355h1v1h-1zM180 357h1v1h-1zM183 356h1v1h-1zM184 357h1v1h-1zM178 353h1v1h-1zM191 357h1v1h-1zM178 359h1v1h-1zM184 362h1v1h-1zM177 355h1v1h-1zM185 360h1v1h-1zM186 357h1v1h-1zM182 352h1v1h-1zM185 355h1v1h-1zM185 357h1v1h-1zM181 359h1v1h-1zM181 360h1v1h-1zM192 355h1v1h-1zM195 357h1v1h-1zM181 357h1v1h-1zM189 353h1v1h-1zM187 356h1v1h-1zM189 360h1v1h-1zM188 356h1v1h-1zM183 359h1v1h-1zM194 357h1v1h-1zM181 361h1v1h-1zM182 354h1v1h-1zM171 353h1v1h-1zM199 358h1v1h-1zM189 355h1v1h-1zM191 358h1v1h-1zM191 355h1v1h-1zM179 356h1v1h-1zM186 360h1v1h-1zM193 356h1v1h-1zM188 354h1v1h-1zM190 356h1v1h-1zM185 356h1v1h-1zM191 354h1v1h-1zM195 355h1v1h-1zM178 357h1v1h-1zM183 360h1v1h-1zM197 355h1v1h-1zM179 358h1v1h-1zM180 355h1v1h-1zM188 357h1v1h-1zM186 355h1v1h-1zM174 353h1v1h-1zM185 358h1v1h-1zM190 357h1v1h-1zM190 355h1v1h-1zM197 354h1v1h-1zM189 358h1v1h-1zM187 358h1v1h-1zM185 359h1v1h-1zM181 353h1v1h-1zM176 356h1v1h-1zM193 357h1v1h-1zM188 355h1v1h-1zM176 354h1v1h-1zM184 358h1v1h-1zM189 356h1v1h-1zM183 358h1v1h-1zM220 359h1v1h-1zM223 360h1v1h-1zM226 357h1v1h-1zM224 361h1v1h-1zM225 356h1v1h-1zM229 357h1v1h-1zM216 355h1v1h-1zM221 354h1v1h-1zM227 355h1v1h-1zM222 358h1v1h-1zM218 356h1v1h-1zM221 353h1v1h-1zM228 356h1v1h-1zM222 357h1v1h-1zM215 359h1v1h-1zM215 356h1v1h-1zM228 359h1v1h-1zM224 357h1v1h-1zM222 352h1v1h-1zM222 359h1v1h-1zM218 358h1v1h-1zM224 356h1v1h-1zM214 358h1v1h-1zM211 353h1v1h-1zM229 353h1v1h-1zM224 354h1v1h-1zM225 357h1v1h-1zM227 358h1v1h-1zM221 355h1v1h-1zM223 357h1v1h-1zM220 358h1v1h-1zM217 359h1v1h-1zM225 353h1v1h-1zM217 354h1v1h-1zM210 356h1v1h-1zM216 357h1v1h-1zM223 355h1v1h-1zM210 355h1v1h-1zM220 361h1v1h-1zM217 356h1v1h-1zM214 357h1v1h-1zM204 362h1v1h-1zM204 364h1v1h-1zM199 352h1v1h-1zM198 357h1v1h-1zM200 352h1v1h-1zM203 357h1v1h-1zM206 355h1v1h-1zM201 358h1v1h-1zM211 358h1v1h-1z" fill="#5a5a5a"/>
<path d="M138 317h1v1h-1zM142 317h1v1h-1zM147 317h1v1h-1zM149 317h1v1h-1zM142 318h1v1h-1zM145 318h1v1h-1zM146 318h1v1h-1zM139 319h1v1h-1zM140 319h1v1h-1zM142 319h1v1h-1zM147 319h1v1h-1zM149 319h1v1h-1zM144 320h1v1h-1zM138 321h1v1h-1zM141 321h1v1h-1zM147 321h1v1h-1zM138 322h1v1h-1zM140 322h1v1h-1zM141 322h1v1h-1zM144 322h1v1h-1zM146 322h1v1h-1zM147 322h1v1h-1zM140 324h1v1h-1zM146 324h1v1h-1zM139 325h1v1h-1zM142 325h1v1h-1zM144 325h1v1h-1zM138 326h1v1h-1zM141 326h1v1h-1zM143 326h1v1h-1zM140 327h1v1h-1zM138 328h1v1h-1zM138 329h1v1h-1z" fill="#d8d8d8"/>
</g>
<rect x="137.8" y="317.3" width="92.3" height="50" fill="none" stroke="#555" stroke-width="1"/>
<path d="M139.3 367.8h1v1h-1zM143.3 367.8h1v1h-1zM146.3 367.8h1v1h-1zM149.3 367.8h1v1h-1zM152.3 367.8h1v2h-1zM154.3 367.8h1v1h-1zM157.3 367.8h1v2h-1zM160.3 367.8h1v1h-1zM163.3 367.8h1v1h-1zM165.3 367.8h1v1h-1zM169.3 367.8h1v2h-1zM172.3 367.8h1v2h-1zM176.3 367.8h1v2h-1zM178.3 367.8h1v1h-1zM182.3 367.8h1v2h-1zM184.3 367.8h1v2h-1zM187.3 367.8h1v2h-1zM190.3 367.8h1v2h-1zM192.3 367.8h1v2h-1zM195.3 367.8h1v1h-1zM198.3 367.8h1v2h-1zM200.3 367.8h1v2h-1zM202.3 367.8h1v1h-1zM204.3 367.8h1v2h-1zM207.3 367.8h1v1h-1zM209.3 367.8h1v1h-1zM213.3 367.8h1v1h-1zM216.3 367.8h1v1h-1zM218.3 367.8h1v1h-1zM220.3 367.8h1v1h-1zM223.3 367.8h1v1h-1zM226.3 367.8h1v2h-1z" fill="#666"/>
<rect x="176" y="319.7" width="35.5" height="22.5" fill="none" stroke="#333" stroke-width="1.1"/>
<text x="177" y="332.2" font-size="12.2" font-weight="bold" font-family="Liberation Serif" stroke="#000" stroke-width="0.3" textLength="32.3" lengthAdjust="spacingAndGlyphs">80.5%</text>
<rect x="233.8" y="316.8" width="91.8" height="51" fill="#fff"/>
<polygon points="233.8,316.8 244,316.8 246.1,318.3 246.8,319.8 247.4,321.3 248.1,322.8 248.8,324.3 249.4,325.8 249.9,327.3 250.3,328.8 250.7,330.3 251.2,331.8 251.6,333.3 251.9,334.8 252.2,336.3 252.5,337.8 252.8,339.3 253.7,340.8 255,342.3 256.3,343.8 257.5,345.3 258.8,346.8 259.6,348.3 260.4,349.8 261.1,351.3 261.9,352.8 262.4,354.3 262.1,355.8 261.8,357.3 261.5,358.8 261.1,360.3 260.6,361.8 260,363.3 259.3,364.8 258.7,366.3 258,367.8 233.8,367.8" fill="#5a5a5a"/>
<line x1="256" y1="349" x2="270" y2="342" stroke="#666" stroke-width="2.8" stroke-linecap="round" filter="url(#bl)"/>
<g filter="url(#bl)">
<path d="M250 321h1v1h-1zM252 326h1v1h-1zM253 331h1v1h-1zM258 333h1v1h-1zM252 334h1v1h-1zM257 334h1v1h-1zM260 334h1v1h-1zM254 336h1v1h-1zM253 339h1v1h-1zM259 340h1v1h-1zM255 341h1v1h-1zM256 341h1v1h-1zM256 342h1v1h-1zM266 342h1v1h-1zM267 344h1v1h-1zM264 346h1v1h-1zM261 348h1v1h-1zM263 351h1v1h-1zM263 353h1v1h-1zM262 354h1v1h-1zM262 355h1v1h-1zM236 317h1v1h-1zM238 317h1v1h-1zM241 317h1v1h-1zM243 317h1v1h-1zM235 318h1v1h-1zM238 318h1v1h-1zM241 318h1v1h-1zM243 318h1v1h-1zM238 319h1v1h-1zM268 343h1v1h-1zM270 343h1v1h-1zM277 343h1v1h-1zM319 343h1v1h-1zM270 344h1v1h-1zM284 344h1v1h-1zM309 344h1v1h-1zM269 345h1v1h-1zM315 345h1v1h-1zM318 345h1v1h-1zM273 346h1v1h-1zM285 346h1v1h-1zM298 347h1v1h-1zM289 348h1v1h-1zM304 348h1v1h-1zM273 349h1v1h-1zM301 349h1v1h-1zM307 349h1v1h-1zM277 351h1v1h-1zM317 351h1v1h-1zM262 352h1v1h-1zM270 352h1v1h-1zM275 352h1v1h-1zM280 352h1v1h-1zM285 352h1v1h-1zM306 352h1v1h-1zM304 353h1v1h-1zM313 353h1v1h-1zM278 354h1v1h-1zM263 355h1v1h-1zM287 355h1v1h-1zM307 355h1v1h-1zM313 355h1v1h-1zM288 356h1v1h-1zM308 356h1v1h-1zM283 357h1v1h-1zM286 357h1v1h-1zM304 357h1v1h-1zM310 357h1v1h-1zM315 357h1v1h-1zM317 357h1v1h-1zM300 358h1v1h-1zM301 358h1v1h-1zM281 359h1v1h-1zM290 359h1v1h-1zM275 360h1v1h-1zM317 360h1v1h-1zM321 360h1v1h-1zM262 361h1v1h-1zM264 361h1v1h-1zM269 362h1v1h-1zM301 362h1v1h-1zM314 362h1v1h-1zM322 362h1v1h-1zM288 363h1v1h-1zM299 363h1v1h-1zM302 363h1v1h-1zM306 363h1v1h-1zM267 364h1v1h-1zM270 364h1v1h-1zM295 364h1v1h-1zM305 364h1v1h-1zM278 365h1v1h-1zM295 365h1v1h-1zM304 365h1v1h-1zM317 365h1v1h-1zM322 365h1v1h-1zM312 321h1v1h-1zM323 324h1v1h-1zM306 328h1v1h-1zM307 328h1v1h-1zM318 328h1v1h-1zM323 331h1v1h-1zM321 333h1v1h-1zM310 334h1v1h-1zM315 338h1v1h-1zM320 338h1v1h-1zM308 340h1v1h-1zM316 340h1v1h-1zM300 320h1v1h-1zM281 322h1v1h-1zM273 330h1v1h-1zM296 333h1v1h-1zM280 334h1v1h-1zM301 338h1v1h-1zM303 339h1v1h-1zM286 340h1v1h-1z" fill="#b0b0b0"/>
<path d="M244 318h1v1h-1zM246 318h1v1h-1zM247 323h1v1h-1zM250 323h1v1h-1zM251 323h1v1h-1zM247 324h1v1h-1zM250 324h1v1h-1zM248 325h1v1h-1zM249 325h1v1h-1zM253 326h1v1h-1zM254 330h1v1h-1zM257 330h1v1h-1zM251 332h1v1h-1zM255 332h1v1h-1zM252 333h1v1h-1zM256 333h1v1h-1zM254 334h1v1h-1zM256 335h1v1h-1zM251 337h1v1h-1zM263 338h1v1h-1zM254 339h1v1h-1zM257 340h1v1h-1zM253 342h1v1h-1zM261 342h1v1h-1zM263 342h1v1h-1zM256 344h1v1h-1zM258 345h1v1h-1zM257 346h1v1h-1zM262 346h1v1h-1zM264 347h1v1h-1zM261 353h1v1h-1zM262 353h1v1h-1zM260 354h1v1h-1zM261 355h1v1h-1zM259 356h1v1h-1zM258 364h1v1h-1zM260 364h1v1h-1zM258 366h1v1h-1zM235 317h1v1h-1zM240 317h1v1h-1zM241 319h1v1h-1zM235 320h1v1h-1zM274 348h1v1h-1zM299 349h1v1h-1zM302 350h1v1h-1zM293 351h1v1h-1zM315 353h1v1h-1zM278 355h1v1h-1zM303 357h1v1h-1zM282 358h1v1h-1zM276 359h1v1h-1zM316 359h1v1h-1zM269 361h1v1h-1zM312 361h1v1h-1zM282 364h1v1h-1zM317 364h1v1h-1zM265 365h1v1h-1zM312 365h1v1h-1zM324 365h1v1h-1zM319 328h1v1h-1zM318 330h1v1h-1zM323 335h1v1h-1zM298 327h1v1h-1zM302 339h1v1h-1zM268 343h1v1h-1zM266 344h1v1h-1zM256 349h1v1h-1zM260 345h1v1h-1zM259 348h1v1h-1zM267 344h1v1h-1z" fill="#7c7c7c"/>
<path d="M245 317h1v1h-1zM247 317h1v1h-1zM248 318h1v1h-1zM250 319h1v1h-1zM247 320h1v1h-1zM248 320h1v1h-1zM249 320h1v1h-1zM248 321h1v1h-1zM248 322h1v1h-1zM249 322h1v1h-1zM248 323h1v1h-1zM249 323h1v1h-1zM253 323h1v1h-1zM254 323h1v1h-1zM249 324h1v1h-1zM252 324h1v1h-1zM250 325h1v1h-1zM251 325h1v1h-1zM252 325h1v1h-1zM256 325h1v1h-1zM250 326h1v1h-1zM251 326h1v1h-1zM254 326h1v1h-1zM250 327h1v1h-1zM256 327h1v1h-1zM250 328h1v1h-1zM251 328h1v1h-1zM252 328h1v1h-1zM254 328h1v1h-1zM256 328h1v1h-1zM250 329h1v1h-1zM251 329h1v1h-1zM252 329h1v1h-1zM253 329h1v1h-1zM254 329h1v1h-1zM255 329h1v1h-1zM258 329h1v1h-1zM251 330h1v1h-1zM252 330h1v1h-1zM259 330h1v1h-1zM251 331h1v1h-1zM255 331h1v1h-1zM258 331h1v1h-1zM252 332h1v1h-1zM253 332h1v1h-1zM254 332h1v1h-1zM256 332h1v1h-1zM257 332h1v1h-1zM259 332h1v1h-1zM253 333h1v1h-1zM254 333h1v1h-1zM253 334h1v1h-1zM255 334h1v1h-1zM256 334h1v1h-1zM252 335h1v1h-1zM253 335h1v1h-1zM254 335h1v1h-1zM255 335h1v1h-1zM258 335h1v1h-1zM261 335h1v1h-1zM252 336h1v1h-1zM253 336h1v1h-1zM256 336h1v1h-1zM257 336h1v1h-1zM252 337h1v1h-1zM253 337h1v1h-1zM254 337h1v1h-1zM256 337h1v1h-1zM257 337h1v1h-1zM258 337h1v1h-1zM260 337h1v1h-1zM253 338h1v1h-1zM254 338h1v1h-1zM257 338h1v1h-1zM258 338h1v1h-1zM260 338h1v1h-1zM255 339h1v1h-1zM258 339h1v1h-1zM259 339h1v1h-1zM260 339h1v1h-1zM253 340h1v1h-1zM254 340h1v1h-1zM256 340h1v1h-1zM258 340h1v1h-1zM261 340h1v1h-1zM254 341h1v1h-1zM257 341h1v1h-1zM262 341h1v1h-1zM255 342h1v1h-1zM257 342h1v1h-1zM259 342h1v1h-1zM262 342h1v1h-1zM256 343h1v1h-1zM258 343h1v1h-1zM260 343h1v1h-1zM263 343h1v1h-1zM264 343h1v1h-1zM257 344h1v1h-1zM258 344h1v1h-1zM259 344h1v1h-1zM260 344h1v1h-1zM259 345h1v1h-1zM260 345h1v1h-1zM264 345h1v1h-1zM266 345h1v1h-1zM259 346h1v1h-1zM260 346h1v1h-1zM266 346h1v1h-1zM259 347h1v1h-1zM262 347h1v1h-1zM260 348h1v1h-1zM262 348h1v1h-1zM263 348h1v1h-1zM260 349h1v1h-1zM261 349h1v1h-1zM264 349h1v1h-1zM261 350h1v1h-1zM263 350h1v1h-1zM261 351h1v1h-1zM262 351h1v1h-1zM262 352h1v1h-1zM263 355h1v1h-1zM264 355h1v1h-1zM261 359h1v1h-1zM261 361h1v1h-1zM260 362h1v1h-1zM259 364h1v1h-1zM259 365h1v1h-1zM261 347h1v1h-1zM266 343h1v1h-1zM256 349h1v1h-1zM261 346h1v1h-1zM262 345h1v1h-1zM258 348h1v1h-1zM257 349h1v1h-1zM261 345h1v1h-1zM267 345h1v1h-1zM262 346h1v1h-1zM266 344h1v1h-1zM256 352h1v1h-1zM268 341h1v1h-1zM264 344h1v1h-1zM263 346h1v1h-1zM257 348h1v1h-1zM268 344h1v1h-1zM264 346h1v1h-1zM269 342h1v1h-1zM263 345h1v1h-1zM265 345h1v1h-1zM267 346h1v1h-1zM268 343h1v1h-1zM256 347h1v1h-1zM268 345h1v1h-1zM258 347h1v1h-1zM269 343h1v1h-1z" fill="#5a5a5a"/>
<path d="M237 317h1v1h-1zM236 318h1v1h-1zM242 318h1v1h-1zM235 319h1v1h-1zM234 320h1v1h-1z" fill="#d8d8d8"/>
</g>
<rect x="234.3" y="317.3" width="90.8" height="50" fill="none" stroke="#555" stroke-width="1"/>
<path d="M235.8 367.8h1v2h-1zM238.8 367.8h1v2h-1zM241.8 367.8h1v2h-1zM244.8 367.8h1v1h-1zM247.8 367.8h1v1h-1zM251.8 367.8h1v1h-1zM255.8 367.8h1v2h-1zM258.8 367.8h1v1h-1zM261.8 367.8h1v2h-1zM264.8 367.8h1v2h-1zM267.8 367.8h1v1h-1zM270.8 367.8h1v2h-1zM273.8 367.8h1v2h-1zM276.8 367.8h1v1h-1zM279.8 367.8h1v2h-1zM283.8 367.8h1v1h-1zM287.8 367.8h1v2h-1zM290.8 367.8h1v1h-1zM294.8 367.8h1v2h-1zM297.8 367.8h1v1h-1zM301.8 367.8h1v2h-1zM304.8 367.8h1v1h-1zM307.8 367.8h1v2h-1zM309.8 367.8h1v1h-1zM312.8 367.8h1v1h-1zM314.8 367.8h1v2h-1zM317.8 367.8h1v1h-1zM320.8 367.8h1v2h-1zM322.8 367.8h1v2h-1z" fill="#666"/>
<rect x="269.4" y="319.7" width="34.6" height="22.5" fill="none" stroke="#333" stroke-width="1.1"/>
<text x="270.5" y="332.2" font-size="12.2" font-weight="bold" font-family="Liberation Serif" stroke="#000" stroke-width="0.3" textLength="26.1" lengthAdjust="spacingAndGlyphs">5.2%</text>
<rect x="330.9" y="316.8" width="93.5" height="51" fill="#fff"/>
<polygon points="330.9,316.8 340,316.8 340.8,318.3 341.7,319.8 342.5,321.3 343.3,322.8 344.1,324.3 344.5,325.8 344.9,327.3 345.3,328.8 345.8,330.3 346.2,331.8 346.6,333.3 347,334.8 347.4,336.3 347.9,337.8 348.3,339.3 348.7,340.8 349.2,342.3 349.6,343.8 350,345.3 350.4,346.8 350.9,348.3 351.3,349.8 351.7,351.3 352.2,352.8 352.6,354.3 352.9,355.8 353.2,357.3 353.5,358.8 353.9,360.3 354,361.8 354,363.3 354,364.8 354,366.3 354,367.8 330.9,367.8" fill="#5a5a5a"/>
<polygon points="345,324 356,328 366,333 368,337 360,340 350,342 347,340" fill="#8c8c8c" filter="url(#bl)"/>
<line x1="352" y1="350" x2="370" y2="342" stroke="#666" stroke-width="2.8" stroke-linecap="round" filter="url(#bl)"/>
<g filter="url(#bl)">
<path d="M346 327h1v1h-1zM350 328h1v1h-1zM355 328h1v1h-1zM348 329h1v1h-1zM350 329h1v1h-1zM358 329h1v1h-1zM347 330h1v1h-1zM357 330h1v1h-1zM350 331h1v1h-1zM353 331h1v1h-1zM360 331h1v1h-1zM361 331h1v1h-1zM356 332h1v1h-1zM357 332h1v1h-1zM364 332h1v1h-1zM353 333h1v1h-1zM363 333h1v1h-1zM365 333h1v1h-1zM351 334h1v1h-1zM346 335h1v1h-1zM349 335h1v1h-1zM353 335h1v1h-1zM355 335h1v1h-1zM359 335h1v1h-1zM360 335h1v1h-1zM353 336h1v1h-1zM355 336h1v1h-1zM356 336h1v1h-1zM362 336h1v1h-1zM363 336h1v1h-1zM349 337h1v1h-1zM355 337h1v1h-1zM357 337h1v1h-1zM361 337h1v1h-1zM365 337h1v1h-1zM347 338h1v1h-1zM355 338h1v1h-1zM348 339h1v1h-1zM352 340h1v1h-1zM355 340h1v1h-1zM349 341h1v1h-1zM344 322h1v1h-1zM355 325h1v1h-1zM350 327h1v1h-1zM349 333h1v1h-1zM354 333h1v1h-1zM348 334h1v1h-1zM349 334h1v1h-1zM350 334h1v1h-1zM348 336h1v1h-1zM351 338h1v1h-1zM349 342h1v1h-1zM353 342h1v1h-1zM354 342h1v1h-1zM360 343h1v1h-1zM356 345h1v1h-1zM350 346h1v1h-1zM352 346h1v1h-1zM360 346h1v1h-1zM357 348h1v1h-1zM358 355h1v1h-1zM359 356h1v1h-1zM353 357h1v1h-1zM354 357h1v1h-1zM361 358h1v1h-1zM354 363h1v1h-1zM335 317h1v1h-1zM336 317h1v1h-1zM337 317h1v1h-1zM342 317h1v1h-1zM331 318h1v1h-1zM333 318h1v1h-1zM334 318h1v1h-1zM335 318h1v1h-1zM337 318h1v1h-1zM332 319h1v1h-1zM334 319h1v1h-1zM336 319h1v1h-1zM343 319h1v1h-1zM331 320h1v1h-1zM333 320h1v1h-1zM339 320h1v1h-1zM341 320h1v1h-1zM331 321h1v1h-1zM336 322h1v1h-1zM337 322h1v1h-1zM341 322h1v1h-1zM332 323h1v1h-1zM333 323h1v1h-1zM337 323h1v1h-1zM332 326h1v1h-1zM374 344h1v1h-1zM418 344h1v1h-1zM372 345h1v1h-1zM417 345h1v1h-1zM389 346h1v1h-1zM405 347h1v1h-1zM385 348h1v1h-1zM420 348h1v1h-1zM422 348h1v1h-1zM407 350h1v1h-1zM410 350h1v1h-1zM377 351h1v1h-1zM395 351h1v1h-1zM396 351h1v1h-1zM416 351h1v1h-1zM369 352h1v1h-1zM410 352h1v1h-1zM411 352h1v1h-1zM416 352h1v1h-1zM421 352h1v1h-1zM390 353h1v1h-1zM364 354h1v1h-1zM377 354h1v1h-1zM396 354h1v1h-1zM393 355h1v1h-1zM398 355h1v1h-1zM394 356h1v1h-1zM364 357h1v1h-1zM386 357h1v1h-1zM412 357h1v1h-1zM378 358h1v1h-1zM403 358h1v1h-1zM405 358h1v1h-1zM417 358h1v1h-1zM379 359h1v1h-1zM399 359h1v1h-1zM410 360h1v1h-1zM360 361h1v1h-1zM379 362h1v1h-1zM414 362h1v1h-1zM362 363h1v1h-1zM389 363h1v1h-1zM408 363h1v1h-1zM379 364h1v1h-1zM398 364h1v1h-1zM411 365h1v1h-1zM370 366h1v1h-1zM405 366h1v1h-1zM414 366h1v1h-1zM403 325h1v1h-1zM422 325h1v1h-1zM423 327h1v1h-1zM405 331h1v1h-1zM419 331h1v1h-1zM403 337h1v1h-1zM412 337h1v1h-1zM421 337h1v1h-1zM411 340h1v1h-1zM402 324h1v1h-1zM373 332h1v1h-1zM396 337h1v1h-1zM370 340h1v1h-1zM381 355h1v1h-1zM384 355h1v1h-1zM380 361h1v1h-1zM383 357h1v1h-1zM395 355h1v1h-1zM380 349h1v1h-1zM380 362h1v1h-1zM378 360h1v1h-1zM383 360h1v1h-1zM380 356h1v1h-1zM387 359h1v1h-1zM398 357h1v1h-1zM394 364h1v1h-1z" fill="#b0b0b0"/>
<path d="M341 318h1v1h-1zM340 319h1v1h-1zM340 320h1v1h-1zM341 320h1v1h-1zM342 320h1v1h-1zM344 320h1v1h-1zM342 321h1v1h-1zM344 321h1v1h-1zM343 322h1v1h-1zM347 323h1v1h-1zM348 323h1v1h-1zM351 323h1v1h-1zM352 323h1v1h-1zM345 325h1v1h-1zM342 326h1v1h-1zM350 326h1v1h-1zM343 327h1v1h-1zM346 327h1v1h-1zM343 328h1v1h-1zM344 328h1v1h-1zM346 328h1v1h-1zM348 328h1v1h-1zM344 329h1v1h-1zM347 330h1v1h-1zM346 331h1v1h-1zM351 331h1v1h-1zM351 332h1v1h-1zM356 333h1v1h-1zM359 333h1v1h-1zM348 335h1v1h-1zM349 335h1v1h-1zM352 335h1v1h-1zM361 335h1v1h-1zM350 336h1v1h-1zM347 338h1v1h-1zM353 338h1v1h-1zM359 338h1v1h-1zM352 339h1v1h-1zM348 340h1v1h-1zM350 340h1v1h-1zM354 340h1v1h-1zM352 341h1v1h-1zM356 341h1v1h-1zM351 342h1v1h-1zM351 343h1v1h-1zM354 343h1v1h-1zM356 343h1v1h-1zM361 343h1v1h-1zM351 344h1v1h-1zM358 344h1v1h-1zM352 345h1v1h-1zM362 345h1v1h-1zM353 346h1v1h-1zM357 346h1v1h-1zM359 346h1v1h-1zM348 347h1v1h-1zM353 347h1v1h-1zM354 347h1v1h-1zM358 347h1v1h-1zM358 348h1v1h-1zM362 351h1v1h-1zM357 352h1v1h-1zM361 352h1v1h-1zM350 355h1v1h-1zM351 355h1v1h-1zM355 356h1v1h-1zM358 357h1v1h-1zM354 359h1v1h-1zM355 360h1v1h-1zM354 361h1v1h-1zM358 362h1v1h-1zM356 363h1v1h-1zM352 365h1v1h-1zM356 365h1v1h-1zM353 366h1v1h-1zM332 317h1v1h-1zM339 317h1v1h-1zM343 317h1v1h-1zM342 318h1v1h-1zM344 318h1v1h-1zM331 319h1v1h-1zM332 320h1v1h-1zM331 322h1v1h-1zM333 322h1v1h-1zM334 323h1v1h-1zM338 323h1v1h-1zM335 324h1v1h-1zM337 324h1v1h-1zM339 324h1v1h-1zM332 325h1v1h-1zM335 325h1v1h-1zM388 345h1v1h-1zM402 345h1v1h-1zM409 345h1v1h-1zM367 347h1v1h-1zM419 347h1v1h-1zM406 349h1v1h-1zM394 351h1v1h-1zM378 352h1v1h-1zM402 352h1v1h-1zM366 353h1v1h-1zM405 353h1v1h-1zM412 353h1v1h-1zM378 356h1v1h-1zM375 360h1v1h-1zM395 361h1v1h-1zM397 362h1v1h-1zM406 320h1v1h-1zM412 330h1v1h-1zM372 334h1v1h-1zM390 336h1v1h-1zM379 356h1v1h-1zM380 354h1v1h-1zM380 365h1v1h-1zM377 354h1v1h-1zM383 359h1v1h-1zM386 358h1v1h-1zM381 353h1v1h-1zM389 356h1v1h-1zM378 358h1v1h-1zM380 359h1v1h-1zM388 351h1v1h-1zM379 359h1v1h-1zM383 364h1v1h-1zM390 352h1v1h-1zM387 360h1v1h-1zM382 361h1v1h-1zM383 356h1v1h-1zM377 359h1v1h-1zM384 357h1v1h-1zM381 359h1v1h-1zM375 353h1v1h-1zM376 361h1v1h-1zM387 352h1v1h-1zM380 355h1v1h-1zM381 358h1v1h-1zM374 357h1v1h-1zM383 354h1v1h-1zM371 354h1v1h-1zM374 354h1v1h-1zM381 355h1v1h-1zM383 357h1v1h-1zM384 354h1v1h-1zM373 362h1v1h-1zM385 359h1v1h-1zM388 362h1v1h-1zM392 356h1v1h-1zM397 364h1v1h-1zM406 358h1v1h-1zM406 360h1v1h-1zM398 362h1v1h-1zM390 362h1v1h-1zM387 364h1v1h-1zM365 343h1v1h-1zM352 353h1v1h-1zM364 347h1v1h-1zM368 342h1v1h-1zM355 349h1v1h-1zM369 343h1v1h-1zM357 347h1v1h-1z" fill="#7c7c7c"/>
<path d="M340 317h1v1h-1zM342 317h1v1h-1zM343 317h1v1h-1zM344 317h1v1h-1zM348 317h1v1h-1zM342 318h1v1h-1zM343 318h1v1h-1zM345 318h1v1h-1zM341 319h1v1h-1zM343 319h1v1h-1zM344 319h1v1h-1zM346 319h1v1h-1zM348 319h1v1h-1zM343 320h1v1h-1zM345 320h1v1h-1zM343 321h1v1h-1zM345 321h1v1h-1zM346 321h1v1h-1zM347 321h1v1h-1zM348 321h1v1h-1zM350 321h1v1h-1zM345 322h1v1h-1zM347 322h1v1h-1zM350 322h1v1h-1zM345 323h1v1h-1zM346 323h1v1h-1zM350 323h1v1h-1zM344 324h1v1h-1zM346 324h1v1h-1zM347 324h1v1h-1zM349 324h1v1h-1zM344 325h1v1h-1zM346 325h1v1h-1zM351 325h1v1h-1zM352 325h1v1h-1zM345 326h1v1h-1zM346 326h1v1h-1zM347 326h1v1h-1zM349 326h1v1h-1zM351 326h1v1h-1zM356 326h1v1h-1zM345 327h1v1h-1zM347 327h1v1h-1zM349 327h1v1h-1zM355 327h1v1h-1zM345 328h1v1h-1zM349 328h1v1h-1zM350 328h1v1h-1zM351 328h1v1h-1zM346 329h1v1h-1zM347 329h1v1h-1zM350 329h1v1h-1zM351 329h1v1h-1zM353 329h1v1h-1zM354 329h1v1h-1zM346 330h1v1h-1zM348 330h1v1h-1zM349 330h1v1h-1zM350 330h1v1h-1zM351 330h1v1h-1zM352 330h1v1h-1zM354 330h1v1h-1zM358 330h1v1h-1zM347 331h1v1h-1zM348 331h1v1h-1zM349 331h1v1h-1zM350 331h1v1h-1zM353 331h1v1h-1zM346 332h1v1h-1zM347 332h1v1h-1zM349 332h1v1h-1zM350 332h1v1h-1zM347 333h1v1h-1zM348 333h1v1h-1zM350 333h1v1h-1zM353 333h1v1h-1zM355 333h1v1h-1zM347 334h1v1h-1zM351 334h1v1h-1zM353 334h1v1h-1zM354 334h1v1h-1zM355 334h1v1h-1zM347 335h1v1h-1zM353 335h1v1h-1zM356 335h1v1h-1zM347 336h1v1h-1zM349 336h1v1h-1zM353 336h1v1h-1zM354 336h1v1h-1zM356 336h1v1h-1zM348 337h1v1h-1zM349 337h1v1h-1zM350 337h1v1h-1zM351 337h1v1h-1zM353 337h1v1h-1zM355 337h1v1h-1zM348 338h1v1h-1zM350 338h1v1h-1zM354 338h1v1h-1zM358 338h1v1h-1zM361 338h1v1h-1zM348 339h1v1h-1zM349 339h1v1h-1zM350 339h1v1h-1zM351 339h1v1h-1zM353 339h1v1h-1zM354 339h1v1h-1zM355 339h1v1h-1zM358 339h1v1h-1zM349 340h1v1h-1zM351 340h1v1h-1zM355 340h1v1h-1zM356 340h1v1h-1zM357 340h1v1h-1zM350 341h1v1h-1zM351 341h1v1h-1zM353 341h1v1h-1zM357 341h1v1h-1zM358 341h1v1h-1zM360 341h1v1h-1zM350 342h1v1h-1zM356 342h1v1h-1zM360 342h1v1h-1zM362 342h1v1h-1zM349 343h1v1h-1zM350 343h1v1h-1zM352 343h1v1h-1zM353 343h1v1h-1zM355 343h1v1h-1zM357 343h1v1h-1zM364 343h1v1h-1zM350 344h1v1h-1zM352 344h1v1h-1zM355 344h1v1h-1zM357 344h1v1h-1zM350 345h1v1h-1zM351 345h1v1h-1zM353 345h1v1h-1zM354 345h1v1h-1zM355 345h1v1h-1zM351 346h1v1h-1zM355 346h1v1h-1zM356 346h1v1h-1zM358 346h1v1h-1zM352 347h1v1h-1zM355 347h1v1h-1zM356 347h1v1h-1zM359 347h1v1h-1zM360 347h1v1h-1zM351 348h1v1h-1zM352 348h1v1h-1zM353 348h1v1h-1zM354 348h1v1h-1zM356 348h1v1h-1zM362 348h1v1h-1zM351 349h1v1h-1zM353 349h1v1h-1zM354 349h1v1h-1zM355 349h1v1h-1zM356 349h1v1h-1zM358 349h1v1h-1zM360 349h1v1h-1zM362 349h1v1h-1zM351 350h1v1h-1zM352 350h1v1h-1zM353 350h1v1h-1zM354 350h1v1h-1zM358 350h1v1h-1zM363 350h1v1h-1zM352 351h1v1h-1zM353 351h1v1h-1zM354 351h1v1h-1zM357 351h1v1h-1zM352 352h1v1h-1zM354 352h1v1h-1zM355 352h1v1h-1zM356 352h1v1h-1zM360 352h1v1h-1zM352 353h1v1h-1zM354 353h1v1h-1zM355 353h1v1h-1zM358 353h1v1h-1zM359 353h1v1h-1zM353 354h1v1h-1zM354 354h1v1h-1zM355 354h1v1h-1zM356 354h1v1h-1zM357 354h1v1h-1zM359 354h1v1h-1zM353 355h1v1h-1zM354 355h1v1h-1zM357 355h1v1h-1zM359 355h1v1h-1zM353 356h1v1h-1zM354 356h1v1h-1zM356 356h1v1h-1zM358 356h1v1h-1zM360 356h1v1h-1zM355 357h1v1h-1zM356 357h1v1h-1zM359 357h1v1h-1zM360 357h1v1h-1zM353 358h1v1h-1zM354 358h1v1h-1zM355 358h1v1h-1zM356 358h1v1h-1zM357 358h1v1h-1zM359 358h1v1h-1zM359 359h1v1h-1zM360 359h1v1h-1zM354 360h1v1h-1zM356 360h1v1h-1zM358 360h1v1h-1zM355 361h1v1h-1zM354 362h1v1h-1zM355 362h1v1h-1zM356 362h1v1h-1zM355 363h1v1h-1zM354 364h1v1h-1zM355 364h1v1h-1zM357 364h1v1h-1zM354 365h1v1h-1zM355 365h1v1h-1zM357 365h1v1h-1zM354 366h1v1h-1zM355 366h1v1h-1zM358 366h1v1h-1zM382 356h1v1h-1zM375 355h1v1h-1zM378 356h1v1h-1zM372 353h1v1h-1zM377 357h1v1h-1zM379 362h1v1h-1zM380 356h1v1h-1zM381 357h1v1h-1zM376 355h1v1h-1zM385 363h1v1h-1zM381 358h1v1h-1zM381 362h1v1h-1zM382 353h1v1h-1zM380 353h1v1h-1zM379 356h1v1h-1zM383 364h1v1h-1zM381 355h1v1h-1zM383 359h1v1h-1zM382 362h1v1h-1zM387 359h1v1h-1zM389 356h1v1h-1zM378 360h1v1h-1zM374 354h1v1h-1zM378 362h1v1h-1zM384 351h1v1h-1zM378 357h1v1h-1zM389 357h1v1h-1zM382 352h1v1h-1zM369 358h1v1h-1zM381 354h1v1h-1zM376 359h1v1h-1zM372 356h1v1h-1zM387 357h1v1h-1zM380 362h1v1h-1zM381 351h1v1h-1zM375 363h1v1h-1zM396 363h1v1h-1zM396 364h1v1h-1zM392 362h1v1h-1zM393 363h1v1h-1zM400 361h1v1h-1zM398 362h1v1h-1zM402 364h1v1h-1zM380 361h1v1h-1zM369 343h1v1h-1zM364 344h1v1h-1zM368 344h1v1h-1zM368 343h1v1h-1zM361 348h1v1h-1zM367 344h1v1h-1zM355 350h1v1h-1zM364 342h1v1h-1zM370 343h1v1h-1zM361 345h1v1h-1zM368 345h1v1h-1zM357 347h1v1h-1zM362 346h1v1h-1zM356 351h1v1h-1zM357 348h1v1h-1zM368 342h1v1h-1zM358 348h1v1h-1zM357 350h1v1h-1zM360 346h1v1h-1zM363 346h1v1h-1zM370 342h1v1h-1zM365 344h1v1h-1zM365 346h1v1h-1zM367 348h1v1h-1zM363 347h1v1h-1zM365 345h1v1h-1zM359 348h1v1h-1z" fill="#5a5a5a"/>
<path d="M348 325h1v1h-1zM346 326h1v1h-1zM350 326h1v1h-1zM347 327h1v1h-1zM350 327h1v1h-1zM354 327h1v1h-1zM348 328h1v1h-1zM351 328h1v1h-1zM352 328h1v1h-1zM354 328h1v1h-1zM347 329h1v1h-1zM353 329h1v1h-1zM355 329h1v1h-1zM356 329h1v1h-1zM352 330h1v1h-1zM353 330h1v1h-1zM355 330h1v1h-1zM358 330h1v1h-1zM360 330h1v1h-1zM346 331h1v1h-1zM347 331h1v1h-1zM348 331h1v1h-1zM352 331h1v1h-1zM356 331h1v1h-1zM358 331h1v1h-1zM352 332h1v1h-1zM354 332h1v1h-1zM359 332h1v1h-1zM360 332h1v1h-1zM363 332h1v1h-1zM347 333h1v1h-1zM364 333h1v1h-1zM347 334h1v1h-1zM353 334h1v1h-1zM356 334h1v1h-1zM357 334h1v1h-1zM359 334h1v1h-1zM360 334h1v1h-1zM362 334h1v1h-1zM366 334h1v1h-1zM347 335h1v1h-1zM350 335h1v1h-1zM357 335h1v1h-1zM363 335h1v1h-1zM354 336h1v1h-1zM357 336h1v1h-1zM359 336h1v1h-1zM361 336h1v1h-1zM350 337h1v1h-1zM352 337h1v1h-1zM354 337h1v1h-1zM358 337h1v1h-1zM364 337h1v1h-1zM348 338h1v1h-1zM360 338h1v1h-1zM361 338h1v1h-1zM362 338h1v1h-1zM349 339h1v1h-1zM351 339h1v1h-1zM353 339h1v1h-1zM355 339h1v1h-1zM348 340h1v1h-1zM350 340h1v1h-1zM353 340h1v1h-1zM354 340h1v1h-1zM351 341h1v1h-1zM333 317h1v1h-1zM334 317h1v1h-1zM341 317h1v1h-1zM336 318h1v1h-1zM338 318h1v1h-1zM339 318h1v1h-1zM340 318h1v1h-1zM333 319h1v1h-1zM337 319h1v1h-1zM338 319h1v1h-1zM344 319h1v1h-1zM334 320h1v1h-1zM335 320h1v1h-1zM336 320h1v1h-1zM338 320h1v1h-1zM340 320h1v1h-1zM333 321h1v1h-1zM334 321h1v1h-1zM338 321h1v1h-1zM339 321h1v1h-1zM334 322h1v1h-1zM335 322h1v1h-1zM336 323h1v1h-1zM331 324h1v1h-1zM336 324h1v1h-1zM338 324h1v1h-1zM334 325h1v1h-1z" fill="#d8d8d8"/>
</g>
<rect x="331.4" y="317.3" width="92.5" height="50" fill="none" stroke="#555" stroke-width="1"/>
<path d="M332.9 367.8h1v2h-1zM335.9 367.8h1v1h-1zM338.9 367.8h1v1h-1zM341.9 367.8h1v2h-1zM344.9 367.8h1v2h-1zM347.9 367.8h1v2h-1zM351.9 367.8h1v1h-1zM354.9 367.8h1v1h-1zM357.9 367.8h1v2h-1zM361.9 367.8h1v1h-1zM364.9 367.8h1v1h-1zM368.9 367.8h1v1h-1zM370.9 367.8h1v2h-1zM372.9 367.8h1v2h-1zM376.9 367.8h1v2h-1zM379.9 367.8h1v2h-1zM382.9 367.8h1v2h-1zM385.9 367.8h1v2h-1zM389.9 367.8h1v2h-1zM392.9 367.8h1v2h-1zM396.9 367.8h1v1h-1zM399.9 367.8h1v2h-1zM402.9 367.8h1v2h-1zM405.9 367.8h1v1h-1zM409.9 367.8h1v1h-1zM412.9 367.8h1v2h-1zM415.9 367.8h1v2h-1zM418.9 367.8h1v2h-1zM422.9 367.8h1v1h-1z" fill="#666"/>
<rect x="368.4" y="319.7" width="34.6" height="22.5" fill="none" stroke="#333" stroke-width="1.1"/>
<text x="371.9" y="332.2" font-size="12.2" font-weight="bold" font-family="Liberation Serif" stroke="#000" stroke-width="0.3" textLength="35.2" lengthAdjust="spacingAndGlyphs">89..2%</text>
</svg></body></html>
